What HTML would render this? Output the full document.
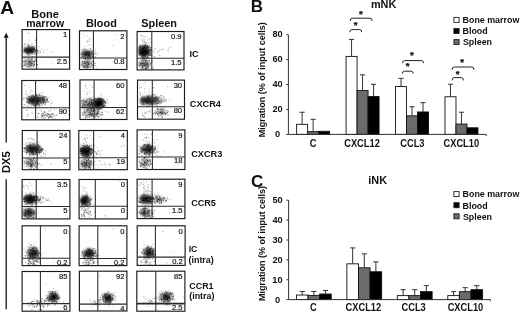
<!DOCTYPE html>
<html><head><meta charset="utf-8"><style>
html,body{margin:0;padding:0;background:#fff;}
svg{display:block;font-family:"Liberation Sans", sans-serif;filter:grayscale(1);}
</style></head><body>
<svg width="520" height="313" viewBox="0 0 520 313">
<defs><filter id="bl" x="-50%" y="-50%" width="200%" height="200%"><feGaussianBlur stdDeviation="1.4"/></filter><filter id="dt" x="0" y="0" width="100%" height="100%"><feGaussianBlur stdDeviation="0.7"/></filter><clipPath id="c00"><rect x="22.1" y="29.6" width="47.5" height="39.6"/></clipPath><clipPath id="c01"><rect x="79.5" y="30.8" width="47.4" height="38.7"/></clipPath><clipPath id="c02"><rect x="137.1" y="31.5" width="46.9" height="38.4"/></clipPath><clipPath id="c10"><rect x="21.8" y="80.5" width="47.7" height="39.3"/></clipPath><clipPath id="c11"><rect x="80" y="79.9" width="46.9" height="39.6"/></clipPath><clipPath id="c12"><rect x="137.5" y="80.1" width="47.0" height="39.1"/></clipPath><clipPath id="c20"><rect x="22.3" y="130.5" width="47.6" height="39.2"/></clipPath><clipPath id="c21"><rect x="78.8" y="130.5" width="48.5" height="39.2"/></clipPath><clipPath id="c22"><rect x="137.1" y="129.9" width="47.8" height="39.6"/></clipPath><clipPath id="c30"><rect x="22.1" y="179.5" width="47.8" height="39.4"/></clipPath><clipPath id="c31"><rect x="79.1" y="179.5" width="48.2" height="39.4"/></clipPath><clipPath id="c32"><rect x="137.1" y="179.2" width="47.8" height="39.4"/></clipPath><clipPath id="c40"><rect x="22.1" y="225.8" width="47.8" height="39.8"/></clipPath><clipPath id="c41"><rect x="79.1" y="225.8" width="47.8" height="39.8"/></clipPath><clipPath id="c42"><rect x="137.2" y="225.8" width="47.9" height="39.6"/></clipPath><clipPath id="c50"><rect x="22.1" y="271.5" width="47.8" height="39.7"/></clipPath><clipPath id="c51"><rect x="79.4" y="271.2" width="47.5" height="39.8"/></clipPath><clipPath id="c52"><rect x="136.8" y="271.2" width="48.1" height="40.0"/></clipPath></defs>
<rect width="520" height="313" fill="#fff"/>
<g id="panelA">
<text x="0.32" y="14.30" font-size="19.2" font-weight="bold" fill="#111">A</text>
<text x="31.33" y="17.60" font-size="11.0" font-weight="bold" fill="#111">Bone</text>
<text x="26.16" y="26.50" font-size="10.5" font-weight="bold" fill="#111">marrow</text>
<text x="85.94" y="26.50" font-size="10.9" font-weight="bold" fill="#111">Blood</text>
<text x="141.27" y="26.50" font-size="10.9" font-weight="bold" fill="#111">Spleen</text>
<text transform="translate(189.56 57.20) scale(1 1.07)" font-size="9.1" font-weight="bold" fill="#111">IC</text>
<text transform="translate(189.83 106.50) scale(1 1.07)" font-size="9.2" font-weight="bold" fill="#111">CXCR4</text>
<text transform="translate(191.13 156.50) scale(1 1.07)" font-size="9.2" font-weight="bold" fill="#111">CXCR3</text>
<text transform="translate(191.14 206.10) scale(1 1.07)" font-size="9.1" font-weight="bold" fill="#111">CCR5</text>
<text transform="translate(188.68 251.80) scale(1 1.07)" font-size="8.8" font-weight="bold" fill="#111">IC</text>
<text x="188.56" y="262.70" font-size="8.9" font-weight="bold" fill="#111">(intra)</text>
<text transform="translate(189.34 288.50) scale(1 1.07)" font-size="8.9" font-weight="bold" fill="#111">CCR1</text>
<text x="189.25" y="298.80" font-size="8.9" font-weight="bold" fill="#111">(intra)</text>
<path d="M6.2 36.5 V142.5 M6.2 179.3 V309.3" stroke="#111" stroke-width="1.3" fill="none"/>
<path d="M6.2 32.8 L3.8 37.8 L8.6 37.8 Z" fill="#111"/>
<text transform="translate(9.60 173.08) rotate(-90)" font-size="11.2" font-weight="bold" fill="#111">DX5</text>
<g clip-path="url(#c00)"><g filter="url(#bl)">
<ellipse cx="29.5" cy="50" rx="6.0" ry="3.1" fill="#000" opacity="0.80"/>
<ellipse cx="29.3" cy="63" rx="5.6" ry="4.8" fill="#000" opacity="0.28"/>
</g></g>
<g clip-path="url(#c01)"><g filter="url(#bl)">
<ellipse cx="87" cy="54" rx="5.6" ry="4.0" fill="#000" opacity="0.60"/>
<ellipse cx="86.5" cy="64" rx="5.6" ry="4.0" fill="#000" opacity="0.30"/>
</g></g>
<g clip-path="url(#c02)"><g filter="url(#bl)">
<ellipse cx="144" cy="51" rx="5.6" ry="5.6" fill="#000" opacity="0.85"/>
<ellipse cx="144.5" cy="64" rx="5.6" ry="4.4" fill="#000" opacity="0.35"/>
</g></g>
<g clip-path="url(#c10)"><g filter="url(#bl)">
<ellipse cx="37" cy="100" rx="8.8" ry="4.4" fill="#000" opacity="0.55"/>
<ellipse cx="32" cy="100" rx="4.8" ry="3.2" fill="#000" opacity="0.45"/>
</g></g>
<g clip-path="url(#c11)"><g filter="url(#bl)">
<ellipse cx="99" cy="103" rx="4.8" ry="4.4" fill="#000" opacity="0.85"/>
<ellipse cx="91" cy="104" rx="9.6" ry="5.6" fill="#000" opacity="0.35"/>
<ellipse cx="92" cy="113.5" rx="8.8" ry="4.0" fill="#000" opacity="0.25"/>
</g></g>
<g clip-path="url(#c12)"><g filter="url(#bl)">
<ellipse cx="150" cy="100" rx="10.0" ry="4.0" fill="#000" opacity="0.50"/>
<ellipse cx="145.5" cy="100" rx="5.2" ry="3.2" fill="#000" opacity="0.35"/>
<ellipse cx="161" cy="112" rx="6.0" ry="3.6" fill="#000" opacity="0.26"/>
</g></g>
<g clip-path="url(#c20)"><g filter="url(#bl)">
<ellipse cx="33" cy="149" rx="7.2" ry="4.4" fill="#000" opacity="0.75"/>
<ellipse cx="30" cy="163" rx="5.6" ry="4.4" fill="#000" opacity="0.30"/>
</g></g>
<g clip-path="url(#c21)"><g filter="url(#bl)">
<ellipse cx="85.5" cy="151" rx="5.6" ry="4.8" fill="#000" opacity="0.90"/>
<ellipse cx="86" cy="163.5" rx="5.6" ry="4.4" fill="#000" opacity="0.40"/>
</g></g>
<g clip-path="url(#c22)"><g filter="url(#bl)">
<ellipse cx="147.5" cy="149" rx="6.4" ry="4.4" fill="#000" opacity="0.65"/>
<ellipse cx="145" cy="162.5" rx="5.6" ry="4.4" fill="#000" opacity="0.28"/>
</g></g>
<g clip-path="url(#c30)"><g filter="url(#bl)">
<ellipse cx="30.5" cy="199" rx="6.8" ry="4.0" fill="#000" opacity="0.85"/>
<ellipse cx="29" cy="212.5" rx="5.6" ry="4.4" fill="#000" opacity="0.60"/>
</g></g>
<g clip-path="url(#c31)"><g filter="url(#bl)">
<ellipse cx="84.5" cy="200.5" rx="4.8" ry="4.4" fill="#000" opacity="0.80"/>
</g></g>
<g clip-path="url(#c32)"><g filter="url(#bl)">
<ellipse cx="146" cy="199" rx="6.4" ry="4.0" fill="#000" opacity="0.75"/>
<ellipse cx="159" cy="199.5" rx="6.4" ry="2.8" fill="#000" opacity="0.30"/>
<ellipse cx="145" cy="212.5" rx="5.6" ry="4.4" fill="#000" opacity="0.40"/>
</g></g>
<g clip-path="url(#c40)"><g filter="url(#bl)">
<ellipse cx="33" cy="253.5" rx="6.0" ry="6.0" fill="#000" opacity="0.50"/>
<ellipse cx="33" cy="252.5" rx="3.2" ry="3.2" fill="#000" opacity="0.40"/>
</g></g>
<g clip-path="url(#c41)"><g filter="url(#bl)">
<ellipse cx="89" cy="253.5" rx="6.4" ry="4.8" fill="#000" opacity="0.50"/>
<ellipse cx="89.5" cy="253" rx="3.6" ry="2.8" fill="#000" opacity="0.40"/>
</g></g>
<g clip-path="url(#c42)"><g filter="url(#bl)">
<ellipse cx="148.5" cy="252.5" rx="5.6" ry="5.2" fill="#000" opacity="0.50"/>
<ellipse cx="149" cy="252" rx="3.2" ry="3.2" fill="#000" opacity="0.40"/>
</g></g>
<g clip-path="url(#c50)"><g filter="url(#bl)">
<ellipse cx="53" cy="297" rx="5.0" ry="4.5" fill="#000" opacity="0.62"/>
<ellipse cx="53.5" cy="296.5" rx="2.8" ry="2.4" fill="#000" opacity="0.50"/>
</g></g>
<g clip-path="url(#c51)"><g filter="url(#bl)">
<ellipse cx="107.5" cy="298" rx="5.2" ry="4.4" fill="#000" opacity="0.58"/>
<ellipse cx="107.5" cy="298" rx="2.8" ry="2.4" fill="#000" opacity="0.45"/>
</g></g>
<g clip-path="url(#c52)"><g filter="url(#bl)">
<ellipse cx="166" cy="297" rx="5.6" ry="5.2" fill="#000" opacity="0.45"/>
<ellipse cx="166.5" cy="297" rx="2.8" ry="2.8" fill="#000" opacity="0.38"/>
</g></g>
<g>
<path d="M32.8 43.7h1.1v1.1h-1.1zM27.9 39.6h1.1v1.1h-1.1zM23.8 45.5h1.1v1.1h-1.1zM26.3 41.7h1.1v1.1h-1.1zM28.5 39.5h1.1v1.1h-1.1zM41.3 48.3h1.1v1.1h-1.1zM46.9 49h1.1v1.1h-1.1zM31.5 48.3h1.1v1.1h-1.1zM28.2 52h1.1v1.1h-1.1zM30.7 49.3h1.1v1.1h-1.1zM38.1 52.4h1.1v1.1h-1.1zM35.5 55.2h1.1v1.1h-1.1zM34.7 48.9h1.1v1.1h-1.1zM31.2 52.4h1.1v1.1h-1.1zM34.1 51.4h1.1v1.1h-1.1zM28.7 53.6h1.1v1.1h-1.1zM34.2 44.9h1.1v1.1h-1.1zM90.1 39.3h1.1v1.1h-1.1zM83.9 36.2h1.1v1.1h-1.1zM94.9 56.3h1.1v1.1h-1.1zM86.9 59.6h1.1v1.1h-1.1zM93.2 56h1.1v1.1h-1.1zM88.7 51.3h1.1v1.1h-1.1zM91.5 59.4h1.1v1.1h-1.1zM88.1 51.9h1.1v1.1h-1.1zM96.1 54.9h1.1v1.1h-1.1zM94.2 58.2h1.1v1.1h-1.1zM89.7 51.7h1.1v1.1h-1.1zM85.2 57.3h1.1v1.1h-1.1zM89.7 58.2h1.1v1.1h-1.1zM93.1 63.8h1.1v1.1h-1.1zM93.2 63.3h1.1v1.1h-1.1zM92.9 62.5h1.1v1.1h-1.1zM88 60.8h1.1v1.1h-1.1zM81.4 60.4h1.1v1.1h-1.1zM86.4 58.3h1.1v1.1h-1.1zM144.3 42.9h1.1v1.1h-1.1zM141.4 35.4h1.1v1.1h-1.1zM165.1 49h1.1v1.1h-1.1zM168.3 51.8h1.1v1.1h-1.1zM145.5 60.5h1.1v1.1h-1.1zM145.2 52.9h1.1v1.1h-1.1zM141.2 55.4h1.1v1.1h-1.1zM144.9 47.2h1.1v1.1h-1.1zM148.4 51.6h1.1v1.1h-1.1zM145.8 55.6h1.1v1.1h-1.1zM142.9 47.1h1.1v1.1h-1.1zM147.5 46.8h1.1v1.1h-1.1zM149.4 48.1h1.1v1.1h-1.1zM141.6 44.7h1.1v1.1h-1.1zM150.6 54.6h1.1v1.1h-1.1zM144.5 49.3h1.1v1.1h-1.1zM149.8 41.2h1.1v1.1h-1.1zM149.3 54.7h1.1v1.1h-1.1zM143.9 54.3h1.1v1.1h-1.1zM148.2 51.5h1.1v1.1h-1.1zM147.1 46h1.1v1.1h-1.1zM153.3 52.2h1.1v1.1h-1.1zM141.8 52h1.1v1.1h-1.1zM146.6 57.7h1.1v1.1h-1.1zM154.3 48.9h1.1v1.1h-1.1zM148.8 51.3h1.1v1.1h-1.1zM149.3 51.1h1.1v1.1h-1.1zM144.7 43.6h1.1v1.1h-1.1zM144.5 64.9h1.1v1.1h-1.1zM147.6 57.4h1.1v1.1h-1.1zM140.9 63h1.1v1.1h-1.1zM29.5 87h1.1v1.1h-1.1zM29.2 87.3h1.1v1.1h-1.1zM30.2 92.9h1.1v1.1h-1.1zM27.1 109.8h1.1v1.1h-1.1zM30.9 112h1.1v1.1h-1.1zM28 114.2h1.1v1.1h-1.1zM37.8 101.4h1.1v1.1h-1.1zM40.1 102.1h1.1v1.1h-1.1zM50.1 105.4h1.1v1.1h-1.1zM28.7 96.3h1.1v1.1h-1.1zM24.2 105.1h1.1v1.1h-1.1zM30.9 94.8h1.1v1.1h-1.1zM44.7 101h1.1v1.1h-1.1zM43.1 98.2h1.1v1.1h-1.1zM41.5 101.1h1.1v1.1h-1.1zM37.9 106.8h1.1v1.1h-1.1zM37.2 101.9h1.1v1.1h-1.1zM36.6 96.5h1.1v1.1h-1.1zM38.9 106.2h1.1v1.1h-1.1zM37.7 98.2h1.1v1.1h-1.1zM52.7 102.2h1.1v1.1h-1.1zM36.1 108.8h1.1v1.1h-1.1zM33 97.8h1.1v1.1h-1.1zM50 104.7h1.1v1.1h-1.1zM46 99.5h1.1v1.1h-1.1zM36.9 101.2h1.1v1.1h-1.1zM50.3 96h1.1v1.1h-1.1zM42.7 92h1.1v1.1h-1.1zM30.4 100.7h1.1v1.1h-1.1zM26.5 102.5h1.1v1.1h-1.1zM38.7 95.8h1.1v1.1h-1.1zM39.5 99.6h1.1v1.1h-1.1zM32.9 95.4h1.1v1.1h-1.1zM27.6 101.1h1.1v1.1h-1.1zM90.1 88.7h1.1v1.1h-1.1zM86 87.8h1.1v1.1h-1.1zM84.3 90.9h1.1v1.1h-1.1zM87 92.3h1.1v1.1h-1.1zM89.3 85h1.1v1.1h-1.1zM107.6 102.9h1.1v1.1h-1.1zM105.4 105.9h1.1v1.1h-1.1zM102 108.6h1.1v1.1h-1.1zM99.6 102.6h1.1v1.1h-1.1zM98.1 106.6h1.1v1.1h-1.1zM105.8 101.6h1.1v1.1h-1.1zM101.8 110.3h1.1v1.1h-1.1zM99.8 101.5h1.1v1.1h-1.1zM100.1 98.7h1.1v1.1h-1.1zM107.3 102.8h1.1v1.1h-1.1zM104.6 104.6h1.1v1.1h-1.1zM101 103.1h1.1v1.1h-1.1zM101.2 107.1h1.1v1.1h-1.1zM91.3 103.5h1.1v1.1h-1.1zM105.4 106.6h1.1v1.1h-1.1zM97 104.3h1.1v1.1h-1.1zM106.9 105.1h1.1v1.1h-1.1zM98.7 98.3h1.1v1.1h-1.1zM94.5 106.9h1.1v1.1h-1.1zM95.9 106.4h1.1v1.1h-1.1zM87.7 112.2h1.1v1.1h-1.1zM91.2 103.1h1.1v1.1h-1.1zM102.3 108.3h1.1v1.1h-1.1zM95.2 113.9h1.1v1.1h-1.1zM83.6 113.1h1.1v1.1h-1.1zM96.2 103.5h1.1v1.1h-1.1zM90 104.5h1.1v1.1h-1.1zM91.1 103.3h1.1v1.1h-1.1zM91.1 106.6h1.1v1.1h-1.1zM81.8 103.9h1.1v1.1h-1.1zM96.2 105.9h1.1v1.1h-1.1zM87.3 93.8h1.1v1.1h-1.1zM97.8 102.4h1.1v1.1h-1.1zM87.8 102.9h1.1v1.1h-1.1zM95.7 102.6h1.1v1.1h-1.1zM103.7 95.6h1.1v1.1h-1.1zM101.2 103.6h1.1v1.1h-1.1zM92.7 107.1h1.1v1.1h-1.1zM84.4 101.7h1.1v1.1h-1.1zM88.6 101.9h1.1v1.1h-1.1zM148.6 110.4h1.1v1.1h-1.1zM146.4 113.3h1.1v1.1h-1.1zM148.3 110.2h1.1v1.1h-1.1zM148 114.8h1.1v1.1h-1.1zM145.3 111.8h1.1v1.1h-1.1zM143.6 109.9h1.1v1.1h-1.1zM146.2 107.5h1.1v1.1h-1.1zM141.2 113h1.1v1.1h-1.1zM144.6 113.1h1.1v1.1h-1.1zM140.9 109h1.1v1.1h-1.1zM139.4 84.6h1.1v1.1h-1.1zM141.7 86.6h1.1v1.1h-1.1zM144.3 89.7h1.1v1.1h-1.1zM143.3 83.8h1.1v1.1h-1.1zM145 99.6h1.1v1.1h-1.1zM145.1 99.2h1.1v1.1h-1.1zM144.9 104.5h1.1v1.1h-1.1zM164 97.9h1.1v1.1h-1.1zM163.7 96.7h1.1v1.1h-1.1zM149.1 102.7h1.1v1.1h-1.1zM138.7 106.1h1.1v1.1h-1.1zM155 94.8h1.1v1.1h-1.1zM155.9 97h1.1v1.1h-1.1zM158 100.4h1.1v1.1h-1.1zM147.4 94.8h1.1v1.1h-1.1zM155 98.6h1.1v1.1h-1.1zM143.1 104.7h1.1v1.1h-1.1zM139.3 102.3h1.1v1.1h-1.1zM152.4 95.9h1.1v1.1h-1.1zM146 99.8h1.1v1.1h-1.1zM148.2 97.4h1.1v1.1h-1.1zM152 100.5h1.1v1.1h-1.1zM153 100h1.1v1.1h-1.1zM28.1 138.4h1.1v1.1h-1.1zM29.9 137.9h1.1v1.1h-1.1zM33.4 138.3h1.1v1.1h-1.1zM23.3 141.7h1.1v1.1h-1.1zM32.9 138.1h1.1v1.1h-1.1zM41.2 150.1h1.1v1.1h-1.1zM40.1 152.2h1.1v1.1h-1.1zM32 148.6h1.1v1.1h-1.1zM30 145.5h1.1v1.1h-1.1zM33.8 148.9h1.1v1.1h-1.1zM33.1 149.8h1.1v1.1h-1.1zM40.6 155.6h1.1v1.1h-1.1zM31 150.3h1.1v1.1h-1.1zM41.2 149.5h1.1v1.1h-1.1zM40.9 147.9h1.1v1.1h-1.1zM45 154.8h1.1v1.1h-1.1zM26.5 141.8h1.1v1.1h-1.1zM31.1 147.7h1.1v1.1h-1.1zM33 153.7h1.1v1.1h-1.1zM35.1 153.3h1.1v1.1h-1.1zM32.2 153.8h1.1v1.1h-1.1zM30.8 152.4h1.1v1.1h-1.1zM30.2 151.7h1.1v1.1h-1.1zM31.5 147.3h1.1v1.1h-1.1zM35 149.2h1.1v1.1h-1.1zM31.4 151.6h1.1v1.1h-1.1zM37.5 155.5h1.1v1.1h-1.1zM32.9 148.6h1.1v1.1h-1.1zM31.9 142.8h1.1v1.1h-1.1zM39.5 149.3h1.1v1.1h-1.1zM38.7 145.2h1.1v1.1h-1.1zM30.7 151.6h1.1v1.1h-1.1zM30.1 146.8h1.1v1.1h-1.1zM28.5 146.7h1.1v1.1h-1.1zM31.2 147.3h1.1v1.1h-1.1zM30.7 145.2h1.1v1.1h-1.1zM31.7 153h1.1v1.1h-1.1zM29.4 164.5h1.1v1.1h-1.1zM31.2 165.7h1.1v1.1h-1.1zM29.4 164.1h1.1v1.1h-1.1zM31.4 158.5h1.1v1.1h-1.1zM23.6 165.2h1.1v1.1h-1.1zM95.9 153h1.1v1.1h-1.1zM96.8 151.6h1.1v1.1h-1.1zM91.9 154.9h1.1v1.1h-1.1zM98.7 152h1.1v1.1h-1.1zM99.4 155.5h1.1v1.1h-1.1zM99.7 153.3h1.1v1.1h-1.1zM96.4 157.6h1.1v1.1h-1.1zM102.8 163.6h1.1v1.1h-1.1zM103.8 161.3h1.1v1.1h-1.1zM103.3 157.2h1.1v1.1h-1.1zM105.1 166.7h1.1v1.1h-1.1zM91.6 139.4h1.1v1.1h-1.1zM90.1 138h1.1v1.1h-1.1zM87 137.9h1.1v1.1h-1.1zM89 149.8h1.1v1.1h-1.1zM82.1 148.8h1.1v1.1h-1.1zM92.9 143.8h1.1v1.1h-1.1zM81.6 151.7h1.1v1.1h-1.1zM87.6 150.8h1.1v1.1h-1.1zM84 151.6h1.1v1.1h-1.1zM89.3 158.2h1.1v1.1h-1.1zM84.2 153.5h1.1v1.1h-1.1zM81.4 146.7h1.1v1.1h-1.1zM96.5 147.5h1.1v1.1h-1.1zM90.9 152.9h1.1v1.1h-1.1zM92 156.8h1.1v1.1h-1.1zM91.7 143.8h1.1v1.1h-1.1zM81.7 146.7h1.1v1.1h-1.1zM81.2 156.4h1.1v1.1h-1.1zM83.3 149.4h1.1v1.1h-1.1zM80 151.2h1.1v1.1h-1.1zM87.4 158.3h1.1v1.1h-1.1zM85.3 151.3h1.1v1.1h-1.1zM88.8 143h1.1v1.1h-1.1zM84.2 146.4h1.1v1.1h-1.1zM88.9 158.1h1.1v1.1h-1.1zM80.3 162.5h1.1v1.1h-1.1zM85.5 162.5h1.1v1.1h-1.1zM82.4 164.2h1.1v1.1h-1.1zM82.9 164.5h1.1v1.1h-1.1zM89.1 162.1h1.1v1.1h-1.1zM82.5 164.6h1.1v1.1h-1.1zM85 165h1.1v1.1h-1.1zM85 165.3h1.1v1.1h-1.1zM145.5 133.6h1.1v1.1h-1.1zM147.2 134.2h1.1v1.1h-1.1zM158.5 151.1h1.1v1.1h-1.1zM151.5 142.7h1.1v1.1h-1.1zM144 156.4h1.1v1.1h-1.1zM144 141h1.1v1.1h-1.1zM157.8 145.6h1.1v1.1h-1.1zM152.4 148.2h1.1v1.1h-1.1zM138.3 154.1h1.1v1.1h-1.1zM157.8 144.5h1.1v1.1h-1.1zM139.4 148.5h1.1v1.1h-1.1zM152.8 142.7h1.1v1.1h-1.1zM145.2 153.5h1.1v1.1h-1.1zM140.9 148.2h1.1v1.1h-1.1zM148.7 139.7h1.1v1.1h-1.1zM31.5 184.6h1.1v1.1h-1.1zM25 192.1h1.1v1.1h-1.1zM31.4 191.4h1.1v1.1h-1.1zM29.2 193.9h1.1v1.1h-1.1zM36 186.6h1.1v1.1h-1.1zM47.1 199.8h1.1v1.1h-1.1zM42.1 197.4h1.1v1.1h-1.1zM46.5 200.2h1.1v1.1h-1.1zM45.6 200h1.1v1.1h-1.1zM43.8 198.4h1.1v1.1h-1.1zM45.2 201h1.1v1.1h-1.1zM40.7 202.3h1.1v1.1h-1.1zM36.7 192.4h1.1v1.1h-1.1zM28.7 202.3h1.1v1.1h-1.1zM26.5 193.5h1.1v1.1h-1.1zM26.8 199.8h1.1v1.1h-1.1zM38.7 199.6h1.1v1.1h-1.1zM34.6 205.9h1.1v1.1h-1.1zM42 199.1h1.1v1.1h-1.1zM39.1 194.7h1.1v1.1h-1.1zM28.1 198.5h1.1v1.1h-1.1zM36.4 199h1.1v1.1h-1.1zM35 205.4h1.1v1.1h-1.1zM38.5 201.1h1.1v1.1h-1.1zM33.8 195.7h1.1v1.1h-1.1zM27.5 199h1.1v1.1h-1.1zM30.2 195.5h1.1v1.1h-1.1zM24 202.1h1.1v1.1h-1.1zM39.7 199.4h1.1v1.1h-1.1zM27.6 197.4h1.1v1.1h-1.1zM34.7 202.3h1.1v1.1h-1.1zM29.9 197h1.1v1.1h-1.1zM33.7 207.2h1.1v1.1h-1.1zM24.6 206.7h1.1v1.1h-1.1zM26.9 200.3h1.1v1.1h-1.1zM33.3 192.3h1.1v1.1h-1.1zM39.8 200h1.1v1.1h-1.1zM26.7 213.6h1.1v1.1h-1.1zM23.8 214.9h1.1v1.1h-1.1zM33 213.5h1.1v1.1h-1.1zM34.6 204.5h1.1v1.1h-1.1zM27.6 216h1.1v1.1h-1.1zM31 205h1.1v1.1h-1.1zM33.4 213.5h1.1v1.1h-1.1zM35.3 216.6h1.1v1.1h-1.1zM26.9 205.1h1.1v1.1h-1.1zM36 214.3h1.1v1.1h-1.1zM35.9 209.2h1.1v1.1h-1.1zM26.8 217h1.1v1.1h-1.1zM29.3 215.9h1.1v1.1h-1.1zM80.8 185.6h1.1v1.1h-1.1zM84.7 188.2h1.1v1.1h-1.1zM87.2 198.8h1.1v1.1h-1.1zM86.6 201.2h1.1v1.1h-1.1zM89.2 195.7h1.1v1.1h-1.1zM85 201.7h1.1v1.1h-1.1zM83.3 203.9h1.1v1.1h-1.1zM82.9 209.3h1.1v1.1h-1.1zM87.9 200.9h1.1v1.1h-1.1zM93.4 203.8h1.1v1.1h-1.1zM83.3 201.1h1.1v1.1h-1.1zM89.6 200.5h1.1v1.1h-1.1zM141 183.5h1.1v1.1h-1.1zM149.4 184.5h1.1v1.1h-1.1zM146.8 189.9h1.1v1.1h-1.1zM142.8 187.5h1.1v1.1h-1.1zM148.9 181.5h1.1v1.1h-1.1zM146.7 189.2h1.1v1.1h-1.1zM142.9 186.1h1.1v1.1h-1.1zM143.2 189.3h1.1v1.1h-1.1zM146.5 188.7h1.1v1.1h-1.1zM146.9 183.7h1.1v1.1h-1.1zM154.2 192.9h1.1v1.1h-1.1zM150.2 192.9h1.1v1.1h-1.1zM149.2 203.9h1.1v1.1h-1.1zM149.1 204h1.1v1.1h-1.1zM145.7 195.8h1.1v1.1h-1.1zM153.7 194.1h1.1v1.1h-1.1zM156.4 197.4h1.1v1.1h-1.1zM147.4 207.3h1.1v1.1h-1.1zM154.8 198.2h1.1v1.1h-1.1zM147.7 199.7h1.1v1.1h-1.1zM145.4 202.2h1.1v1.1h-1.1zM148.4 201.4h1.1v1.1h-1.1zM165.3 200.3h1.1v1.1h-1.1zM163.2 201.3h1.1v1.1h-1.1zM165 199.4h1.1v1.1h-1.1zM159.7 195.6h1.1v1.1h-1.1zM147.9 206.1h1.1v1.1h-1.1zM142.1 208.1h1.1v1.1h-1.1zM146.8 208.2h1.1v1.1h-1.1zM143.5 213.4h1.1v1.1h-1.1zM147.8 209.9h1.1v1.1h-1.1zM148.9 217.5h1.1v1.1h-1.1zM139.6 212.2h1.1v1.1h-1.1zM147.1 216.4h1.1v1.1h-1.1zM143.3 206.7h1.1v1.1h-1.1zM144 207.6h1.1v1.1h-1.1zM35.5 253.4h1.1v1.1h-1.1zM30.7 256.6h1.1v1.1h-1.1zM41.2 248.8h1.1v1.1h-1.1zM38.1 254.5h1.1v1.1h-1.1zM32.6 258h1.1v1.1h-1.1zM30.6 244.5h1.1v1.1h-1.1zM35.2 241.9h1.1v1.1h-1.1zM33.3 243.4h1.1v1.1h-1.1zM43.5 252.3h1.1v1.1h-1.1zM33 261.9h1.1v1.1h-1.1zM31.8 251h1.1v1.1h-1.1zM37.5 253.9h1.1v1.1h-1.1zM29.6 254.6h1.1v1.1h-1.1zM86.7 254.2h1.1v1.1h-1.1zM96.1 252.7h1.1v1.1h-1.1zM87.8 259.2h1.1v1.1h-1.1zM88.8 252.6h1.1v1.1h-1.1zM90.2 253.5h1.1v1.1h-1.1zM90.2 252.9h1.1v1.1h-1.1zM89.5 253.1h1.1v1.1h-1.1zM84.9 254.7h1.1v1.1h-1.1zM143.2 261.4h1.1v1.1h-1.1zM144.9 260.9h1.1v1.1h-1.1zM142.3 258.9h1.1v1.1h-1.1zM143.9 258.6h1.1v1.1h-1.1zM141.7 262.2h1.1v1.1h-1.1zM141.7 261.7h1.1v1.1h-1.1zM146.2 260.5h1.1v1.1h-1.1zM150.6 260.3h1.1v1.1h-1.1zM140.8 260.9h1.1v1.1h-1.1zM148.8 261.7h1.1v1.1h-1.1zM143.4 259.1h1.1v1.1h-1.1zM139.8 255.1h1.1v1.1h-1.1zM138.9 248.5h1.1v1.1h-1.1zM147 246.3h1.1v1.1h-1.1zM44.2 301.9h1.1v1.1h-1.1zM45.9 298.3h1.1v1.1h-1.1zM41.1 300.4h1.1v1.1h-1.1zM44.2 300.1h1.1v1.1h-1.1zM45.4 300.7h1.1v1.1h-1.1zM45.4 298.1h1.1v1.1h-1.1zM39.9 300.1h1.1v1.1h-1.1zM43.9 300.3h1.1v1.1h-1.1zM57.8 289.7h1.1v1.1h-1.1zM48.1 301.3h1.1v1.1h-1.1zM59.5 297.6h1.1v1.1h-1.1zM57 290.7h1.1v1.1h-1.1zM93.2 304.6h1.1v1.1h-1.1zM99.2 299h1.1v1.1h-1.1zM102.7 302.7h1.1v1.1h-1.1zM96.1 303.9h1.1v1.1h-1.1zM94.4 303.8h1.1v1.1h-1.1zM92.8 301.8h1.1v1.1h-1.1zM91.9 303.4h1.1v1.1h-1.1zM98.1 304.8h1.1v1.1h-1.1zM90.2 305.6h1.1v1.1h-1.1zM95.3 303.8h1.1v1.1h-1.1zM96.6 304.2h1.1v1.1h-1.1zM97.4 303.5h1.1v1.1h-1.1zM97.4 301.9h1.1v1.1h-1.1zM92 307.2h1.1v1.1h-1.1zM99.5 299.1h1.1v1.1h-1.1zM103.1 295.6h1.1v1.1h-1.1zM99.8 300.3h1.1v1.1h-1.1zM99.5 298.8h1.1v1.1h-1.1zM100.8 302.9h1.1v1.1h-1.1zM102.2 295.1h1.1v1.1h-1.1zM107.5 305.2h1.1v1.1h-1.1zM107.4 297.3h1.1v1.1h-1.1zM107.9 292.2h1.1v1.1h-1.1zM104.6 292.4h1.1v1.1h-1.1zM109.7 301.3h1.1v1.1h-1.1zM104.6 298.2h1.1v1.1h-1.1zM146.6 300.9h1.1v1.1h-1.1zM158 297.7h1.1v1.1h-1.1zM149.3 301.8h1.1v1.1h-1.1zM155.3 298.4h1.1v1.1h-1.1zM143.8 297.3h1.1v1.1h-1.1zM149.9 300.3h1.1v1.1h-1.1zM152.3 298.7h1.1v1.1h-1.1zM146.5 298.2h1.1v1.1h-1.1zM151.8 298h1.1v1.1h-1.1zM154.8 298.9h1.1v1.1h-1.1zM164.1 301.4h1.1v1.1h-1.1zM164 300.2h1.1v1.1h-1.1zM159.1 299.9h1.1v1.1h-1.1zM160.8 302.8h1.1v1.1h-1.1zM163.5 298.2h1.1v1.1h-1.1zM160.1 298.2h1.1v1.1h-1.1zM166.6 298.9h1.1v1.1h-1.1zM159.1 296.5h1.1v1.1h-1.1zM175.4 301.2h1.1v1.1h-1.1zM170.1 291.5h1.1v1.1h-1.1zM173.7 300.7h1.1v1.1h-1.1zM157.8 302.7h1.1v1.1h-1.1zM159 295.8h1.1v1.1h-1.1zM164.5 297.9h1.1v1.1h-1.1zM169.5 296h1.1v1.1h-1.1zM166.3 301.4h1.1v1.1h-1.1zM163.8 295.2h1.1v1.1h-1.1z" fill="#000" opacity="0.15"/>
<path d="M51.6 62.7h1.1v1.1h-1.1zM43.3 49.8h1.1v1.1h-1.1zM115.2 34.3h1.1v1.1h-1.1zM112 44.8h1.1v1.1h-1.1zM172.5 40.7h1.1v1.1h-1.1zM124.9 82h1.1v1.1h-1.1zM158.8 108.7h1.1v1.1h-1.1zM59.9 132.7h1.1v1.1h-1.1zM178.5 139.4h1.1v1.1h-1.1zM39.8 196.9h1.1v1.1h-1.1zM66.9 216.7h1.1v1.1h-1.1zM174 215.2h1.1v1.1h-1.1zM179 180.3h1.1v1.1h-1.1zM53.1 261.3h1.1v1.1h-1.1zM170.3 251.7h1.1v1.1h-1.1zM45.1 283.8h1.1v1.1h-1.1zM54.9 304.8h1.1v1.1h-1.1zM112 279.5h1.1v1.1h-1.1zM106.5 292.9h1.1v1.1h-1.1zM159.7 291.2h1.1v1.1h-1.1zM183 295.9h1.1v1.1h-1.1z" fill="#000" opacity="0.2"/>
<path d="M35.5 38.4h1.1v1.1h-1.1zM35.2 41.8h1.1v1.1h-1.1zM35.3 38.9h1.1v1.1h-1.1zM27.7 32.7h1.1v1.1h-1.1zM28.4 44.3h1.1v1.1h-1.1zM28.7 33h1.1v1.1h-1.1zM42.9 51.8h1.1v1.1h-1.1zM39.8 51.6h1.1v1.1h-1.1zM24.5 55.3h1.1v1.1h-1.1zM27.9 45.7h1.1v1.1h-1.1zM28.4 49.9h1.1v1.1h-1.1zM38.3 45.9h1.1v1.1h-1.1zM31.9 56h1.1v1.1h-1.1zM24.5 47.4h1.1v1.1h-1.1zM24.7 44h1.1v1.1h-1.1zM28.1 55.2h1.1v1.1h-1.1zM29.9 51.1h1.1v1.1h-1.1zM33.5 48.4h1.1v1.1h-1.1zM35.5 52.2h1.1v1.1h-1.1zM88.4 40.6h1.1v1.1h-1.1zM82.5 33.8h1.1v1.1h-1.1zM86.9 35.5h1.1v1.1h-1.1zM92.4 44.5h1.1v1.1h-1.1zM92.6 36h1.1v1.1h-1.1zM97.2 52.5h1.1v1.1h-1.1zM91.4 56h1.1v1.1h-1.1zM94.8 50h1.1v1.1h-1.1zM95 52.3h1.1v1.1h-1.1zM83.4 48h1.1v1.1h-1.1zM81.7 50.2h1.1v1.1h-1.1zM92.4 55.6h1.1v1.1h-1.1zM87.5 60.2h1.1v1.1h-1.1zM83.2 45.9h1.1v1.1h-1.1zM88.5 53h1.1v1.1h-1.1zM97.3 53.5h1.1v1.1h-1.1zM83.7 61.8h1.1v1.1h-1.1zM93.3 51.5h1.1v1.1h-1.1zM84.6 52.5h1.1v1.1h-1.1zM87.7 56.4h1.1v1.1h-1.1zM85.2 63h1.1v1.1h-1.1zM83.3 57.8h1.1v1.1h-1.1zM83.4 65.1h1.1v1.1h-1.1zM83.8 65.8h1.1v1.1h-1.1zM143.8 38.7h1.1v1.1h-1.1zM141.3 34.8h1.1v1.1h-1.1zM143.2 36.6h1.1v1.1h-1.1zM147.4 38.1h1.1v1.1h-1.1zM167.9 47.8h1.1v1.1h-1.1zM158.9 54.8h1.1v1.1h-1.1zM162.4 48.6h1.1v1.1h-1.1zM153.7 51.3h1.1v1.1h-1.1zM142.2 39.7h1.1v1.1h-1.1zM139.9 48.1h1.1v1.1h-1.1zM141.3 55.2h1.1v1.1h-1.1zM142.4 59h1.1v1.1h-1.1zM148.1 43h1.1v1.1h-1.1zM147.5 53h1.1v1.1h-1.1zM142.5 53.8h1.1v1.1h-1.1zM146.1 51.5h1.1v1.1h-1.1zM145.8 43.6h1.1v1.1h-1.1zM152.4 49.7h1.1v1.1h-1.1zM139.4 52.1h1.1v1.1h-1.1zM141.3 38.8h1.1v1.1h-1.1zM141.5 39.6h1.1v1.1h-1.1zM148.9 45h1.1v1.1h-1.1zM150.2 53.6h1.1v1.1h-1.1zM138.9 50.2h1.1v1.1h-1.1zM152.4 55.5h1.1v1.1h-1.1zM147.6 45.5h1.1v1.1h-1.1zM141.2 49.9h1.1v1.1h-1.1zM140.4 45.4h1.1v1.1h-1.1zM150.2 50h1.1v1.1h-1.1zM146 53.8h1.1v1.1h-1.1zM149.4 51.5h1.1v1.1h-1.1zM140.7 68.1h1.1v1.1h-1.1zM144.2 60h1.1v1.1h-1.1zM151.5 67.2h1.1v1.1h-1.1zM143.1 63.8h1.1v1.1h-1.1zM140 64.3h1.1v1.1h-1.1zM147 63.5h1.1v1.1h-1.1zM147.2 66.7h1.1v1.1h-1.1zM143.4 64.2h1.1v1.1h-1.1zM145.3 58h1.1v1.1h-1.1zM139 64.6h1.1v1.1h-1.1zM142.2 60.4h1.1v1.1h-1.1zM32.3 91h1.1v1.1h-1.1zM29.8 91.3h1.1v1.1h-1.1zM25.7 90.6h1.1v1.1h-1.1zM24.3 84.8h1.1v1.1h-1.1zM27.4 116.2h1.1v1.1h-1.1zM26.9 115.6h1.1v1.1h-1.1zM32.2 112.8h1.1v1.1h-1.1zM37 102.9h1.1v1.1h-1.1zM37.4 107.1h1.1v1.1h-1.1zM38.4 99.2h1.1v1.1h-1.1zM23.2 97.6h1.1v1.1h-1.1zM34.4 99h1.1v1.1h-1.1zM34.5 102.6h1.1v1.1h-1.1zM23.2 105.2h1.1v1.1h-1.1zM48.8 101.2h1.1v1.1h-1.1zM50.5 98.9h1.1v1.1h-1.1zM25.1 93h1.1v1.1h-1.1zM43.1 97.3h1.1v1.1h-1.1zM27.5 97.5h1.1v1.1h-1.1zM43.5 95.9h1.1v1.1h-1.1zM38.4 98.9h1.1v1.1h-1.1zM42.7 101h1.1v1.1h-1.1zM32.1 94.8h1.1v1.1h-1.1zM31 99.3h1.1v1.1h-1.1zM42.2 92h1.1v1.1h-1.1zM35.7 102.3h1.1v1.1h-1.1zM38.1 100.8h1.1v1.1h-1.1zM23.6 97.3h1.1v1.1h-1.1zM46.2 96.4h1.1v1.1h-1.1zM24 97.3h1.1v1.1h-1.1zM37.7 99h1.1v1.1h-1.1zM36.8 97.1h1.1v1.1h-1.1zM26.5 98h1.1v1.1h-1.1zM38.1 101.6h1.1v1.1h-1.1zM30.2 100.3h1.1v1.1h-1.1zM23 98.7h1.1v1.1h-1.1zM35.6 94.9h1.1v1.1h-1.1zM26.4 104.9h1.1v1.1h-1.1zM89.6 92.1h1.1v1.1h-1.1zM87.2 90.2h1.1v1.1h-1.1zM99 101.7h1.1v1.1h-1.1zM100.2 100.4h1.1v1.1h-1.1zM95.3 100.9h1.1v1.1h-1.1zM101.6 99.8h1.1v1.1h-1.1zM95 104.4h1.1v1.1h-1.1zM99.8 103.4h1.1v1.1h-1.1zM100.9 105.7h1.1v1.1h-1.1zM100.9 103.8h1.1v1.1h-1.1zM93.3 103.5h1.1v1.1h-1.1zM102.7 99.1h1.1v1.1h-1.1zM99.7 102.7h1.1v1.1h-1.1zM94.8 97.9h1.1v1.1h-1.1zM92.6 103.6h1.1v1.1h-1.1zM97 104.6h1.1v1.1h-1.1zM99.3 107.5h1.1v1.1h-1.1zM102.5 105.7h1.1v1.1h-1.1zM92.9 105.3h1.1v1.1h-1.1zM101.6 111.9h1.1v1.1h-1.1zM86.3 93.6h1.1v1.1h-1.1zM104.8 110.3h1.1v1.1h-1.1zM97.2 109.5h1.1v1.1h-1.1zM82.6 103.3h1.1v1.1h-1.1zM102.3 106.4h1.1v1.1h-1.1zM86.1 98.4h1.1v1.1h-1.1zM85.7 104.4h1.1v1.1h-1.1zM86.7 104.7h1.1v1.1h-1.1zM94.4 103h1.1v1.1h-1.1zM92.7 106.5h1.1v1.1h-1.1zM91.3 111h1.1v1.1h-1.1zM95.3 102.2h1.1v1.1h-1.1zM100.5 97.9h1.1v1.1h-1.1zM144.8 112.5h1.1v1.1h-1.1zM141.7 115.1h1.1v1.1h-1.1zM142 113.5h1.1v1.1h-1.1zM149.1 111.7h1.1v1.1h-1.1zM144.6 117.6h1.1v1.1h-1.1zM144.7 112.9h1.1v1.1h-1.1zM143.8 112.4h1.1v1.1h-1.1zM148.8 88.3h1.1v1.1h-1.1zM144.6 81.8h1.1v1.1h-1.1zM143.7 88h1.1v1.1h-1.1zM169 99.7h1.1v1.1h-1.1zM150.4 97.4h1.1v1.1h-1.1zM164 101.4h1.1v1.1h-1.1zM146 104h1.1v1.1h-1.1zM154.2 101.1h1.1v1.1h-1.1zM143.7 92h1.1v1.1h-1.1zM144.1 100.1h1.1v1.1h-1.1zM154.7 98h1.1v1.1h-1.1zM153.2 93.9h1.1v1.1h-1.1zM139.8 95h1.1v1.1h-1.1zM164.6 100.3h1.1v1.1h-1.1zM150.4 98.5h1.1v1.1h-1.1zM153.1 97.3h1.1v1.1h-1.1zM148 91.2h1.1v1.1h-1.1zM150.3 92.4h1.1v1.1h-1.1zM151.4 94.9h1.1v1.1h-1.1zM140.8 98.3h1.1v1.1h-1.1zM153.5 94.3h1.1v1.1h-1.1zM151.9 104.5h1.1v1.1h-1.1zM149.4 99.6h1.1v1.1h-1.1zM162.1 98.1h1.1v1.1h-1.1zM148.1 103.7h1.1v1.1h-1.1zM152.7 99.6h1.1v1.1h-1.1zM143.6 105h1.1v1.1h-1.1zM147.7 95.1h1.1v1.1h-1.1zM166 100.4h1.1v1.1h-1.1zM153.3 94.8h1.1v1.1h-1.1zM150.6 95.2h1.1v1.1h-1.1zM143.7 104.3h1.1v1.1h-1.1zM141.7 99.2h1.1v1.1h-1.1zM146.9 102.2h1.1v1.1h-1.1zM147.2 101.5h1.1v1.1h-1.1zM33.8 140.3h1.1v1.1h-1.1zM29.8 137.7h1.1v1.1h-1.1zM30.8 141.7h1.1v1.1h-1.1zM30.7 149.9h1.1v1.1h-1.1zM24.6 147.3h1.1v1.1h-1.1zM33 144.3h1.1v1.1h-1.1zM30.2 147.9h1.1v1.1h-1.1zM37.7 158.2h1.1v1.1h-1.1zM28.9 142h1.1v1.1h-1.1zM33.8 144.1h1.1v1.1h-1.1zM37.4 148.1h1.1v1.1h-1.1zM34.5 148.3h1.1v1.1h-1.1zM31 151.7h1.1v1.1h-1.1zM40.7 155.7h1.1v1.1h-1.1zM32.7 148h1.1v1.1h-1.1zM41.5 149.3h1.1v1.1h-1.1zM30 144.1h1.1v1.1h-1.1zM32.1 151.1h1.1v1.1h-1.1zM39.2 154.2h1.1v1.1h-1.1zM35.5 141.6h1.1v1.1h-1.1zM32.1 163.2h1.1v1.1h-1.1zM33.6 168.3h1.1v1.1h-1.1zM33.8 158h1.1v1.1h-1.1zM31.4 167h1.1v1.1h-1.1zM26.6 160.8h1.1v1.1h-1.1zM92.8 149.4h1.1v1.1h-1.1zM96 152.6h1.1v1.1h-1.1zM100.8 150.1h1.1v1.1h-1.1zM97.1 154.1h1.1v1.1h-1.1zM96.4 154.1h1.1v1.1h-1.1zM98.2 149.9h1.1v1.1h-1.1zM90.8 151h1.1v1.1h-1.1zM92.5 150.4h1.1v1.1h-1.1zM101.1 164.5h1.1v1.1h-1.1zM100.2 163.7h1.1v1.1h-1.1zM97 164.7h1.1v1.1h-1.1zM98.3 160.3h1.1v1.1h-1.1zM94 164.2h1.1v1.1h-1.1zM100.1 160.5h1.1v1.1h-1.1zM86.7 137h1.1v1.1h-1.1zM82.7 138.4h1.1v1.1h-1.1zM85.7 135h1.1v1.1h-1.1zM80 148.9h1.1v1.1h-1.1zM87.7 154.5h1.1v1.1h-1.1zM82.5 151.5h1.1v1.1h-1.1zM88.3 153h1.1v1.1h-1.1zM90.4 148.8h1.1v1.1h-1.1zM93 144.4h1.1v1.1h-1.1zM85.2 150.4h1.1v1.1h-1.1zM89.2 155.2h1.1v1.1h-1.1zM84.8 150.8h1.1v1.1h-1.1zM93.6 156.8h1.1v1.1h-1.1zM90.8 149.2h1.1v1.1h-1.1zM82.9 150.1h1.1v1.1h-1.1zM83 144.9h1.1v1.1h-1.1zM93.8 151.3h1.1v1.1h-1.1zM94.4 155.3h1.1v1.1h-1.1zM82.8 147.8h1.1v1.1h-1.1zM91.5 154.9h1.1v1.1h-1.1zM83.1 149.9h1.1v1.1h-1.1zM80.3 145.5h1.1v1.1h-1.1zM89.5 157.6h1.1v1.1h-1.1zM92 157.1h1.1v1.1h-1.1zM86.4 163.6h1.1v1.1h-1.1zM89.1 162.7h1.1v1.1h-1.1zM82.6 165.8h1.1v1.1h-1.1zM86.4 164.4h1.1v1.1h-1.1zM82 164.6h1.1v1.1h-1.1zM97.8 167.6h1.1v1.1h-1.1zM94.7 168.6h1.1v1.1h-1.1zM81.2 161.1h1.1v1.1h-1.1zM89.5 161.2h1.1v1.1h-1.1zM146 136.5h1.1v1.1h-1.1zM149 142.1h1.1v1.1h-1.1zM148 137.3h1.1v1.1h-1.1zM144.2 133.6h1.1v1.1h-1.1zM145.8 137.4h1.1v1.1h-1.1zM152.8 139.1h1.1v1.1h-1.1zM146.9 141h1.1v1.1h-1.1zM163.4 151.3h1.1v1.1h-1.1zM156.4 151.5h1.1v1.1h-1.1zM147.7 147.9h1.1v1.1h-1.1zM149 148.6h1.1v1.1h-1.1zM142.3 153h1.1v1.1h-1.1zM154.9 145.9h1.1v1.1h-1.1zM141.1 155h1.1v1.1h-1.1zM148.2 156.6h1.1v1.1h-1.1zM147.6 145.3h1.1v1.1h-1.1zM152.5 152.5h1.1v1.1h-1.1zM140.7 151.5h1.1v1.1h-1.1zM157.4 147.9h1.1v1.1h-1.1zM138.6 152.9h1.1v1.1h-1.1zM157.4 151.2h1.1v1.1h-1.1zM148.1 147.1h1.1v1.1h-1.1zM148.3 149.4h1.1v1.1h-1.1zM155.1 152.6h1.1v1.1h-1.1zM146.6 148h1.1v1.1h-1.1zM142.8 149.8h1.1v1.1h-1.1zM144.8 152.4h1.1v1.1h-1.1zM148.6 144.3h1.1v1.1h-1.1zM143.5 151.5h1.1v1.1h-1.1zM153.4 150.5h1.1v1.1h-1.1zM152 145.9h1.1v1.1h-1.1zM23.2 185.3h1.1v1.1h-1.1zM30.4 185.2h1.1v1.1h-1.1zM23.3 186.4h1.1v1.1h-1.1zM29.2 182.6h1.1v1.1h-1.1zM27.7 186.3h1.1v1.1h-1.1zM27.9 188.3h1.1v1.1h-1.1zM39.9 198.5h1.1v1.1h-1.1zM44.9 198.1h1.1v1.1h-1.1zM40.9 195.2h1.1v1.1h-1.1zM48.1 199.9h1.1v1.1h-1.1zM38.9 200.6h1.1v1.1h-1.1zM46.3 198.5h1.1v1.1h-1.1zM28.1 199.2h1.1v1.1h-1.1zM28.9 194.2h1.1v1.1h-1.1zM23.3 196.5h1.1v1.1h-1.1zM24.5 200.6h1.1v1.1h-1.1zM26.8 197.9h1.1v1.1h-1.1zM40.7 202.4h1.1v1.1h-1.1zM30 193.8h1.1v1.1h-1.1zM33.7 196.6h1.1v1.1h-1.1zM31.7 195.9h1.1v1.1h-1.1zM27.6 202.1h1.1v1.1h-1.1zM39.8 199.5h1.1v1.1h-1.1zM41.5 196.8h1.1v1.1h-1.1zM33.8 196.2h1.1v1.1h-1.1zM34.8 203h1.1v1.1h-1.1zM33.2 196.5h1.1v1.1h-1.1zM30.4 215.2h1.1v1.1h-1.1zM26.7 210.3h1.1v1.1h-1.1zM29.5 212.5h1.1v1.1h-1.1zM33.6 212h1.1v1.1h-1.1zM34.7 212.5h1.1v1.1h-1.1zM27.7 213.8h1.1v1.1h-1.1zM23.2 215.3h1.1v1.1h-1.1zM30.4 212.6h1.1v1.1h-1.1zM82.4 187.8h1.1v1.1h-1.1zM85.3 187.4h1.1v1.1h-1.1zM83.4 190.5h1.1v1.1h-1.1zM81.1 200.6h1.1v1.1h-1.1zM90.2 195.6h1.1v1.1h-1.1zM89.2 204.9h1.1v1.1h-1.1zM85.2 202.3h1.1v1.1h-1.1zM91.4 206.1h1.1v1.1h-1.1zM89.9 203.8h1.1v1.1h-1.1zM83.3 198.2h1.1v1.1h-1.1zM90.6 199.3h1.1v1.1h-1.1zM86 202.5h1.1v1.1h-1.1zM90.4 197.7h1.1v1.1h-1.1zM88.1 204.2h1.1v1.1h-1.1zM84.1 197h1.1v1.1h-1.1zM84 199.4h1.1v1.1h-1.1zM144.1 185.3h1.1v1.1h-1.1zM142.6 180.7h1.1v1.1h-1.1zM140.4 182.9h1.1v1.1h-1.1zM145.7 180.7h1.1v1.1h-1.1zM140.5 181.7h1.1v1.1h-1.1zM145.4 190.4h1.1v1.1h-1.1zM145.3 190.9h1.1v1.1h-1.1zM138.9 185h1.1v1.1h-1.1zM143.2 187.3h1.1v1.1h-1.1zM143.5 182.5h1.1v1.1h-1.1zM144.2 187.9h1.1v1.1h-1.1zM147.8 187.5h1.1v1.1h-1.1zM144.6 189.8h1.1v1.1h-1.1zM139.2 184.2h1.1v1.1h-1.1zM147.9 184.5h1.1v1.1h-1.1zM151.8 200.9h1.1v1.1h-1.1zM150.2 191.1h1.1v1.1h-1.1zM144.2 199.7h1.1v1.1h-1.1zM140.7 201h1.1v1.1h-1.1zM156.6 202h1.1v1.1h-1.1zM152.3 196.5h1.1v1.1h-1.1zM148.2 202.5h1.1v1.1h-1.1zM140.7 198.1h1.1v1.1h-1.1zM139 201.1h1.1v1.1h-1.1zM142 194.3h1.1v1.1h-1.1zM144.8 197.8h1.1v1.1h-1.1zM142.8 200h1.1v1.1h-1.1zM140 198.4h1.1v1.1h-1.1zM152.3 193.5h1.1v1.1h-1.1zM150.2 203.7h1.1v1.1h-1.1zM149.3 195.7h1.1v1.1h-1.1zM138.3 201.4h1.1v1.1h-1.1zM144.8 201.1h1.1v1.1h-1.1zM148.7 197.3h1.1v1.1h-1.1zM143.2 192.3h1.1v1.1h-1.1zM148.3 195.7h1.1v1.1h-1.1zM143.7 204.9h1.1v1.1h-1.1zM155 202.3h1.1v1.1h-1.1zM143.5 191.3h1.1v1.1h-1.1zM154.5 203.1h1.1v1.1h-1.1zM161.4 199.6h1.1v1.1h-1.1zM165.8 198.2h1.1v1.1h-1.1zM170.2 198.8h1.1v1.1h-1.1zM157.6 198.7h1.1v1.1h-1.1zM150.4 200.5h1.1v1.1h-1.1zM156.9 196.1h1.1v1.1h-1.1zM157.2 198.8h1.1v1.1h-1.1zM161.5 198.9h1.1v1.1h-1.1zM153.8 210.2h1.1v1.1h-1.1zM152.4 210.4h1.1v1.1h-1.1zM150 206h1.1v1.1h-1.1zM145.5 214.6h1.1v1.1h-1.1zM143.6 211h1.1v1.1h-1.1zM30 244.5h1.1v1.1h-1.1zM27.9 243.1h1.1v1.1h-1.1zM40.7 254.3h1.1v1.1h-1.1zM38.5 252.8h1.1v1.1h-1.1zM32.8 260.7h1.1v1.1h-1.1zM24.5 255.1h1.1v1.1h-1.1zM23.2 247.6h1.1v1.1h-1.1zM27.5 246.6h1.1v1.1h-1.1zM33.5 246.6h1.1v1.1h-1.1zM34.2 256.5h1.1v1.1h-1.1zM92.1 253.1h1.1v1.1h-1.1zM89.9 252.7h1.1v1.1h-1.1zM90.1 255.4h1.1v1.1h-1.1zM85.9 250.7h1.1v1.1h-1.1zM89.2 253.1h1.1v1.1h-1.1zM85.5 252.3h1.1v1.1h-1.1zM88.4 249h1.1v1.1h-1.1zM143.8 264.2h1.1v1.1h-1.1zM146.1 261.6h1.1v1.1h-1.1zM145.2 261.4h1.1v1.1h-1.1zM146.4 261h1.1v1.1h-1.1zM147.3 261.1h1.1v1.1h-1.1zM147.2 261.6h1.1v1.1h-1.1zM146.9 260.7h1.1v1.1h-1.1zM150.4 263.8h1.1v1.1h-1.1zM143.1 258.7h1.1v1.1h-1.1zM148.5 263.7h1.1v1.1h-1.1zM145.3 262.7h1.1v1.1h-1.1zM146.7 251.7h1.1v1.1h-1.1zM152.4 243.6h1.1v1.1h-1.1zM151.5 249.1h1.1v1.1h-1.1zM143.7 244.3h1.1v1.1h-1.1zM152.5 254.6h1.1v1.1h-1.1zM139.8 256.3h1.1v1.1h-1.1zM146.5 247.4h1.1v1.1h-1.1zM144.9 248.2h1.1v1.1h-1.1zM151.9 250.7h1.1v1.1h-1.1zM151.8 255.7h1.1v1.1h-1.1zM148 249.1h1.1v1.1h-1.1zM147.5 256.7h1.1v1.1h-1.1zM148.3 256.5h1.1v1.1h-1.1zM53.1 299.8h1.1v1.1h-1.1zM47 299.2h1.1v1.1h-1.1zM45.8 295.4h1.1v1.1h-1.1zM48.4 299.2h1.1v1.1h-1.1zM43.7 299.5h1.1v1.1h-1.1zM45.3 299.5h1.1v1.1h-1.1zM44.1 299.2h1.1v1.1h-1.1zM48.7 303h1.1v1.1h-1.1zM52.9 298.7h1.1v1.1h-1.1zM47.8 291.1h1.1v1.1h-1.1zM55.3 293.3h1.1v1.1h-1.1zM46.9 299.4h1.1v1.1h-1.1zM46.1 295.1h1.1v1.1h-1.1zM58.3 301h1.1v1.1h-1.1zM95.1 303.4h1.1v1.1h-1.1zM93.7 300.1h1.1v1.1h-1.1zM94.3 300.9h1.1v1.1h-1.1zM94.2 303.6h1.1v1.1h-1.1zM95.8 303.1h1.1v1.1h-1.1zM94.1 302.3h1.1v1.1h-1.1zM91 301.5h1.1v1.1h-1.1zM94.9 302.5h1.1v1.1h-1.1zM93.5 300.5h1.1v1.1h-1.1zM98.9 302h1.1v1.1h-1.1zM98.8 304.3h1.1v1.1h-1.1zM90.5 302.5h1.1v1.1h-1.1zM103.7 304h1.1v1.1h-1.1zM99.5 299.8h1.1v1.1h-1.1zM100.6 302.1h1.1v1.1h-1.1zM97 301.1h1.1v1.1h-1.1zM102.1 297.3h1.1v1.1h-1.1zM108.4 297.7h1.1v1.1h-1.1zM115.3 296.7h1.1v1.1h-1.1zM109.3 299h1.1v1.1h-1.1zM99.3 299.5h1.1v1.1h-1.1zM114.8 296.3h1.1v1.1h-1.1zM110.1 301.6h1.1v1.1h-1.1zM109.8 298.6h1.1v1.1h-1.1zM110.3 296.3h1.1v1.1h-1.1zM110.7 299.1h1.1v1.1h-1.1zM154.8 298.1h1.1v1.1h-1.1zM150 300.1h1.1v1.1h-1.1zM156 302.2h1.1v1.1h-1.1zM145 298.9h1.1v1.1h-1.1zM143.2 296.3h1.1v1.1h-1.1zM152.4 301.2h1.1v1.1h-1.1zM150.4 300.3h1.1v1.1h-1.1zM147.4 300.7h1.1v1.1h-1.1zM147.5 305.6h1.1v1.1h-1.1zM149.1 298.7h1.1v1.1h-1.1zM143.4 301.3h1.1v1.1h-1.1zM157.5 304.3h1.1v1.1h-1.1zM149.8 301.9h1.1v1.1h-1.1zM158.3 295.5h1.1v1.1h-1.1zM159.3 302.4h1.1v1.1h-1.1zM158.6 292.6h1.1v1.1h-1.1zM159.4 298.9h1.1v1.1h-1.1zM161.2 298.4h1.1v1.1h-1.1zM158.4 301h1.1v1.1h-1.1zM171.4 298.7h1.1v1.1h-1.1zM163.7 297.6h1.1v1.1h-1.1zM164.9 294.9h1.1v1.1h-1.1zM161.3 289.9h1.1v1.1h-1.1zM168.6 290h1.1v1.1h-1.1zM163 301h1.1v1.1h-1.1z" fill="#000" opacity="0.25"/>
<path d="M51.6 51.6h1.1v1.1h-1.1zM33.3 52.4h1.1v1.1h-1.1zM33.3 46h1.1v1.1h-1.1zM33.6 50.3h1.1v1.1h-1.1zM26 51.8h1.1v1.1h-1.1zM29.1 51.7h1.1v1.1h-1.1zM23.5 52.1h1.1v1.1h-1.1zM30.6 49.8h1.1v1.1h-1.1zM28.4 49.8h1.1v1.1h-1.1zM34.1 51.1h1.1v1.1h-1.1zM31.9 50.1h1.1v1.1h-1.1zM34.2 47h1.1v1.1h-1.1zM30.2 48.4h1.1v1.1h-1.1zM24.2 49.5h1.1v1.1h-1.1zM34.5 51.6h1.1v1.1h-1.1zM28.2 47.7h1.1v1.1h-1.1zM23.8 52h1.1v1.1h-1.1zM28.7 50.6h1.1v1.1h-1.1zM32 48.5h1.1v1.1h-1.1zM27.8 52.2h1.1v1.1h-1.1zM31 51.2h1.1v1.1h-1.1zM32.6 47h1.1v1.1h-1.1zM26.5 52.2h1.1v1.1h-1.1zM34.6 53.4h1.1v1.1h-1.1zM26.3 52.6h1.1v1.1h-1.1zM30.3 49.2h1.1v1.1h-1.1zM30.1 52h1.1v1.1h-1.1zM28.7 51.2h1.1v1.1h-1.1zM28.1 50.3h1.1v1.1h-1.1zM28.5 47.6h1.1v1.1h-1.1zM25.7 49.4h1.1v1.1h-1.1zM28.1 50.8h1.1v1.1h-1.1zM36.2 47.7h1.1v1.1h-1.1zM34.2 49.2h1.1v1.1h-1.1zM30.6 50.4h1.1v1.1h-1.1zM28.6 49.2h1.1v1.1h-1.1zM28 45.1h1.1v1.1h-1.1zM33.5 48.8h1.1v1.1h-1.1zM27.9 47.6h1.1v1.1h-1.1zM37.2 50.8h1.1v1.1h-1.1zM30.4 52.7h1.1v1.1h-1.1zM30.7 48.6h1.1v1.1h-1.1zM32.9 50.8h1.1v1.1h-1.1zM26.4 48.5h1.1v1.1h-1.1zM27.9 47.7h1.1v1.1h-1.1zM28.2 49.5h1.1v1.1h-1.1zM24.2 49.7h1.1v1.1h-1.1zM29.1 48.2h1.1v1.1h-1.1zM24.1 60.8h1.1v1.1h-1.1zM29.1 62.1h1.1v1.1h-1.1zM30.1 61.8h1.1v1.1h-1.1zM31.7 60.2h1.1v1.1h-1.1zM34 64.3h1.1v1.1h-1.1zM26.9 65.9h1.1v1.1h-1.1zM28.7 60.1h1.1v1.1h-1.1zM30.3 57.5h1.1v1.1h-1.1zM30.3 57.7h1.1v1.1h-1.1zM34.5 58.6h1.1v1.1h-1.1zM35.7 61.6h1.1v1.1h-1.1zM28.5 61.5h1.1v1.1h-1.1zM29.9 62.3h1.1v1.1h-1.1zM33.7 62.7h1.1v1.1h-1.1zM32.8 66.3h1.1v1.1h-1.1zM33.5 64.2h1.1v1.1h-1.1zM34.7 60.6h1.1v1.1h-1.1zM27.8 60.5h1.1v1.1h-1.1zM29.2 63.1h1.1v1.1h-1.1zM28.3 63h1.1v1.1h-1.1zM31.4 63.1h1.1v1.1h-1.1zM31.1 60.4h1.1v1.1h-1.1zM28.1 58.4h1.1v1.1h-1.1zM32.3 64h1.1v1.1h-1.1zM23.6 58.3h1.1v1.1h-1.1zM33.9 60.7h1.1v1.1h-1.1zM112.2 61.5h1.1v1.1h-1.1zM91.7 51.6h1.1v1.1h-1.1zM86.5 53.9h1.1v1.1h-1.1zM88.7 56h1.1v1.1h-1.1zM90.7 52.9h1.1v1.1h-1.1zM87.7 52.9h1.1v1.1h-1.1zM90.5 55.3h1.1v1.1h-1.1zM86.4 50.2h1.1v1.1h-1.1zM86.4 51.9h1.1v1.1h-1.1zM87.2 51.1h1.1v1.1h-1.1zM88.5 53.9h1.1v1.1h-1.1zM90.3 57.8h1.1v1.1h-1.1zM90.8 53.6h1.1v1.1h-1.1zM94.8 54h1.1v1.1h-1.1zM88.6 59h1.1v1.1h-1.1zM90.7 51.2h1.1v1.1h-1.1zM84.4 51.3h1.1v1.1h-1.1zM84.6 53.4h1.1v1.1h-1.1zM88.2 52.8h1.1v1.1h-1.1zM90 47.9h1.1v1.1h-1.1zM87 55.9h1.1v1.1h-1.1zM87.7 56h1.1v1.1h-1.1zM85.3 51.5h1.1v1.1h-1.1zM89.2 56.3h1.1v1.1h-1.1zM83.5 55.8h1.1v1.1h-1.1zM84.4 59h1.1v1.1h-1.1zM85.1 53.9h1.1v1.1h-1.1zM83.8 56h1.1v1.1h-1.1zM82.8 55.2h1.1v1.1h-1.1zM87.9 57.4h1.1v1.1h-1.1zM92.3 57.2h1.1v1.1h-1.1zM88.9 52.9h1.1v1.1h-1.1zM81.4 53.7h1.1v1.1h-1.1zM84.7 54.2h1.1v1.1h-1.1zM86.3 52.9h1.1v1.1h-1.1zM87.5 54.6h1.1v1.1h-1.1zM90.2 57.7h1.1v1.1h-1.1zM91.1 50.4h1.1v1.1h-1.1zM90.8 50.6h1.1v1.1h-1.1zM86.2 51h1.1v1.1h-1.1zM82.5 56.4h1.1v1.1h-1.1zM86.1 51h1.1v1.1h-1.1zM83.9 50.8h1.1v1.1h-1.1zM82.1 54.4h1.1v1.1h-1.1zM92.2 52.8h1.1v1.1h-1.1zM83.9 53.7h1.1v1.1h-1.1zM84.9 54.6h1.1v1.1h-1.1zM81.6 54.5h1.1v1.1h-1.1zM86.5 50.3h1.1v1.1h-1.1zM87.6 51.6h1.1v1.1h-1.1zM90.7 51.3h1.1v1.1h-1.1zM85.4 53.7h1.1v1.1h-1.1zM86.5 50.5h1.1v1.1h-1.1zM83.8 67.1h1.1v1.1h-1.1zM85.4 64.5h1.1v1.1h-1.1zM83.9 62.2h1.1v1.1h-1.1zM89.3 60.8h1.1v1.1h-1.1zM88.6 60.1h1.1v1.1h-1.1zM82.8 65.6h1.1v1.1h-1.1zM91.5 65.9h1.1v1.1h-1.1zM85.7 59.9h1.1v1.1h-1.1zM84.7 67.4h1.1v1.1h-1.1zM86.6 67.8h1.1v1.1h-1.1zM91.7 61h1.1v1.1h-1.1zM89.4 60h1.1v1.1h-1.1zM87.1 61.9h1.1v1.1h-1.1zM84.6 66.3h1.1v1.1h-1.1zM85.4 61.8h1.1v1.1h-1.1zM86.3 61.2h1.1v1.1h-1.1zM90.4 64.9h1.1v1.1h-1.1zM86.6 64.7h1.1v1.1h-1.1zM92.7 63.8h1.1v1.1h-1.1zM88.1 63.9h1.1v1.1h-1.1zM169.1 68.2h1.1v1.1h-1.1zM169.8 46.7h1.1v1.1h-1.1zM142.4 48.2h1.1v1.1h-1.1zM143.7 50.6h1.1v1.1h-1.1zM140.7 49.7h1.1v1.1h-1.1zM138.4 47.8h1.1v1.1h-1.1zM143.2 50.8h1.1v1.1h-1.1zM142.9 55.1h1.1v1.1h-1.1zM149.8 48.9h1.1v1.1h-1.1zM140.3 46.1h1.1v1.1h-1.1zM143.1 48.2h1.1v1.1h-1.1zM147.3 57.7h1.1v1.1h-1.1zM145.7 56.8h1.1v1.1h-1.1zM145.9 54.6h1.1v1.1h-1.1zM142.7 54.6h1.1v1.1h-1.1zM142.3 54.3h1.1v1.1h-1.1zM143.6 54.6h1.1v1.1h-1.1zM148.2 52.8h1.1v1.1h-1.1zM140.7 50.1h1.1v1.1h-1.1zM143.8 50.9h1.1v1.1h-1.1zM141.3 48.3h1.1v1.1h-1.1zM144.1 56.1h1.1v1.1h-1.1zM146.1 51.7h1.1v1.1h-1.1zM144 44.8h1.1v1.1h-1.1zM146.7 53.4h1.1v1.1h-1.1zM143.3 50.1h1.1v1.1h-1.1zM139.2 47.2h1.1v1.1h-1.1zM144.2 53.4h1.1v1.1h-1.1zM141.4 53.1h1.1v1.1h-1.1zM147.4 56.9h1.1v1.1h-1.1zM139.8 46.6h1.1v1.1h-1.1zM142 49.9h1.1v1.1h-1.1zM142 50.3h1.1v1.1h-1.1zM141.8 47.4h1.1v1.1h-1.1zM142.5 49.4h1.1v1.1h-1.1zM139.4 48.8h1.1v1.1h-1.1zM147.1 47h1.1v1.1h-1.1zM138.9 50.7h1.1v1.1h-1.1zM138.6 55h1.1v1.1h-1.1zM144.7 47.2h1.1v1.1h-1.1zM143.4 57.1h1.1v1.1h-1.1zM146 57.9h1.1v1.1h-1.1zM146 53h1.1v1.1h-1.1zM141.9 49h1.1v1.1h-1.1zM143.8 50.8h1.1v1.1h-1.1zM144.4 46.7h1.1v1.1h-1.1zM141.4 56.6h1.1v1.1h-1.1zM139.2 50.7h1.1v1.1h-1.1zM146.2 45.8h1.1v1.1h-1.1zM149 46.4h1.1v1.1h-1.1zM146.1 57.8h1.1v1.1h-1.1zM145 52h1.1v1.1h-1.1zM143.3 52h1.1v1.1h-1.1zM143.1 49.7h1.1v1.1h-1.1zM146.8 51.3h1.1v1.1h-1.1zM140.5 46.6h1.1v1.1h-1.1zM142 51h1.1v1.1h-1.1zM144.5 50.2h1.1v1.1h-1.1zM145.2 51.3h1.1v1.1h-1.1zM140.8 52.1h1.1v1.1h-1.1zM140.7 48.7h1.1v1.1h-1.1zM147.7 50.8h1.1v1.1h-1.1zM143.3 46.9h1.1v1.1h-1.1zM147.9 51.7h1.1v1.1h-1.1zM147.3 54.9h1.1v1.1h-1.1zM140.7 47.6h1.1v1.1h-1.1zM144.1 50.6h1.1v1.1h-1.1zM138.2 45.7h1.1v1.1h-1.1zM145.8 51.3h1.1v1.1h-1.1zM147.9 51.5h1.1v1.1h-1.1zM139.1 46.1h1.1v1.1h-1.1zM149.5 53.1h1.1v1.1h-1.1zM148.1 54.8h1.1v1.1h-1.1zM145.7 57.4h1.1v1.1h-1.1zM146 41.9h1.1v1.1h-1.1zM144.3 55.1h1.1v1.1h-1.1zM141.1 53.9h1.1v1.1h-1.1zM149.6 49.5h1.1v1.1h-1.1zM143.7 49.5h1.1v1.1h-1.1zM139.9 53.5h1.1v1.1h-1.1zM143.6 53.4h1.1v1.1h-1.1zM145.1 44.1h1.1v1.1h-1.1zM142.1 58h1.1v1.1h-1.1zM141.8 56.3h1.1v1.1h-1.1zM140.9 53.4h1.1v1.1h-1.1zM142.5 53h1.1v1.1h-1.1zM138.4 49.6h1.1v1.1h-1.1zM150.1 46.9h1.1v1.1h-1.1zM142.2 47.5h1.1v1.1h-1.1zM145.1 51h1.1v1.1h-1.1zM144 53.2h1.1v1.1h-1.1zM147.6 54.4h1.1v1.1h-1.1zM141.2 51.9h1.1v1.1h-1.1zM143.4 63.3h1.1v1.1h-1.1zM150 62.8h1.1v1.1h-1.1zM141.5 60.9h1.1v1.1h-1.1zM147.1 65h1.1v1.1h-1.1zM142.9 64.4h1.1v1.1h-1.1zM142.8 62.8h1.1v1.1h-1.1zM144.4 63.5h1.1v1.1h-1.1zM148.7 59.7h1.1v1.1h-1.1zM146.8 64.2h1.1v1.1h-1.1zM146.8 62.4h1.1v1.1h-1.1zM141 66.2h1.1v1.1h-1.1zM139.2 60.4h1.1v1.1h-1.1zM142.7 68h1.1v1.1h-1.1zM149.7 63.8h1.1v1.1h-1.1zM143.4 63.6h1.1v1.1h-1.1zM140.7 60.2h1.1v1.1h-1.1zM147.5 65.8h1.1v1.1h-1.1zM146.2 60h1.1v1.1h-1.1zM149.3 60.4h1.1v1.1h-1.1zM142.7 63.2h1.1v1.1h-1.1zM149 59.8h1.1v1.1h-1.1zM144.4 64.7h1.1v1.1h-1.1zM144 59.5h1.1v1.1h-1.1zM144.8 63.5h1.1v1.1h-1.1zM143.5 58.3h1.1v1.1h-1.1zM143.3 64.7h1.1v1.1h-1.1zM148.2 67h1.1v1.1h-1.1zM144.6 64.8h1.1v1.1h-1.1zM41.8 104.9h1.1v1.1h-1.1zM68.2 114h1.1v1.1h-1.1zM44.9 113.2h1.1v1.1h-1.1zM46.8 100.2h1.1v1.1h-1.1zM32.8 97.5h1.1v1.1h-1.1zM31.1 96.6h1.1v1.1h-1.1zM36.9 98.8h1.1v1.1h-1.1zM43.3 99.8h1.1v1.1h-1.1zM35.6 101h1.1v1.1h-1.1zM43.8 98.9h1.1v1.1h-1.1zM38.5 97.4h1.1v1.1h-1.1zM37.6 102h1.1v1.1h-1.1zM35.1 102.4h1.1v1.1h-1.1zM35.1 101h1.1v1.1h-1.1zM38.2 101.2h1.1v1.1h-1.1zM40.9 101.6h1.1v1.1h-1.1zM31.4 104.3h1.1v1.1h-1.1zM33.6 95.7h1.1v1.1h-1.1zM46.5 98h1.1v1.1h-1.1zM45 99.8h1.1v1.1h-1.1zM37 103.1h1.1v1.1h-1.1zM32 98.6h1.1v1.1h-1.1zM31 103.1h1.1v1.1h-1.1zM38.5 93.5h1.1v1.1h-1.1zM46.2 99.7h1.1v1.1h-1.1zM40.4 99.8h1.1v1.1h-1.1zM32.6 95.4h1.1v1.1h-1.1zM46.3 98.1h1.1v1.1h-1.1zM35.8 99.9h1.1v1.1h-1.1zM39.3 98.8h1.1v1.1h-1.1zM41 100.4h1.1v1.1h-1.1zM42.6 99.1h1.1v1.1h-1.1zM37.7 101.8h1.1v1.1h-1.1zM33 101.2h1.1v1.1h-1.1zM32.3 96.5h1.1v1.1h-1.1zM38.6 104.5h1.1v1.1h-1.1zM31.9 100.9h1.1v1.1h-1.1zM32 100.3h1.1v1.1h-1.1zM26.6 99.9h1.1v1.1h-1.1zM35.8 94h1.1v1.1h-1.1zM29.6 100.2h1.1v1.1h-1.1zM37.6 97.8h1.1v1.1h-1.1zM36.7 103.2h1.1v1.1h-1.1zM32.1 100.1h1.1v1.1h-1.1zM35 99h1.1v1.1h-1.1zM31.7 103.5h1.1v1.1h-1.1zM46.2 97.2h1.1v1.1h-1.1zM32.6 96.5h1.1v1.1h-1.1zM31.8 100.5h1.1v1.1h-1.1zM29.9 98.4h1.1v1.1h-1.1zM27.3 101.8h1.1v1.1h-1.1zM32.2 102.8h1.1v1.1h-1.1zM39.7 101.6h1.1v1.1h-1.1zM32.8 104.3h1.1v1.1h-1.1zM43.3 101.3h1.1v1.1h-1.1zM28.9 103.2h1.1v1.1h-1.1zM33.2 105.1h1.1v1.1h-1.1zM36.1 99.2h1.1v1.1h-1.1zM26.5 98.3h1.1v1.1h-1.1zM31 95.5h1.1v1.1h-1.1zM41.2 99h1.1v1.1h-1.1zM34.5 100.3h1.1v1.1h-1.1zM36.4 100.7h1.1v1.1h-1.1zM36.3 94.4h1.1v1.1h-1.1zM37 101.1h1.1v1.1h-1.1zM42.3 103.7h1.1v1.1h-1.1zM33.7 99.7h1.1v1.1h-1.1zM29.1 102.6h1.1v1.1h-1.1zM31 100h1.1v1.1h-1.1zM33 103.1h1.1v1.1h-1.1zM31.5 103.3h1.1v1.1h-1.1zM29.8 95.4h1.1v1.1h-1.1zM29.3 97h1.1v1.1h-1.1zM27.7 99.5h1.1v1.1h-1.1zM32.1 99.4h1.1v1.1h-1.1zM28.9 96.7h1.1v1.1h-1.1zM33.9 102.6h1.1v1.1h-1.1zM28.3 101.3h1.1v1.1h-1.1zM28.5 99.5h1.1v1.1h-1.1zM30.8 101.1h1.1v1.1h-1.1zM30.8 100.9h1.1v1.1h-1.1zM28 98.9h1.1v1.1h-1.1zM36.8 98.3h1.1v1.1h-1.1zM35.7 101h1.1v1.1h-1.1zM30.1 96.4h1.1v1.1h-1.1zM33 102.6h1.1v1.1h-1.1zM34.4 99.8h1.1v1.1h-1.1zM34.2 99h1.1v1.1h-1.1zM32.1 102h1.1v1.1h-1.1zM54.2 117.6h1.1v1.1h-1.1zM50.8 116.5h1.1v1.1h-1.1zM40.6 116.5h1.1v1.1h-1.1zM53.8 109.4h1.1v1.1h-1.1zM38.4 113.1h1.1v1.1h-1.1zM49.5 116.8h1.1v1.1h-1.1zM45.6 113h1.1v1.1h-1.1zM46.6 114.2h1.1v1.1h-1.1zM56.4 114.4h1.1v1.1h-1.1zM51.3 113.3h1.1v1.1h-1.1zM51.3 117.4h1.1v1.1h-1.1zM51.5 113h1.1v1.1h-1.1zM53.1 114.9h1.1v1.1h-1.1zM43.2 116h1.1v1.1h-1.1zM43.5 114.5h1.1v1.1h-1.1zM44.6 111.8h1.1v1.1h-1.1zM46.5 115.2h1.1v1.1h-1.1zM49.2 116.1h1.1v1.1h-1.1zM37.1 115.7h1.1v1.1h-1.1zM49.6 116.5h1.1v1.1h-1.1zM46.4 115.4h1.1v1.1h-1.1zM42.6 114.9h1.1v1.1h-1.1zM107 111.6h1.1v1.1h-1.1zM97.5 102.7h1.1v1.1h-1.1zM94.4 105.4h1.1v1.1h-1.1zM97.4 103.3h1.1v1.1h-1.1zM97.6 108h1.1v1.1h-1.1zM97.6 102.2h1.1v1.1h-1.1zM95.3 104.8h1.1v1.1h-1.1zM100.7 105.9h1.1v1.1h-1.1zM100.4 106.5h1.1v1.1h-1.1zM96.1 102.1h1.1v1.1h-1.1zM99.4 99.4h1.1v1.1h-1.1zM102.6 100.1h1.1v1.1h-1.1zM102.1 103.8h1.1v1.1h-1.1zM103.8 105h1.1v1.1h-1.1zM100.2 107.9h1.1v1.1h-1.1zM101.5 99.7h1.1v1.1h-1.1zM100.2 99.6h1.1v1.1h-1.1zM98.5 103.7h1.1v1.1h-1.1zM99.2 102.6h1.1v1.1h-1.1zM97.7 105.9h1.1v1.1h-1.1zM99.2 102.5h1.1v1.1h-1.1zM102.9 105.8h1.1v1.1h-1.1zM99.1 103.1h1.1v1.1h-1.1zM101.3 101.9h1.1v1.1h-1.1zM102.5 101.9h1.1v1.1h-1.1zM98.6 105.4h1.1v1.1h-1.1zM100.1 99.1h1.1v1.1h-1.1zM98.9 98.1h1.1v1.1h-1.1zM102.6 105.3h1.1v1.1h-1.1zM96.6 107.1h1.1v1.1h-1.1zM101.2 106.5h1.1v1.1h-1.1zM100.4 103.2h1.1v1.1h-1.1zM101.4 103.3h1.1v1.1h-1.1zM100.9 102h1.1v1.1h-1.1zM97.8 101.3h1.1v1.1h-1.1zM100 103.3h1.1v1.1h-1.1zM99.6 99.8h1.1v1.1h-1.1zM98.9 102.8h1.1v1.1h-1.1zM100.6 105.1h1.1v1.1h-1.1zM106.8 101.4h1.1v1.1h-1.1zM94 101.2h1.1v1.1h-1.1zM102 102.5h1.1v1.1h-1.1zM98.3 100.3h1.1v1.1h-1.1zM97.7 103.7h1.1v1.1h-1.1zM95.2 103.9h1.1v1.1h-1.1zM99.7 101.7h1.1v1.1h-1.1zM98 97.8h1.1v1.1h-1.1zM99.3 106.7h1.1v1.1h-1.1zM104.9 101.7h1.1v1.1h-1.1zM98.4 104.8h1.1v1.1h-1.1zM98.8 107.5h1.1v1.1h-1.1zM98.4 102.4h1.1v1.1h-1.1zM99 103.5h1.1v1.1h-1.1zM99.1 100.8h1.1v1.1h-1.1zM101.9 101.2h1.1v1.1h-1.1zM101.8 103.4h1.1v1.1h-1.1zM100.9 102.2h1.1v1.1h-1.1zM95.3 102.8h1.1v1.1h-1.1zM86.1 100.7h1.1v1.1h-1.1zM89.6 108.6h1.1v1.1h-1.1zM91.6 108.6h1.1v1.1h-1.1zM88.8 98.2h1.1v1.1h-1.1zM86.2 108.4h1.1v1.1h-1.1zM91.7 105.8h1.1v1.1h-1.1zM99.4 105.2h1.1v1.1h-1.1zM90.4 99.8h1.1v1.1h-1.1zM91.3 99.8h1.1v1.1h-1.1zM94.4 109.4h1.1v1.1h-1.1zM94.7 107h1.1v1.1h-1.1zM86.5 111.3h1.1v1.1h-1.1zM82.8 99.2h1.1v1.1h-1.1zM85 105.3h1.1v1.1h-1.1zM90.7 103.8h1.1v1.1h-1.1zM97.1 98.4h1.1v1.1h-1.1zM81.6 105.8h1.1v1.1h-1.1zM81.3 101.2h1.1v1.1h-1.1zM91.9 102.8h1.1v1.1h-1.1zM93.9 109.1h1.1v1.1h-1.1zM99.3 101.5h1.1v1.1h-1.1zM93.3 108.5h1.1v1.1h-1.1zM91.4 107.8h1.1v1.1h-1.1zM85.1 105.4h1.1v1.1h-1.1zM95.5 99.5h1.1v1.1h-1.1zM84.7 101.2h1.1v1.1h-1.1zM91.8 107.8h1.1v1.1h-1.1zM93.2 100.1h1.1v1.1h-1.1zM94.1 102.2h1.1v1.1h-1.1zM92.3 102.1h1.1v1.1h-1.1zM88.4 105.1h1.1v1.1h-1.1zM103.2 105.9h1.1v1.1h-1.1zM91.8 102.7h1.1v1.1h-1.1zM89.5 99.4h1.1v1.1h-1.1zM87.9 107.1h1.1v1.1h-1.1zM93 104.4h1.1v1.1h-1.1zM97.3 100.6h1.1v1.1h-1.1zM90.4 104.2h1.1v1.1h-1.1zM95.3 100h1.1v1.1h-1.1zM93.1 109.2h1.1v1.1h-1.1zM83.7 100.8h1.1v1.1h-1.1zM89.2 110.9h1.1v1.1h-1.1zM101.5 103h1.1v1.1h-1.1zM85.6 102.8h1.1v1.1h-1.1zM93 103.6h1.1v1.1h-1.1zM100 108.4h1.1v1.1h-1.1zM95 104h1.1v1.1h-1.1zM96.8 104h1.1v1.1h-1.1zM83.2 99.4h1.1v1.1h-1.1zM89.6 105.8h1.1v1.1h-1.1zM90.2 102.2h1.1v1.1h-1.1zM97.3 110.6h1.1v1.1h-1.1zM88.1 104.6h1.1v1.1h-1.1zM89.8 106.5h1.1v1.1h-1.1zM93.9 104.5h1.1v1.1h-1.1zM96.7 114.1h1.1v1.1h-1.1zM87.9 108.6h1.1v1.1h-1.1zM93.5 110h1.1v1.1h-1.1zM94.6 110.5h1.1v1.1h-1.1zM84.8 110.3h1.1v1.1h-1.1zM95.3 116.4h1.1v1.1h-1.1zM97.8 116.8h1.1v1.1h-1.1zM97 112.4h1.1v1.1h-1.1zM90.5 114.2h1.1v1.1h-1.1zM92 111.2h1.1v1.1h-1.1zM90.8 115.6h1.1v1.1h-1.1zM91.3 113.2h1.1v1.1h-1.1zM95.4 112h1.1v1.1h-1.1zM91 115.8h1.1v1.1h-1.1zM91.5 114h1.1v1.1h-1.1zM84 110.2h1.1v1.1h-1.1zM88.5 109.8h1.1v1.1h-1.1zM95.6 110.6h1.1v1.1h-1.1zM88.8 114.4h1.1v1.1h-1.1zM87.1 116.8h1.1v1.1h-1.1zM88 110.4h1.1v1.1h-1.1zM96.9 113.3h1.1v1.1h-1.1zM96.7 115h1.1v1.1h-1.1zM90 114.4h1.1v1.1h-1.1zM167.1 86h1.1v1.1h-1.1zM161.2 94.9h1.1v1.1h-1.1zM155.1 96.6h1.1v1.1h-1.1zM155.6 103h1.1v1.1h-1.1zM145.8 97.7h1.1v1.1h-1.1zM146.7 102.1h1.1v1.1h-1.1zM158.4 100.4h1.1v1.1h-1.1zM139.6 103.2h1.1v1.1h-1.1zM142.9 97.4h1.1v1.1h-1.1zM156.6 105h1.1v1.1h-1.1zM143.4 98.8h1.1v1.1h-1.1zM147.7 96.4h1.1v1.1h-1.1zM154.9 104.1h1.1v1.1h-1.1zM151.6 100.6h1.1v1.1h-1.1zM143.6 97.8h1.1v1.1h-1.1zM148.8 98.5h1.1v1.1h-1.1zM158.8 100.9h1.1v1.1h-1.1zM151.5 104.1h1.1v1.1h-1.1zM153 99.5h1.1v1.1h-1.1zM144.7 98.2h1.1v1.1h-1.1zM149.7 103.4h1.1v1.1h-1.1zM147.6 99.6h1.1v1.1h-1.1zM159.5 101.4h1.1v1.1h-1.1zM162.1 99.3h1.1v1.1h-1.1zM147.4 100.7h1.1v1.1h-1.1zM140.9 97.2h1.1v1.1h-1.1zM145.6 99.7h1.1v1.1h-1.1zM160.5 99.8h1.1v1.1h-1.1zM150.1 101h1.1v1.1h-1.1zM162.2 101.2h1.1v1.1h-1.1zM141.7 101.1h1.1v1.1h-1.1zM151.5 100.3h1.1v1.1h-1.1zM160.9 98h1.1v1.1h-1.1zM155.2 96.3h1.1v1.1h-1.1zM155.1 99h1.1v1.1h-1.1zM148.9 98.2h1.1v1.1h-1.1zM142.2 101.7h1.1v1.1h-1.1zM147 105.6h1.1v1.1h-1.1zM147.3 98h1.1v1.1h-1.1zM148.1 96.3h1.1v1.1h-1.1zM139.9 101.9h1.1v1.1h-1.1zM146.2 99h1.1v1.1h-1.1zM151.7 100.9h1.1v1.1h-1.1zM152.2 98.5h1.1v1.1h-1.1zM146.9 102.5h1.1v1.1h-1.1zM141.9 102.2h1.1v1.1h-1.1zM146.4 95.9h1.1v1.1h-1.1zM162.9 99.6h1.1v1.1h-1.1zM146.3 98h1.1v1.1h-1.1zM153.7 97h1.1v1.1h-1.1zM142.4 103.3h1.1v1.1h-1.1zM156.1 97.9h1.1v1.1h-1.1zM149.7 102.8h1.1v1.1h-1.1zM152.3 102.9h1.1v1.1h-1.1zM144.1 102.7h1.1v1.1h-1.1zM154 103.2h1.1v1.1h-1.1zM149.6 104.4h1.1v1.1h-1.1zM147.9 99.2h1.1v1.1h-1.1zM151.4 100.4h1.1v1.1h-1.1zM147.9 98.2h1.1v1.1h-1.1zM150.2 96.7h1.1v1.1h-1.1zM160.2 100.7h1.1v1.1h-1.1zM142.1 95.9h1.1v1.1h-1.1zM159.4 103.6h1.1v1.1h-1.1zM151 96.8h1.1v1.1h-1.1zM153.7 102.7h1.1v1.1h-1.1zM160.5 97.1h1.1v1.1h-1.1zM160.2 98.8h1.1v1.1h-1.1zM154.4 97.4h1.1v1.1h-1.1zM149.6 100.2h1.1v1.1h-1.1zM145.2 100.1h1.1v1.1h-1.1zM142.2 98.7h1.1v1.1h-1.1zM141.3 103.8h1.1v1.1h-1.1zM147.5 101.2h1.1v1.1h-1.1zM140.6 97.8h1.1v1.1h-1.1zM146 99h1.1v1.1h-1.1zM146.7 98.4h1.1v1.1h-1.1zM149.6 101.7h1.1v1.1h-1.1zM143.3 98.1h1.1v1.1h-1.1zM142.8 104.5h1.1v1.1h-1.1zM141.5 101.1h1.1v1.1h-1.1zM142 102.1h1.1v1.1h-1.1zM149.1 98h1.1v1.1h-1.1zM145 99.8h1.1v1.1h-1.1zM146.4 101.3h1.1v1.1h-1.1zM145.4 101.4h1.1v1.1h-1.1zM145.1 99.8h1.1v1.1h-1.1zM147.8 102.1h1.1v1.1h-1.1zM161.3 114.2h1.1v1.1h-1.1zM162.2 112.9h1.1v1.1h-1.1zM162.8 111.3h1.1v1.1h-1.1zM162.3 109.1h1.1v1.1h-1.1zM160.3 111.8h1.1v1.1h-1.1zM160.3 112.8h1.1v1.1h-1.1zM158.8 112h1.1v1.1h-1.1zM162.3 112h1.1v1.1h-1.1zM156.8 111.2h1.1v1.1h-1.1zM158.2 111.1h1.1v1.1h-1.1zM163.2 112.7h1.1v1.1h-1.1zM154.8 110.4h1.1v1.1h-1.1zM156.7 110.8h1.1v1.1h-1.1zM168.3 111.1h1.1v1.1h-1.1zM161.3 116.7h1.1v1.1h-1.1zM43.5 156.5h1.1v1.1h-1.1zM50.6 163.8h1.1v1.1h-1.1zM36.7 146.7h1.1v1.1h-1.1zM29.3 147.1h1.1v1.1h-1.1zM32.7 149.2h1.1v1.1h-1.1zM39 150.3h1.1v1.1h-1.1zM26.6 146.4h1.1v1.1h-1.1zM42.3 148.3h1.1v1.1h-1.1zM34.9 152.2h1.1v1.1h-1.1zM31.6 154h1.1v1.1h-1.1zM30.8 146.3h1.1v1.1h-1.1zM28.4 143.7h1.1v1.1h-1.1zM37.3 149.8h1.1v1.1h-1.1zM30 148.3h1.1v1.1h-1.1zM32.2 153h1.1v1.1h-1.1zM31.8 153.1h1.1v1.1h-1.1zM32.7 148.7h1.1v1.1h-1.1zM29.1 147.8h1.1v1.1h-1.1zM31.9 150h1.1v1.1h-1.1zM30.1 150.5h1.1v1.1h-1.1zM34.8 150.1h1.1v1.1h-1.1zM31.6 149.4h1.1v1.1h-1.1zM38.5 147.1h1.1v1.1h-1.1zM33.6 145.6h1.1v1.1h-1.1zM29.2 151h1.1v1.1h-1.1zM38.5 150.8h1.1v1.1h-1.1zM33.6 145.7h1.1v1.1h-1.1zM39.2 145.5h1.1v1.1h-1.1zM40.5 146.2h1.1v1.1h-1.1zM35 151.4h1.1v1.1h-1.1zM30.9 150.9h1.1v1.1h-1.1zM37.6 145.6h1.1v1.1h-1.1zM31.4 152h1.1v1.1h-1.1zM41.3 150.3h1.1v1.1h-1.1zM39.2 149.9h1.1v1.1h-1.1zM39.3 151.3h1.1v1.1h-1.1zM34.3 151.4h1.1v1.1h-1.1zM25.9 148.4h1.1v1.1h-1.1zM33.4 148.5h1.1v1.1h-1.1zM24.5 147.3h1.1v1.1h-1.1zM35.3 143.1h1.1v1.1h-1.1zM28.3 146.1h1.1v1.1h-1.1zM40.5 149.2h1.1v1.1h-1.1zM37.8 149.3h1.1v1.1h-1.1zM39.4 145.7h1.1v1.1h-1.1zM31.6 154.1h1.1v1.1h-1.1zM40.1 149.2h1.1v1.1h-1.1zM32.6 147.2h1.1v1.1h-1.1zM35.5 145h1.1v1.1h-1.1zM35.7 152.5h1.1v1.1h-1.1zM36.3 146.6h1.1v1.1h-1.1zM37 148.6h1.1v1.1h-1.1zM35 153.2h1.1v1.1h-1.1zM27.6 150.7h1.1v1.1h-1.1zM26.2 149.1h1.1v1.1h-1.1zM31.2 147.4h1.1v1.1h-1.1zM37.8 145.4h1.1v1.1h-1.1zM37 152.1h1.1v1.1h-1.1zM34.5 151.2h1.1v1.1h-1.1zM29.1 148.1h1.1v1.1h-1.1zM33.6 144.5h1.1v1.1h-1.1zM36.3 147.3h1.1v1.1h-1.1zM25.5 146.9h1.1v1.1h-1.1zM36.2 152h1.1v1.1h-1.1zM33.6 146h1.1v1.1h-1.1zM39.5 149.5h1.1v1.1h-1.1zM31.7 149.2h1.1v1.1h-1.1zM30.7 149.1h1.1v1.1h-1.1zM31.1 150.3h1.1v1.1h-1.1zM24.5 147.8h1.1v1.1h-1.1zM38.8 147.1h1.1v1.1h-1.1zM36.5 150.5h1.1v1.1h-1.1zM36.6 146.6h1.1v1.1h-1.1zM33.3 154.3h1.1v1.1h-1.1zM29.5 154.5h1.1v1.1h-1.1zM35.6 153.8h1.1v1.1h-1.1zM41.1 147.3h1.1v1.1h-1.1zM31.1 150.5h1.1v1.1h-1.1zM38.7 151.9h1.1v1.1h-1.1zM26 149.5h1.1v1.1h-1.1zM30.9 150.6h1.1v1.1h-1.1zM32.8 153.4h1.1v1.1h-1.1zM40 147.2h1.1v1.1h-1.1zM31.5 145.4h1.1v1.1h-1.1zM34.2 145.7h1.1v1.1h-1.1zM36.4 147.4h1.1v1.1h-1.1zM39.3 148.9h1.1v1.1h-1.1zM31.1 151.8h1.1v1.1h-1.1zM29.9 149.9h1.1v1.1h-1.1zM37.3 148.4h1.1v1.1h-1.1zM27.8 144.4h1.1v1.1h-1.1zM29.6 148.4h1.1v1.1h-1.1zM30.9 163.6h1.1v1.1h-1.1zM34.4 164.9h1.1v1.1h-1.1zM32.1 161.3h1.1v1.1h-1.1zM31.5 164.3h1.1v1.1h-1.1zM33.7 158.3h1.1v1.1h-1.1zM30.8 161.6h1.1v1.1h-1.1zM29.3 163.1h1.1v1.1h-1.1zM27.6 157.5h1.1v1.1h-1.1zM32.1 160.1h1.1v1.1h-1.1zM29.8 162.7h1.1v1.1h-1.1zM29.5 165.8h1.1v1.1h-1.1zM29.3 161.5h1.1v1.1h-1.1zM26 162.8h1.1v1.1h-1.1zM33.5 164.7h1.1v1.1h-1.1zM25.9 162.6h1.1v1.1h-1.1zM37 162.1h1.1v1.1h-1.1zM29.4 161.3h1.1v1.1h-1.1zM25.7 159.5h1.1v1.1h-1.1zM37 163.8h1.1v1.1h-1.1zM27 163.1h1.1v1.1h-1.1zM30.3 163h1.1v1.1h-1.1zM26.9 158.1h1.1v1.1h-1.1zM29.9 166.2h1.1v1.1h-1.1zM29.4 167.9h1.1v1.1h-1.1zM30.5 164.6h1.1v1.1h-1.1zM31.7 164.7h1.1v1.1h-1.1zM30.6 161.2h1.1v1.1h-1.1zM35 162.4h1.1v1.1h-1.1zM121.3 145.8h1.1v1.1h-1.1zM123.6 144.8h1.1v1.1h-1.1zM99.8 135.7h1.1v1.1h-1.1zM84.9 150.5h1.1v1.1h-1.1zM81.4 150.3h1.1v1.1h-1.1zM85.3 151.2h1.1v1.1h-1.1zM83.6 145h1.1v1.1h-1.1zM88.8 156.8h1.1v1.1h-1.1zM89.8 149.3h1.1v1.1h-1.1zM86.4 149.3h1.1v1.1h-1.1zM82.2 151.3h1.1v1.1h-1.1zM83 147.4h1.1v1.1h-1.1zM87.1 146.9h1.1v1.1h-1.1zM86.8 146.7h1.1v1.1h-1.1zM90.9 145.7h1.1v1.1h-1.1zM91.3 149.6h1.1v1.1h-1.1zM86.7 153.3h1.1v1.1h-1.1zM87 153.5h1.1v1.1h-1.1zM85.3 152.3h1.1v1.1h-1.1zM83.9 150h1.1v1.1h-1.1zM88.5 147.8h1.1v1.1h-1.1zM80.3 149.9h1.1v1.1h-1.1zM79.8 149.2h1.1v1.1h-1.1zM85.3 155.9h1.1v1.1h-1.1zM82 145h1.1v1.1h-1.1zM86.7 144.6h1.1v1.1h-1.1zM87.3 147h1.1v1.1h-1.1zM81.3 149.4h1.1v1.1h-1.1zM82.8 153.3h1.1v1.1h-1.1zM90.1 149.6h1.1v1.1h-1.1zM85.5 150.6h1.1v1.1h-1.1zM89.6 152.6h1.1v1.1h-1.1zM82.5 150.6h1.1v1.1h-1.1zM81.6 153.3h1.1v1.1h-1.1zM86.1 151.8h1.1v1.1h-1.1zM80.1 150.9h1.1v1.1h-1.1zM80.4 153.2h1.1v1.1h-1.1zM84.9 150.7h1.1v1.1h-1.1zM80.2 148.1h1.1v1.1h-1.1zM84.8 148.2h1.1v1.1h-1.1zM86.9 152h1.1v1.1h-1.1zM86.2 152.9h1.1v1.1h-1.1zM86.7 154.4h1.1v1.1h-1.1zM83.7 151.2h1.1v1.1h-1.1zM84 151h1.1v1.1h-1.1zM87 148.5h1.1v1.1h-1.1zM80.5 151h1.1v1.1h-1.1zM86 150h1.1v1.1h-1.1zM89 147.8h1.1v1.1h-1.1zM88 154.3h1.1v1.1h-1.1zM85.7 145.5h1.1v1.1h-1.1zM86.9 156.4h1.1v1.1h-1.1zM90.5 152.7h1.1v1.1h-1.1zM88.4 151.1h1.1v1.1h-1.1zM85.7 152.5h1.1v1.1h-1.1zM91.3 152.5h1.1v1.1h-1.1zM88.2 150.3h1.1v1.1h-1.1zM82.3 150.9h1.1v1.1h-1.1zM86.1 150.5h1.1v1.1h-1.1zM88.7 155.9h1.1v1.1h-1.1zM89.3 145.2h1.1v1.1h-1.1zM90.1 155.3h1.1v1.1h-1.1zM83.2 148.7h1.1v1.1h-1.1zM87.1 147h1.1v1.1h-1.1zM88.4 151.4h1.1v1.1h-1.1zM82.8 147.7h1.1v1.1h-1.1zM80.4 148.4h1.1v1.1h-1.1zM87.5 153.6h1.1v1.1h-1.1zM82.6 147.8h1.1v1.1h-1.1zM85.4 151.1h1.1v1.1h-1.1zM86.4 146.6h1.1v1.1h-1.1zM88.2 150.5h1.1v1.1h-1.1zM92 152.2h1.1v1.1h-1.1zM86.7 150.6h1.1v1.1h-1.1zM86.1 151.9h1.1v1.1h-1.1zM86 154h1.1v1.1h-1.1zM84.5 149.4h1.1v1.1h-1.1zM85.9 152.2h1.1v1.1h-1.1zM88.9 149.3h1.1v1.1h-1.1zM88.8 153.8h1.1v1.1h-1.1zM81.7 154.1h1.1v1.1h-1.1zM83.2 156.2h1.1v1.1h-1.1zM82.5 148.6h1.1v1.1h-1.1zM85.2 153.8h1.1v1.1h-1.1zM85.6 144.5h1.1v1.1h-1.1zM83.7 147.7h1.1v1.1h-1.1zM87.9 147.1h1.1v1.1h-1.1zM84.3 148.9h1.1v1.1h-1.1zM91.9 151.8h1.1v1.1h-1.1zM82.6 153.9h1.1v1.1h-1.1zM86.2 162.4h1.1v1.1h-1.1zM88.5 167.3h1.1v1.1h-1.1zM91.5 163.2h1.1v1.1h-1.1zM90.7 161h1.1v1.1h-1.1zM86 160.1h1.1v1.1h-1.1zM82.6 164.7h1.1v1.1h-1.1zM85.7 163.6h1.1v1.1h-1.1zM86.3 167.4h1.1v1.1h-1.1zM81.6 161.6h1.1v1.1h-1.1zM80.6 166.2h1.1v1.1h-1.1zM87.9 166.1h1.1v1.1h-1.1zM83.8 161.9h1.1v1.1h-1.1zM84.7 164.5h1.1v1.1h-1.1zM86.1 167h1.1v1.1h-1.1zM90.3 167h1.1v1.1h-1.1zM82.3 162.3h1.1v1.1h-1.1zM84.7 168.3h1.1v1.1h-1.1zM81.1 159.8h1.1v1.1h-1.1zM92.2 162.3h1.1v1.1h-1.1zM88.9 167.3h1.1v1.1h-1.1zM82.7 164.3h1.1v1.1h-1.1zM90.4 168.6h1.1v1.1h-1.1zM85.1 167.4h1.1v1.1h-1.1zM85.5 163.8h1.1v1.1h-1.1zM90 160.5h1.1v1.1h-1.1zM90.2 168.1h1.1v1.1h-1.1zM80.2 168h1.1v1.1h-1.1zM87.7 161.9h1.1v1.1h-1.1zM84 161.2h1.1v1.1h-1.1zM86 162.9h1.1v1.1h-1.1zM83.4 164.9h1.1v1.1h-1.1zM81.4 163.9h1.1v1.1h-1.1zM86.6 165.4h1.1v1.1h-1.1zM80.2 163.2h1.1v1.1h-1.1zM83.8 165.3h1.1v1.1h-1.1zM156.7 139.3h1.1v1.1h-1.1zM178.2 163.7h1.1v1.1h-1.1zM146.4 146.7h1.1v1.1h-1.1zM154.1 149.3h1.1v1.1h-1.1zM149.4 148.2h1.1v1.1h-1.1zM148.4 148.2h1.1v1.1h-1.1zM146.4 150.1h1.1v1.1h-1.1zM155.9 149.8h1.1v1.1h-1.1zM145.8 145.9h1.1v1.1h-1.1zM148.2 148.2h1.1v1.1h-1.1zM141.1 147.5h1.1v1.1h-1.1zM148.8 148.4h1.1v1.1h-1.1zM140.9 147.6h1.1v1.1h-1.1zM153.2 145.7h1.1v1.1h-1.1zM147.2 149.4h1.1v1.1h-1.1zM150.6 149.6h1.1v1.1h-1.1zM154.8 148.2h1.1v1.1h-1.1zM154.5 148.6h1.1v1.1h-1.1zM150.8 148h1.1v1.1h-1.1zM148.3 151.1h1.1v1.1h-1.1zM152.2 151.7h1.1v1.1h-1.1zM148 151.2h1.1v1.1h-1.1zM149.5 149.5h1.1v1.1h-1.1zM147.9 143.9h1.1v1.1h-1.1zM151.6 147h1.1v1.1h-1.1zM151.2 146.6h1.1v1.1h-1.1zM148.8 144.6h1.1v1.1h-1.1zM153.7 147.1h1.1v1.1h-1.1zM147.8 146.1h1.1v1.1h-1.1zM154.3 152.1h1.1v1.1h-1.1zM141.3 148.1h1.1v1.1h-1.1zM143.1 145.8h1.1v1.1h-1.1zM152.2 149.5h1.1v1.1h-1.1zM145.3 153.6h1.1v1.1h-1.1zM147.4 142.7h1.1v1.1h-1.1zM143 148.5h1.1v1.1h-1.1zM146.9 152.2h1.1v1.1h-1.1zM144.2 149.3h1.1v1.1h-1.1zM151.8 143.9h1.1v1.1h-1.1zM146.2 152h1.1v1.1h-1.1zM141.4 148.2h1.1v1.1h-1.1zM149.7 148.2h1.1v1.1h-1.1zM142.6 146.7h1.1v1.1h-1.1zM152.1 152.6h1.1v1.1h-1.1zM152.1 146.4h1.1v1.1h-1.1zM149.1 152.3h1.1v1.1h-1.1zM142.5 147.6h1.1v1.1h-1.1zM148.1 152.7h1.1v1.1h-1.1zM149 151.4h1.1v1.1h-1.1zM151.1 145.5h1.1v1.1h-1.1zM146.7 144.1h1.1v1.1h-1.1zM142.6 147h1.1v1.1h-1.1zM148.5 145.9h1.1v1.1h-1.1zM140.4 151.8h1.1v1.1h-1.1zM144.3 164.8h1.1v1.1h-1.1zM143.6 164.2h1.1v1.1h-1.1zM142.8 163.8h1.1v1.1h-1.1zM150.2 163.8h1.1v1.1h-1.1zM144.1 162.6h1.1v1.1h-1.1zM140.5 166.1h1.1v1.1h-1.1zM146 166.9h1.1v1.1h-1.1zM150.8 162.8h1.1v1.1h-1.1zM141 162.6h1.1v1.1h-1.1zM143.1 164.2h1.1v1.1h-1.1zM146.1 158.6h1.1v1.1h-1.1zM146.1 161.1h1.1v1.1h-1.1zM146 162.7h1.1v1.1h-1.1zM144.1 158h1.1v1.1h-1.1zM146.6 159.9h1.1v1.1h-1.1zM146.6 163.5h1.1v1.1h-1.1zM149.3 161.6h1.1v1.1h-1.1zM149.5 160.3h1.1v1.1h-1.1zM140.7 162.4h1.1v1.1h-1.1zM141.7 163.4h1.1v1.1h-1.1zM144.4 162.1h1.1v1.1h-1.1zM144.4 159.8h1.1v1.1h-1.1zM42.7 197.7h1.1v1.1h-1.1zM23.4 200.9h1.1v1.1h-1.1zM28.9 197.3h1.1v1.1h-1.1zM35.2 198.4h1.1v1.1h-1.1zM24.8 198h1.1v1.1h-1.1zM32 201h1.1v1.1h-1.1zM24.9 196.1h1.1v1.1h-1.1zM30.4 198.1h1.1v1.1h-1.1zM30 200.6h1.1v1.1h-1.1zM32.8 199.6h1.1v1.1h-1.1zM29.5 201h1.1v1.1h-1.1zM37.8 200.5h1.1v1.1h-1.1zM36.7 197.3h1.1v1.1h-1.1zM30 197.2h1.1v1.1h-1.1zM26.1 200.2h1.1v1.1h-1.1zM26.1 197h1.1v1.1h-1.1zM26.5 200.9h1.1v1.1h-1.1zM29.2 199.6h1.1v1.1h-1.1zM36.1 197.4h1.1v1.1h-1.1zM37.2 200h1.1v1.1h-1.1zM38.5 197.5h1.1v1.1h-1.1zM25.1 196.6h1.1v1.1h-1.1zM31.5 200h1.1v1.1h-1.1zM35.8 195.1h1.1v1.1h-1.1zM33.7 199.3h1.1v1.1h-1.1zM32.1 199.6h1.1v1.1h-1.1zM27.1 200.8h1.1v1.1h-1.1zM31.9 199.8h1.1v1.1h-1.1zM30.5 197.3h1.1v1.1h-1.1zM30.7 195.7h1.1v1.1h-1.1zM30.4 197.5h1.1v1.1h-1.1zM29.8 196h1.1v1.1h-1.1zM26.8 201.2h1.1v1.1h-1.1zM26.3 199.2h1.1v1.1h-1.1zM29.5 201.9h1.1v1.1h-1.1zM33 203.6h1.1v1.1h-1.1zM27.4 201.1h1.1v1.1h-1.1zM31.2 200.7h1.1v1.1h-1.1zM26.9 197.3h1.1v1.1h-1.1zM32 199.6h1.1v1.1h-1.1zM34.9 196.5h1.1v1.1h-1.1zM36.6 197.6h1.1v1.1h-1.1zM29.2 200.6h1.1v1.1h-1.1zM33.6 195.5h1.1v1.1h-1.1zM30.6 201.7h1.1v1.1h-1.1zM34.7 196.8h1.1v1.1h-1.1zM29.3 195.2h1.1v1.1h-1.1zM30.5 196.1h1.1v1.1h-1.1zM31.4 201.3h1.1v1.1h-1.1zM32.2 201.5h1.1v1.1h-1.1zM30.6 201.2h1.1v1.1h-1.1zM30.8 198.1h1.1v1.1h-1.1zM30 198.2h1.1v1.1h-1.1zM36 198.2h1.1v1.1h-1.1zM31.7 200.4h1.1v1.1h-1.1zM31.3 196.7h1.1v1.1h-1.1zM29.9 197.7h1.1v1.1h-1.1zM28.9 201.7h1.1v1.1h-1.1zM36.7 197.6h1.1v1.1h-1.1zM29 203.3h1.1v1.1h-1.1zM30.7 198.9h1.1v1.1h-1.1zM26.4 202.4h1.1v1.1h-1.1zM32 198.6h1.1v1.1h-1.1zM36.3 195.7h1.1v1.1h-1.1zM39.2 199.8h1.1v1.1h-1.1zM27.8 199.4h1.1v1.1h-1.1zM36.9 195.9h1.1v1.1h-1.1zM31.8 203.4h1.1v1.1h-1.1zM27.8 196h1.1v1.1h-1.1zM30.5 196.9h1.1v1.1h-1.1zM37.2 198.1h1.1v1.1h-1.1zM25.9 213.7h1.1v1.1h-1.1zM29.4 209.5h1.1v1.1h-1.1zM27.9 213.2h1.1v1.1h-1.1zM28.6 212.3h1.1v1.1h-1.1zM29.8 212.8h1.1v1.1h-1.1zM26.8 217.8h1.1v1.1h-1.1zM35.6 213.3h1.1v1.1h-1.1zM28.2 211.1h1.1v1.1h-1.1zM33.8 209.7h1.1v1.1h-1.1zM27.3 209.3h1.1v1.1h-1.1zM24.7 212.8h1.1v1.1h-1.1zM24.7 215.5h1.1v1.1h-1.1zM27.2 211.8h1.1v1.1h-1.1zM23.6 214.9h1.1v1.1h-1.1zM28.8 212.5h1.1v1.1h-1.1zM30.9 210.8h1.1v1.1h-1.1zM27.8 211.9h1.1v1.1h-1.1zM33.4 215.1h1.1v1.1h-1.1zM23.3 208.9h1.1v1.1h-1.1zM26 213.9h1.1v1.1h-1.1zM29.5 210.2h1.1v1.1h-1.1zM25.4 212.4h1.1v1.1h-1.1zM29.4 215h1.1v1.1h-1.1zM29.9 211.2h1.1v1.1h-1.1zM24.2 213.3h1.1v1.1h-1.1zM30.8 213h1.1v1.1h-1.1zM24.3 215.9h1.1v1.1h-1.1zM30.7 212.6h1.1v1.1h-1.1zM29.6 217.7h1.1v1.1h-1.1zM30.4 210.1h1.1v1.1h-1.1zM29.8 215.4h1.1v1.1h-1.1zM28.1 211.3h1.1v1.1h-1.1zM28.7 208.5h1.1v1.1h-1.1zM30.3 211.8h1.1v1.1h-1.1zM23.5 212.8h1.1v1.1h-1.1zM32.4 212.6h1.1v1.1h-1.1zM32 210.7h1.1v1.1h-1.1zM29.1 212.4h1.1v1.1h-1.1zM28.9 211.5h1.1v1.1h-1.1zM34.9 212h1.1v1.1h-1.1zM30.7 215.7h1.1v1.1h-1.1zM25.4 210.5h1.1v1.1h-1.1zM29.3 213.3h1.1v1.1h-1.1zM104.4 215.3h1.1v1.1h-1.1zM119.2 180.7h1.1v1.1h-1.1zM123.6 208.1h1.1v1.1h-1.1zM83.2 198.4h1.1v1.1h-1.1zM84.7 198.2h1.1v1.1h-1.1zM87.8 202.3h1.1v1.1h-1.1zM85.9 203.3h1.1v1.1h-1.1zM85.7 198.9h1.1v1.1h-1.1zM89.8 199.3h1.1v1.1h-1.1zM88.5 202.1h1.1v1.1h-1.1zM86.6 204h1.1v1.1h-1.1zM88.3 203.1h1.1v1.1h-1.1zM82.4 199.5h1.1v1.1h-1.1zM83.7 202.6h1.1v1.1h-1.1zM84.1 204.5h1.1v1.1h-1.1zM83 196.7h1.1v1.1h-1.1zM83.5 200.3h1.1v1.1h-1.1zM83.5 198.6h1.1v1.1h-1.1zM85.6 204.9h1.1v1.1h-1.1zM85.4 200.4h1.1v1.1h-1.1zM84.9 195.2h1.1v1.1h-1.1zM84.6 198.6h1.1v1.1h-1.1zM85 204.8h1.1v1.1h-1.1zM84.6 200.4h1.1v1.1h-1.1zM84.9 202.6h1.1v1.1h-1.1zM85 197.6h1.1v1.1h-1.1zM85.6 203.7h1.1v1.1h-1.1zM87.7 197.8h1.1v1.1h-1.1zM83.5 203.5h1.1v1.1h-1.1zM82.7 199.4h1.1v1.1h-1.1zM87.2 195h1.1v1.1h-1.1zM83.7 201.9h1.1v1.1h-1.1zM84 203h1.1v1.1h-1.1zM90.3 203.7h1.1v1.1h-1.1zM84.9 205.8h1.1v1.1h-1.1zM88.4 200.9h1.1v1.1h-1.1zM87.6 202.3h1.1v1.1h-1.1zM84 197.6h1.1v1.1h-1.1zM89 201.7h1.1v1.1h-1.1zM82.8 198h1.1v1.1h-1.1zM89 200.9h1.1v1.1h-1.1zM81.2 205.1h1.1v1.1h-1.1zM90.4 202.9h1.1v1.1h-1.1zM83.8 198.5h1.1v1.1h-1.1zM87.7 197.5h1.1v1.1h-1.1zM82.7 198.5h1.1v1.1h-1.1zM84.2 200h1.1v1.1h-1.1zM89.2 203.7h1.1v1.1h-1.1zM82.7 204.3h1.1v1.1h-1.1zM80.6 200h1.1v1.1h-1.1zM80.3 202.6h1.1v1.1h-1.1zM84.1 200.6h1.1v1.1h-1.1zM82.9 199.8h1.1v1.1h-1.1zM85.6 196.2h1.1v1.1h-1.1zM81.4 199.6h1.1v1.1h-1.1zM82.3 207.1h1.1v1.1h-1.1zM86.8 212.7h1.1v1.1h-1.1zM86.5 211.6h1.1v1.1h-1.1zM86.4 211.9h1.1v1.1h-1.1zM88.6 216.4h1.1v1.1h-1.1zM84.5 208.6h1.1v1.1h-1.1zM83.2 212h1.1v1.1h-1.1zM83.5 209.9h1.1v1.1h-1.1zM88.1 210.3h1.1v1.1h-1.1zM82 215.4h1.1v1.1h-1.1zM169.1 212h1.1v1.1h-1.1zM143.6 196.5h1.1v1.1h-1.1zM149.7 198.8h1.1v1.1h-1.1zM149.2 201.5h1.1v1.1h-1.1zM142.7 199.3h1.1v1.1h-1.1zM145.1 197.3h1.1v1.1h-1.1zM140.3 201.7h1.1v1.1h-1.1zM143.1 196.5h1.1v1.1h-1.1zM142.1 200.4h1.1v1.1h-1.1zM147.2 199.8h1.1v1.1h-1.1zM149 202.3h1.1v1.1h-1.1zM143.8 201.4h1.1v1.1h-1.1zM148.1 195.3h1.1v1.1h-1.1zM146.6 196.9h1.1v1.1h-1.1zM148.4 195.5h1.1v1.1h-1.1zM150.1 203.3h1.1v1.1h-1.1zM145.6 196.4h1.1v1.1h-1.1zM144.7 203.2h1.1v1.1h-1.1zM143.2 196.9h1.1v1.1h-1.1zM150.3 194.3h1.1v1.1h-1.1zM148.2 199.8h1.1v1.1h-1.1zM142.3 199.3h1.1v1.1h-1.1zM147.6 195.9h1.1v1.1h-1.1zM152.6 198.9h1.1v1.1h-1.1zM153.2 196.4h1.1v1.1h-1.1zM150.6 203.3h1.1v1.1h-1.1zM146.8 199.5h1.1v1.1h-1.1zM145.9 200h1.1v1.1h-1.1zM149.6 197.7h1.1v1.1h-1.1zM149.9 202.3h1.1v1.1h-1.1zM144.9 195.5h1.1v1.1h-1.1zM146.3 200h1.1v1.1h-1.1zM146.5 196.1h1.1v1.1h-1.1zM146.9 198h1.1v1.1h-1.1zM147.9 200.4h1.1v1.1h-1.1zM144.1 202.1h1.1v1.1h-1.1zM145.3 198h1.1v1.1h-1.1zM147.6 197.7h1.1v1.1h-1.1zM145.6 198.6h1.1v1.1h-1.1zM149.7 202.3h1.1v1.1h-1.1zM144.6 204.7h1.1v1.1h-1.1zM147.4 203.1h1.1v1.1h-1.1zM144.1 200.2h1.1v1.1h-1.1zM141.5 198.2h1.1v1.1h-1.1zM148.5 196.8h1.1v1.1h-1.1zM140 198.4h1.1v1.1h-1.1zM145.1 197.6h1.1v1.1h-1.1zM146.8 199.8h1.1v1.1h-1.1zM147.2 200h1.1v1.1h-1.1zM151.5 200.8h1.1v1.1h-1.1zM141.2 196.9h1.1v1.1h-1.1zM142 200.1h1.1v1.1h-1.1zM143.3 197.5h1.1v1.1h-1.1zM148.8 199.6h1.1v1.1h-1.1zM143.3 198.5h1.1v1.1h-1.1zM143.4 197.7h1.1v1.1h-1.1zM149.5 196.8h1.1v1.1h-1.1zM152.5 198.4h1.1v1.1h-1.1zM145.5 198.9h1.1v1.1h-1.1zM160.7 200.1h1.1v1.1h-1.1zM160.7 201.5h1.1v1.1h-1.1zM163.5 198.6h1.1v1.1h-1.1zM157.8 199.6h1.1v1.1h-1.1zM155 202h1.1v1.1h-1.1zM158.9 201.1h1.1v1.1h-1.1zM166.9 196.7h1.1v1.1h-1.1zM156.5 200.2h1.1v1.1h-1.1zM157.8 201.1h1.1v1.1h-1.1zM162.1 198.1h1.1v1.1h-1.1zM161.3 198.2h1.1v1.1h-1.1zM156.6 201.5h1.1v1.1h-1.1zM146.8 211.8h1.1v1.1h-1.1zM146 211.4h1.1v1.1h-1.1zM144.9 213.4h1.1v1.1h-1.1zM146.3 213.9h1.1v1.1h-1.1zM148.4 213.6h1.1v1.1h-1.1zM142.7 213h1.1v1.1h-1.1zM144.4 209.8h1.1v1.1h-1.1zM142.2 214h1.1v1.1h-1.1zM141.1 208.4h1.1v1.1h-1.1zM147.6 213.4h1.1v1.1h-1.1zM145 213.7h1.1v1.1h-1.1zM141.1 212.5h1.1v1.1h-1.1zM142.7 211.1h1.1v1.1h-1.1zM144.3 209.9h1.1v1.1h-1.1zM144.4 211.9h1.1v1.1h-1.1zM148.7 210.2h1.1v1.1h-1.1zM143 208.6h1.1v1.1h-1.1zM142 213.4h1.1v1.1h-1.1zM143.2 211.2h1.1v1.1h-1.1zM149 209.7h1.1v1.1h-1.1zM143.9 211.2h1.1v1.1h-1.1zM145.6 212.6h1.1v1.1h-1.1zM148.4 216.6h1.1v1.1h-1.1zM145.2 208.2h1.1v1.1h-1.1zM139.7 209.6h1.1v1.1h-1.1zM143.1 211.7h1.1v1.1h-1.1zM142.6 210.5h1.1v1.1h-1.1zM44.8 227.8h1.1v1.1h-1.1zM68.3 233h1.1v1.1h-1.1zM29.2 251.2h1.1v1.1h-1.1zM35.2 257.6h1.1v1.1h-1.1zM32.1 250.6h1.1v1.1h-1.1zM31.4 253.4h1.1v1.1h-1.1zM27.5 254.3h1.1v1.1h-1.1zM32.5 253.8h1.1v1.1h-1.1zM37.2 247.4h1.1v1.1h-1.1zM35.4 255.2h1.1v1.1h-1.1zM25 250.9h1.1v1.1h-1.1zM30.8 247.4h1.1v1.1h-1.1zM30.1 254h1.1v1.1h-1.1zM32.2 251.1h1.1v1.1h-1.1zM30.6 255.9h1.1v1.1h-1.1zM31.1 254h1.1v1.1h-1.1zM29.1 258.3h1.1v1.1h-1.1zM29.3 256.1h1.1v1.1h-1.1zM30.6 250.3h1.1v1.1h-1.1zM38 253.7h1.1v1.1h-1.1zM34.1 251.8h1.1v1.1h-1.1zM37.5 258.6h1.1v1.1h-1.1zM35.9 246.7h1.1v1.1h-1.1zM35.4 256.1h1.1v1.1h-1.1zM34.7 255.6h1.1v1.1h-1.1zM36.7 247.6h1.1v1.1h-1.1zM32.3 255.5h1.1v1.1h-1.1zM32 255.5h1.1v1.1h-1.1zM29.1 252.9h1.1v1.1h-1.1zM31.9 257.4h1.1v1.1h-1.1zM37.2 258.5h1.1v1.1h-1.1zM35.9 258.9h1.1v1.1h-1.1zM32.8 249.9h1.1v1.1h-1.1zM28.8 254.6h1.1v1.1h-1.1zM36.9 256.6h1.1v1.1h-1.1zM36.5 248.3h1.1v1.1h-1.1zM25 255.3h1.1v1.1h-1.1zM27.2 255.6h1.1v1.1h-1.1zM34.2 251.7h1.1v1.1h-1.1zM33 253.5h1.1v1.1h-1.1zM32.6 251h1.1v1.1h-1.1zM32.5 254h1.1v1.1h-1.1zM36.3 259.5h1.1v1.1h-1.1zM33 246.7h1.1v1.1h-1.1zM36.5 249.4h1.1v1.1h-1.1zM34.7 255.9h1.1v1.1h-1.1zM32.6 250.4h1.1v1.1h-1.1zM40.2 252.7h1.1v1.1h-1.1zM32 254.2h1.1v1.1h-1.1zM30.4 253.4h1.1v1.1h-1.1zM29.5 246.9h1.1v1.1h-1.1zM31.7 255.5h1.1v1.1h-1.1zM31.7 249.2h1.1v1.1h-1.1zM35.8 252.5h1.1v1.1h-1.1zM37.7 252.3h1.1v1.1h-1.1zM33.1 252.7h1.1v1.1h-1.1zM33.3 249.3h1.1v1.1h-1.1zM33.9 260.2h1.1v1.1h-1.1zM32.8 255.8h1.1v1.1h-1.1zM34.9 257.3h1.1v1.1h-1.1zM36.6 253.6h1.1v1.1h-1.1zM32.3 254.2h1.1v1.1h-1.1zM29.6 263.7h1.1v1.1h-1.1zM27.1 264h1.1v1.1h-1.1zM33.8 260.1h1.1v1.1h-1.1zM38.9 261.4h1.1v1.1h-1.1zM36.2 261.2h1.1v1.1h-1.1zM31.8 259.7h1.1v1.1h-1.1zM34.2 253.4h1.1v1.1h-1.1zM33.6 252.7h1.1v1.1h-1.1zM31.5 252.2h1.1v1.1h-1.1zM35.9 249.8h1.1v1.1h-1.1zM31.6 253.7h1.1v1.1h-1.1zM34.9 255.2h1.1v1.1h-1.1zM35.8 250.7h1.1v1.1h-1.1zM31.2 253.2h1.1v1.1h-1.1zM32.2 254.9h1.1v1.1h-1.1zM30 253.8h1.1v1.1h-1.1zM31.4 253.9h1.1v1.1h-1.1zM31.9 252.8h1.1v1.1h-1.1zM36 249.7h1.1v1.1h-1.1zM34 254.6h1.1v1.1h-1.1zM34.4 250.3h1.1v1.1h-1.1zM117.5 262h1.1v1.1h-1.1zM124.5 232.8h1.1v1.1h-1.1zM112.9 228.3h1.1v1.1h-1.1zM89.5 251.7h1.1v1.1h-1.1zM85.7 253h1.1v1.1h-1.1zM91.9 253.9h1.1v1.1h-1.1zM86.3 252.6h1.1v1.1h-1.1zM88.8 252.8h1.1v1.1h-1.1zM88.1 253h1.1v1.1h-1.1zM84.1 256h1.1v1.1h-1.1zM85.8 251.6h1.1v1.1h-1.1zM86.7 250.3h1.1v1.1h-1.1zM88.3 253.3h1.1v1.1h-1.1zM90.5 256.6h1.1v1.1h-1.1zM84.5 252.1h1.1v1.1h-1.1zM89.6 254.8h1.1v1.1h-1.1zM84.6 256.6h1.1v1.1h-1.1zM83.1 253.3h1.1v1.1h-1.1zM87.2 249.8h1.1v1.1h-1.1zM86.4 251.6h1.1v1.1h-1.1zM90.2 253.3h1.1v1.1h-1.1zM93.5 253.2h1.1v1.1h-1.1zM86.3 255.5h1.1v1.1h-1.1zM93.4 252.6h1.1v1.1h-1.1zM88.3 249.3h1.1v1.1h-1.1zM91 252.4h1.1v1.1h-1.1zM82.8 250h1.1v1.1h-1.1zM89.1 259.2h1.1v1.1h-1.1zM89.8 258.9h1.1v1.1h-1.1zM84.6 257.4h1.1v1.1h-1.1zM85.3 253.6h1.1v1.1h-1.1zM89.8 249h1.1v1.1h-1.1zM95 252.6h1.1v1.1h-1.1zM86.6 254.8h1.1v1.1h-1.1zM88.6 253.9h1.1v1.1h-1.1zM89.4 252.3h1.1v1.1h-1.1zM91 255.5h1.1v1.1h-1.1zM88.8 253.2h1.1v1.1h-1.1zM89.9 249.5h1.1v1.1h-1.1zM91.7 253.9h1.1v1.1h-1.1zM90.4 255.3h1.1v1.1h-1.1zM86.4 252.1h1.1v1.1h-1.1zM92.7 257.4h1.1v1.1h-1.1zM92.2 254.4h1.1v1.1h-1.1zM91.4 252.1h1.1v1.1h-1.1zM90 252.2h1.1v1.1h-1.1zM81.2 255h1.1v1.1h-1.1zM88.4 248h1.1v1.1h-1.1zM85.2 257.4h1.1v1.1h-1.1zM81.7 255.7h1.1v1.1h-1.1zM83.4 257.5h1.1v1.1h-1.1zM83.8 252.6h1.1v1.1h-1.1zM96.3 256.4h1.1v1.1h-1.1zM89 246.7h1.1v1.1h-1.1zM89.9 256.4h1.1v1.1h-1.1zM86 261.9h1.1v1.1h-1.1zM83.9 261.4h1.1v1.1h-1.1zM87.9 260.9h1.1v1.1h-1.1zM88 264h1.1v1.1h-1.1zM93.2 259.5h1.1v1.1h-1.1zM88.7 262.5h1.1v1.1h-1.1zM84 263.5h1.1v1.1h-1.1zM83.7 261.8h1.1v1.1h-1.1zM85.6 259.2h1.1v1.1h-1.1zM91.1 259.8h1.1v1.1h-1.1zM90.2 260h1.1v1.1h-1.1zM86.8 261.5h1.1v1.1h-1.1zM93 262.9h1.1v1.1h-1.1zM85.3 261.9h1.1v1.1h-1.1zM85.9 251.4h1.1v1.1h-1.1zM91 249.4h1.1v1.1h-1.1zM92 248.8h1.1v1.1h-1.1zM86.9 252.4h1.1v1.1h-1.1zM86.6 252.8h1.1v1.1h-1.1zM84.4 252.1h1.1v1.1h-1.1zM89.2 252.3h1.1v1.1h-1.1zM162.3 230.9h1.1v1.1h-1.1zM166.2 262.3h1.1v1.1h-1.1zM146.1 250.4h1.1v1.1h-1.1zM150.5 255.7h1.1v1.1h-1.1zM152.6 250h1.1v1.1h-1.1zM151.6 249.9h1.1v1.1h-1.1zM149.2 254h1.1v1.1h-1.1zM141.3 251.2h1.1v1.1h-1.1zM146 248.2h1.1v1.1h-1.1zM150.3 256.4h1.1v1.1h-1.1zM149.7 254.5h1.1v1.1h-1.1zM147.3 252h1.1v1.1h-1.1zM145.2 249.8h1.1v1.1h-1.1zM152.6 251.3h1.1v1.1h-1.1zM144 251.8h1.1v1.1h-1.1zM153.8 257.4h1.1v1.1h-1.1zM147.6 254.4h1.1v1.1h-1.1zM152.1 253.8h1.1v1.1h-1.1zM149.4 258h1.1v1.1h-1.1zM151.4 252.1h1.1v1.1h-1.1zM147.3 251.2h1.1v1.1h-1.1zM144.1 249.6h1.1v1.1h-1.1zM143.4 249.6h1.1v1.1h-1.1zM150.4 255.6h1.1v1.1h-1.1zM149.3 251.5h1.1v1.1h-1.1zM146.8 251.3h1.1v1.1h-1.1zM147.2 253.1h1.1v1.1h-1.1zM144.2 257h1.1v1.1h-1.1zM152.6 253.2h1.1v1.1h-1.1zM149.1 250.4h1.1v1.1h-1.1zM150 256.6h1.1v1.1h-1.1zM147.4 251.5h1.1v1.1h-1.1zM149.8 257.2h1.1v1.1h-1.1zM148.7 251.5h1.1v1.1h-1.1zM149.6 251.7h1.1v1.1h-1.1zM147.8 251.1h1.1v1.1h-1.1zM152.7 252.5h1.1v1.1h-1.1zM150.7 256h1.1v1.1h-1.1zM150.2 251.3h1.1v1.1h-1.1zM147 252.9h1.1v1.1h-1.1zM148 253.2h1.1v1.1h-1.1zM148.8 247.5h1.1v1.1h-1.1zM146.9 253.6h1.1v1.1h-1.1zM152.6 255.8h1.1v1.1h-1.1zM148.3 252.4h1.1v1.1h-1.1zM152.5 250.3h1.1v1.1h-1.1zM150.1 253.2h1.1v1.1h-1.1zM147.2 250.7h1.1v1.1h-1.1zM148.8 252.7h1.1v1.1h-1.1zM147.6 250.1h1.1v1.1h-1.1zM146.2 253.9h1.1v1.1h-1.1zM149.3 249.5h1.1v1.1h-1.1zM149.8 249.4h1.1v1.1h-1.1zM148.2 251.5h1.1v1.1h-1.1zM148.5 250.5h1.1v1.1h-1.1zM149.5 248.2h1.1v1.1h-1.1zM151.7 251h1.1v1.1h-1.1zM63 301.1h1.1v1.1h-1.1zM51.9 291.5h1.1v1.1h-1.1zM54.4 302.2h1.1v1.1h-1.1zM47.2 297.5h1.1v1.1h-1.1zM55.4 301h1.1v1.1h-1.1zM57.4 299h1.1v1.1h-1.1zM53.4 293.8h1.1v1.1h-1.1zM55.2 293.5h1.1v1.1h-1.1zM54.6 293.7h1.1v1.1h-1.1zM51.2 297.4h1.1v1.1h-1.1zM47.2 300.2h1.1v1.1h-1.1zM54 295.4h1.1v1.1h-1.1zM58.2 298.1h1.1v1.1h-1.1zM50.1 298.3h1.1v1.1h-1.1zM53.9 292.5h1.1v1.1h-1.1zM52.8 297.1h1.1v1.1h-1.1zM49.3 296.1h1.1v1.1h-1.1zM53.8 300.8h1.1v1.1h-1.1zM53.1 294.5h1.1v1.1h-1.1zM51.8 296.7h1.1v1.1h-1.1zM53.4 293.5h1.1v1.1h-1.1zM49.7 295.6h1.1v1.1h-1.1zM54.3 301.3h1.1v1.1h-1.1zM51.1 291.1h1.1v1.1h-1.1zM52.9 296.5h1.1v1.1h-1.1zM48.5 301.3h1.1v1.1h-1.1zM53.7 295.9h1.1v1.1h-1.1zM54.9 296h1.1v1.1h-1.1zM50.2 293.1h1.1v1.1h-1.1zM50.9 293.4h1.1v1.1h-1.1zM59.1 297.1h1.1v1.1h-1.1zM55.4 296.7h1.1v1.1h-1.1zM54.3 295.9h1.1v1.1h-1.1zM52.7 296.2h1.1v1.1h-1.1zM54.7 299.2h1.1v1.1h-1.1zM55.3 297.5h1.1v1.1h-1.1zM52.5 296.1h1.1v1.1h-1.1zM53.2 298.5h1.1v1.1h-1.1zM52.7 295.3h1.1v1.1h-1.1zM55.8 294.9h1.1v1.1h-1.1zM52.5 290.7h1.1v1.1h-1.1zM38.1 299.9h1.1v1.1h-1.1zM43.6 306.6h1.1v1.1h-1.1zM33.9 304.7h1.1v1.1h-1.1zM33.8 307h1.1v1.1h-1.1zM36.3 300.4h1.1v1.1h-1.1zM31.6 300.9h1.1v1.1h-1.1zM38.1 299.5h1.1v1.1h-1.1zM37.8 302.9h1.1v1.1h-1.1zM31 301.7h1.1v1.1h-1.1zM41.1 304.2h1.1v1.1h-1.1zM31.8 306.5h1.1v1.1h-1.1zM34.1 299.4h1.1v1.1h-1.1zM36.7 303.6h1.1v1.1h-1.1zM40.6 303h1.1v1.1h-1.1zM46.2 301.7h1.1v1.1h-1.1zM45.7 303.2h1.1v1.1h-1.1zM39 304.4h1.1v1.1h-1.1zM53.8 296.6h1.1v1.1h-1.1zM50.2 296h1.1v1.1h-1.1zM55.8 294h1.1v1.1h-1.1zM55.6 294.2h1.1v1.1h-1.1zM53.5 297.9h1.1v1.1h-1.1zM52.1 296.8h1.1v1.1h-1.1zM54.7 298.4h1.1v1.1h-1.1zM50.5 299.3h1.1v1.1h-1.1zM53.8 297.4h1.1v1.1h-1.1zM55.8 296.1h1.1v1.1h-1.1zM99.1 275.5h1.1v1.1h-1.1zM106.2 298.9h1.1v1.1h-1.1zM108.4 297.6h1.1v1.1h-1.1zM105.1 302.4h1.1v1.1h-1.1zM111.9 297.1h1.1v1.1h-1.1zM111.6 296.7h1.1v1.1h-1.1zM107.8 295.4h1.1v1.1h-1.1zM107.6 298.1h1.1v1.1h-1.1zM112.3 299.1h1.1v1.1h-1.1zM112.3 299.6h1.1v1.1h-1.1zM112.7 297.8h1.1v1.1h-1.1zM108.4 299.7h1.1v1.1h-1.1zM106.7 301.3h1.1v1.1h-1.1zM114.4 295.5h1.1v1.1h-1.1zM103.5 296.9h1.1v1.1h-1.1zM112.3 298.7h1.1v1.1h-1.1zM106 297.9h1.1v1.1h-1.1zM107.4 301.2h1.1v1.1h-1.1zM110.1 294.1h1.1v1.1h-1.1zM108.8 296.2h1.1v1.1h-1.1zM109.6 298.8h1.1v1.1h-1.1zM107.7 301.4h1.1v1.1h-1.1zM110.3 294.1h1.1v1.1h-1.1zM110.7 301.6h1.1v1.1h-1.1zM110.4 298.5h1.1v1.1h-1.1zM108.2 297.5h1.1v1.1h-1.1zM106.2 293.4h1.1v1.1h-1.1zM107.7 299.1h1.1v1.1h-1.1zM110 300.9h1.1v1.1h-1.1zM107.6 299.3h1.1v1.1h-1.1zM103.1 301.1h1.1v1.1h-1.1zM109.2 296.6h1.1v1.1h-1.1zM104.6 301.8h1.1v1.1h-1.1zM108.4 294.1h1.1v1.1h-1.1zM104.2 294.4h1.1v1.1h-1.1zM105.8 298.6h1.1v1.1h-1.1zM106.8 297.8h1.1v1.1h-1.1zM109 300h1.1v1.1h-1.1zM109.9 295.8h1.1v1.1h-1.1zM103.7 295.3h1.1v1.1h-1.1zM103 300.9h1.1v1.1h-1.1zM107.5 293.4h1.1v1.1h-1.1zM105.1 297.3h1.1v1.1h-1.1zM104.6 292.9h1.1v1.1h-1.1zM107.1 298.1h1.1v1.1h-1.1zM107.1 297.5h1.1v1.1h-1.1zM110.1 298.6h1.1v1.1h-1.1zM106.7 298.8h1.1v1.1h-1.1zM105.5 296h1.1v1.1h-1.1zM108.6 298.2h1.1v1.1h-1.1zM107.9 297.3h1.1v1.1h-1.1zM109.3 297.1h1.1v1.1h-1.1zM109 295.2h1.1v1.1h-1.1zM108 297.3h1.1v1.1h-1.1zM107.1 298.6h1.1v1.1h-1.1zM106.4 296.8h1.1v1.1h-1.1zM108.2 300.5h1.1v1.1h-1.1zM108.2 297.5h1.1v1.1h-1.1zM109.1 298.7h1.1v1.1h-1.1zM174.8 306.7h1.1v1.1h-1.1zM166.6 299.5h1.1v1.1h-1.1zM169.8 292.2h1.1v1.1h-1.1zM164.2 293.3h1.1v1.1h-1.1zM165.8 295.8h1.1v1.1h-1.1zM167.6 296.5h1.1v1.1h-1.1zM171.6 296.3h1.1v1.1h-1.1zM166.9 305h1.1v1.1h-1.1zM168.5 297.9h1.1v1.1h-1.1zM163.6 299.7h1.1v1.1h-1.1zM168.1 298.1h1.1v1.1h-1.1zM161.5 299.2h1.1v1.1h-1.1zM167.6 301.4h1.1v1.1h-1.1zM160.7 293.5h1.1v1.1h-1.1zM165.9 298.9h1.1v1.1h-1.1zM162.5 301.8h1.1v1.1h-1.1zM161.2 296.9h1.1v1.1h-1.1zM164.6 294.8h1.1v1.1h-1.1zM167 302.3h1.1v1.1h-1.1zM159.5 296.7h1.1v1.1h-1.1zM166.3 295.1h1.1v1.1h-1.1zM160.6 298.1h1.1v1.1h-1.1zM163.6 295h1.1v1.1h-1.1zM169.8 294.4h1.1v1.1h-1.1zM160.7 297.4h1.1v1.1h-1.1zM163.6 299h1.1v1.1h-1.1zM173.2 295.2h1.1v1.1h-1.1zM161 299.7h1.1v1.1h-1.1zM159.9 297.3h1.1v1.1h-1.1zM168 296.8h1.1v1.1h-1.1zM166.6 295.6h1.1v1.1h-1.1zM164.3 299.5h1.1v1.1h-1.1zM164.1 294.6h1.1v1.1h-1.1zM164.2 293h1.1v1.1h-1.1zM167.4 300.3h1.1v1.1h-1.1zM166.2 292h1.1v1.1h-1.1zM170.4 298.5h1.1v1.1h-1.1zM163.4 300.6h1.1v1.1h-1.1zM163.9 292.5h1.1v1.1h-1.1zM160.3 293.1h1.1v1.1h-1.1zM170.8 293.3h1.1v1.1h-1.1zM165 291.2h1.1v1.1h-1.1zM168.9 292.7h1.1v1.1h-1.1zM158.7 298.8h1.1v1.1h-1.1zM166.5 302.4h1.1v1.1h-1.1zM169.4 297.7h1.1v1.1h-1.1zM164.9 298h1.1v1.1h-1.1zM166.7 298.6h1.1v1.1h-1.1zM165.6 300.7h1.1v1.1h-1.1zM163.5 297.2h1.1v1.1h-1.1zM167.5 297.6h1.1v1.1h-1.1z" fill="#000" opacity="0.3"/>
<path d="M27.1 43.6h1.1v1.1h-1.1zM24 43.3h1.1v1.1h-1.1zM34.9 39.9h1.1v1.1h-1.1zM31.3 43.8h1.1v1.1h-1.1zM37.6 52.3h1.1v1.1h-1.1zM32 49.6h1.1v1.1h-1.1zM29.9 50.1h1.1v1.1h-1.1zM33.2 46h1.1v1.1h-1.1zM27.4 54.4h1.1v1.1h-1.1zM35.4 50.1h1.1v1.1h-1.1zM33.8 48.6h1.1v1.1h-1.1zM39.5 51.7h1.1v1.1h-1.1zM28.4 53h1.1v1.1h-1.1zM39.3 49.7h1.1v1.1h-1.1zM29 50h1.1v1.1h-1.1zM25.4 51.2h1.1v1.1h-1.1zM28.6 45.5h1.1v1.1h-1.1zM26.6 47.7h1.1v1.1h-1.1zM35.2 52.9h1.1v1.1h-1.1zM29.7 51.1h1.1v1.1h-1.1zM32.3 47.9h1.1v1.1h-1.1zM25.1 51.2h1.1v1.1h-1.1zM87.1 40.5h1.1v1.1h-1.1zM88.9 38.3h1.1v1.1h-1.1zM86.4 41.3h1.1v1.1h-1.1zM88.8 44.1h1.1v1.1h-1.1zM84 53.6h1.1v1.1h-1.1zM92.6 55.7h1.1v1.1h-1.1zM84.4 57.6h1.1v1.1h-1.1zM89.6 53.7h1.1v1.1h-1.1zM87.9 54.9h1.1v1.1h-1.1zM94.5 56.3h1.1v1.1h-1.1zM83.4 48.9h1.1v1.1h-1.1zM81.4 48.7h1.1v1.1h-1.1zM86.8 58.4h1.1v1.1h-1.1zM87.7 53.1h1.1v1.1h-1.1zM84.6 57.2h1.1v1.1h-1.1zM84.4 53.4h1.1v1.1h-1.1zM93.1 60.9h1.1v1.1h-1.1zM82.3 63.3h1.1v1.1h-1.1zM82.6 66h1.1v1.1h-1.1zM86 67.1h1.1v1.1h-1.1zM93 65.9h1.1v1.1h-1.1zM95.7 67.9h1.1v1.1h-1.1zM140.2 35.2h1.1v1.1h-1.1zM142.5 41h1.1v1.1h-1.1zM149.3 38.3h1.1v1.1h-1.1zM145 35.9h1.1v1.1h-1.1zM144.2 40.6h1.1v1.1h-1.1zM150.7 41.9h1.1v1.1h-1.1zM167.4 49.9h1.1v1.1h-1.1zM157.1 51.5h1.1v1.1h-1.1zM161.2 49.1h1.1v1.1h-1.1zM159.2 48.9h1.1v1.1h-1.1zM158 50.9h1.1v1.1h-1.1zM144.3 50.8h1.1v1.1h-1.1zM142.8 47.5h1.1v1.1h-1.1zM145.3 42h1.1v1.1h-1.1zM154.9 48.2h1.1v1.1h-1.1zM143.2 52.2h1.1v1.1h-1.1zM145.7 51.7h1.1v1.1h-1.1zM146.9 57.5h1.1v1.1h-1.1zM154 56.1h1.1v1.1h-1.1zM143.6 41.9h1.1v1.1h-1.1zM149.8 50.2h1.1v1.1h-1.1zM139.4 45.5h1.1v1.1h-1.1zM144.3 50.5h1.1v1.1h-1.1zM150.9 50.2h1.1v1.1h-1.1zM148.5 49.6h1.1v1.1h-1.1zM146.7 52.5h1.1v1.1h-1.1zM142 51.5h1.1v1.1h-1.1zM141.9 66.1h1.1v1.1h-1.1zM150.1 62.6h1.1v1.1h-1.1zM141.7 62.5h1.1v1.1h-1.1zM141.3 56.3h1.1v1.1h-1.1zM152.3 60.8h1.1v1.1h-1.1zM145.5 67.3h1.1v1.1h-1.1zM152.9 68h1.1v1.1h-1.1zM30.5 89.5h1.1v1.1h-1.1zM26.5 94.1h1.1v1.1h-1.1zM26 109.8h1.1v1.1h-1.1zM27.1 113.4h1.1v1.1h-1.1zM39.4 92.7h1.1v1.1h-1.1zM47.1 100h1.1v1.1h-1.1zM51.7 101.2h1.1v1.1h-1.1zM33.9 98h1.1v1.1h-1.1zM36.4 100.2h1.1v1.1h-1.1zM50.9 103h1.1v1.1h-1.1zM27.2 98.1h1.1v1.1h-1.1zM37.8 96.7h1.1v1.1h-1.1zM40.4 103h1.1v1.1h-1.1zM48.4 102h1.1v1.1h-1.1zM42.4 101.5h1.1v1.1h-1.1zM48.3 96.7h1.1v1.1h-1.1zM38.1 100.2h1.1v1.1h-1.1zM33 97.7h1.1v1.1h-1.1zM32.6 94.2h1.1v1.1h-1.1zM24.2 103.9h1.1v1.1h-1.1zM33.3 103.8h1.1v1.1h-1.1zM27.9 106.3h1.1v1.1h-1.1zM29.7 99.5h1.1v1.1h-1.1zM30.6 106.4h1.1v1.1h-1.1zM33.5 99.3h1.1v1.1h-1.1zM28.1 103.4h1.1v1.1h-1.1zM85.1 84.4h1.1v1.1h-1.1zM85.1 86h1.1v1.1h-1.1zM92.3 86.6h1.1v1.1h-1.1zM93.2 110.4h1.1v1.1h-1.1zM97.7 109.3h1.1v1.1h-1.1zM101.1 99.5h1.1v1.1h-1.1zM96.4 102.2h1.1v1.1h-1.1zM104 100.1h1.1v1.1h-1.1zM90.9 101h1.1v1.1h-1.1zM98.3 105.5h1.1v1.1h-1.1zM94.6 101.9h1.1v1.1h-1.1zM97.2 105.9h1.1v1.1h-1.1zM90.1 101.8h1.1v1.1h-1.1zM98.1 104.6h1.1v1.1h-1.1zM96.4 103.2h1.1v1.1h-1.1zM101.7 102.9h1.1v1.1h-1.1zM96.7 98.8h1.1v1.1h-1.1zM94.7 101.7h1.1v1.1h-1.1zM103.6 105.4h1.1v1.1h-1.1zM100.5 94.5h1.1v1.1h-1.1zM105.2 106.8h1.1v1.1h-1.1zM103.2 104.2h1.1v1.1h-1.1zM93.2 101.7h1.1v1.1h-1.1zM97.9 101.8h1.1v1.1h-1.1zM101.6 107.3h1.1v1.1h-1.1zM90.9 103.8h1.1v1.1h-1.1zM96.7 108.3h1.1v1.1h-1.1zM96.4 104h1.1v1.1h-1.1zM97.2 103.4h1.1v1.1h-1.1zM89.9 101.9h1.1v1.1h-1.1zM99.6 108.6h1.1v1.1h-1.1zM106.5 99.1h1.1v1.1h-1.1zM95.9 107.3h1.1v1.1h-1.1zM90.5 102.3h1.1v1.1h-1.1zM99.7 99.7h1.1v1.1h-1.1zM97.2 103.5h1.1v1.1h-1.1zM95.1 107.3h1.1v1.1h-1.1zM143.9 116.2h1.1v1.1h-1.1zM143 115.2h1.1v1.1h-1.1zM146.3 111.4h1.1v1.1h-1.1zM148.8 110.6h1.1v1.1h-1.1zM139 87.3h1.1v1.1h-1.1zM146.5 96.7h1.1v1.1h-1.1zM140.9 86.4h1.1v1.1h-1.1zM142.1 95.7h1.1v1.1h-1.1zM153.2 87.1h1.1v1.1h-1.1zM148.5 97.4h1.1v1.1h-1.1zM142.6 103.2h1.1v1.1h-1.1zM152.1 103.5h1.1v1.1h-1.1zM153.8 97.2h1.1v1.1h-1.1zM148.6 95.4h1.1v1.1h-1.1zM139.6 92.2h1.1v1.1h-1.1zM152.6 103.1h1.1v1.1h-1.1zM139.9 93.6h1.1v1.1h-1.1zM150.3 99.6h1.1v1.1h-1.1zM159.4 102.9h1.1v1.1h-1.1zM163 96.1h1.1v1.1h-1.1zM165.6 99.1h1.1v1.1h-1.1zM145.8 101.8h1.1v1.1h-1.1zM160.1 95h1.1v1.1h-1.1zM164.3 99.3h1.1v1.1h-1.1zM148.3 102.2h1.1v1.1h-1.1zM144.5 103.9h1.1v1.1h-1.1zM147 105.3h1.1v1.1h-1.1zM144.3 96.5h1.1v1.1h-1.1zM146.9 98.8h1.1v1.1h-1.1zM32.1 139.1h1.1v1.1h-1.1zM27.6 138h1.1v1.1h-1.1zM31.1 137.7h1.1v1.1h-1.1zM44.8 153.7h1.1v1.1h-1.1zM42.9 153.2h1.1v1.1h-1.1zM25.6 142.7h1.1v1.1h-1.1zM40.6 151.6h1.1v1.1h-1.1zM36.5 157.5h1.1v1.1h-1.1zM43 152.6h1.1v1.1h-1.1zM37.3 146.7h1.1v1.1h-1.1zM38.2 142.2h1.1v1.1h-1.1zM45.1 150.3h1.1v1.1h-1.1zM32.5 148.4h1.1v1.1h-1.1zM41.9 148.7h1.1v1.1h-1.1zM31.3 148.7h1.1v1.1h-1.1zM29.7 143.2h1.1v1.1h-1.1zM32.8 147.1h1.1v1.1h-1.1zM33.9 156.6h1.1v1.1h-1.1zM31.3 152.6h1.1v1.1h-1.1zM38.2 144.8h1.1v1.1h-1.1zM32.1 150.1h1.1v1.1h-1.1zM24.6 149.9h1.1v1.1h-1.1zM24.7 144.4h1.1v1.1h-1.1zM33.2 157.5h1.1v1.1h-1.1zM30.9 164.8h1.1v1.1h-1.1zM29.9 155.6h1.1v1.1h-1.1zM35.1 161.8h1.1v1.1h-1.1zM23.8 162.5h1.1v1.1h-1.1zM30.9 163.8h1.1v1.1h-1.1zM30 164.3h1.1v1.1h-1.1zM40.7 164.5h1.1v1.1h-1.1zM38.9 162.7h1.1v1.1h-1.1zM97.7 150.7h1.1v1.1h-1.1zM95.2 152.2h1.1v1.1h-1.1zM90.7 153h1.1v1.1h-1.1zM99.7 154.2h1.1v1.1h-1.1zM96.1 153.3h1.1v1.1h-1.1zM109.3 164.1h1.1v1.1h-1.1zM108.6 163.8h1.1v1.1h-1.1zM104.5 163.8h1.1v1.1h-1.1zM89.6 135.2h1.1v1.1h-1.1zM84.4 138.6h1.1v1.1h-1.1zM84.6 137.7h1.1v1.1h-1.1zM85 140.6h1.1v1.1h-1.1zM83.1 142.8h1.1v1.1h-1.1zM82.7 158.4h1.1v1.1h-1.1zM82 151h1.1v1.1h-1.1zM93.7 145.5h1.1v1.1h-1.1zM80.5 143.7h1.1v1.1h-1.1zM92.4 156.4h1.1v1.1h-1.1zM85.2 150.3h1.1v1.1h-1.1zM85.2 155h1.1v1.1h-1.1zM86.1 159.8h1.1v1.1h-1.1zM90.9 152.9h1.1v1.1h-1.1zM94.6 150.9h1.1v1.1h-1.1zM87.2 157.2h1.1v1.1h-1.1zM87.8 159h1.1v1.1h-1.1zM86 142.2h1.1v1.1h-1.1zM84.9 155.3h1.1v1.1h-1.1zM90.4 144.8h1.1v1.1h-1.1zM87.4 155.3h1.1v1.1h-1.1zM83.6 149.5h1.1v1.1h-1.1zM84.4 156.6h1.1v1.1h-1.1zM89.3 166.3h1.1v1.1h-1.1zM94.2 161.1h1.1v1.1h-1.1zM83.7 159.4h1.1v1.1h-1.1zM88.7 166.5h1.1v1.1h-1.1zM85.7 162.5h1.1v1.1h-1.1zM85.4 166.4h1.1v1.1h-1.1zM144.5 136.9h1.1v1.1h-1.1zM150.7 133.8h1.1v1.1h-1.1zM142.6 139.7h1.1v1.1h-1.1zM145.5 137.6h1.1v1.1h-1.1zM157.1 151.6h1.1v1.1h-1.1zM159.5 155.4h1.1v1.1h-1.1zM152.9 149.4h1.1v1.1h-1.1zM152.6 156.4h1.1v1.1h-1.1zM146.5 155.7h1.1v1.1h-1.1zM143.8 153.1h1.1v1.1h-1.1zM147.2 146.2h1.1v1.1h-1.1zM141.6 154.4h1.1v1.1h-1.1zM149.6 150.6h1.1v1.1h-1.1zM138.7 145.7h1.1v1.1h-1.1zM148.6 147.4h1.1v1.1h-1.1zM156.4 154.8h1.1v1.1h-1.1zM151 146.7h1.1v1.1h-1.1zM145 150h1.1v1.1h-1.1zM147.6 148.3h1.1v1.1h-1.1zM139 153.3h1.1v1.1h-1.1zM154.2 141.7h1.1v1.1h-1.1zM26 185h1.1v1.1h-1.1zM40.1 196.8h1.1v1.1h-1.1zM47.9 198.5h1.1v1.1h-1.1zM50.1 201h1.1v1.1h-1.1zM42.4 201.2h1.1v1.1h-1.1zM40.1 202.5h1.1v1.1h-1.1zM46.5 199.8h1.1v1.1h-1.1zM31.6 204.3h1.1v1.1h-1.1zM39.1 198.9h1.1v1.1h-1.1zM24.5 203.6h1.1v1.1h-1.1zM29.7 191.7h1.1v1.1h-1.1zM28.4 198.4h1.1v1.1h-1.1zM42.9 196.8h1.1v1.1h-1.1zM41.2 201.2h1.1v1.1h-1.1zM32.8 192.3h1.1v1.1h-1.1zM28.9 201.5h1.1v1.1h-1.1zM27 200.6h1.1v1.1h-1.1zM33.3 197.4h1.1v1.1h-1.1zM27 196.8h1.1v1.1h-1.1zM26 198.3h1.1v1.1h-1.1zM28.3 203h1.1v1.1h-1.1zM28.4 198.5h1.1v1.1h-1.1zM39.7 198.6h1.1v1.1h-1.1zM30.1 203.2h1.1v1.1h-1.1zM37.4 199.9h1.1v1.1h-1.1zM26.7 196.3h1.1v1.1h-1.1zM38.1 196.5h1.1v1.1h-1.1zM31.2 199.6h1.1v1.1h-1.1zM31 212h1.1v1.1h-1.1zM25.6 215.8h1.1v1.1h-1.1zM25.3 209.7h1.1v1.1h-1.1zM31.5 216.8h1.1v1.1h-1.1zM28 214h1.1v1.1h-1.1zM28.9 214.1h1.1v1.1h-1.1zM31.9 216.9h1.1v1.1h-1.1zM83.7 186.5h1.1v1.1h-1.1zM85.8 196.2h1.1v1.1h-1.1zM80.8 208.5h1.1v1.1h-1.1zM91.2 197.9h1.1v1.1h-1.1zM89.4 206.4h1.1v1.1h-1.1zM84.5 199h1.1v1.1h-1.1zM86.9 197.4h1.1v1.1h-1.1zM81.7 208.6h1.1v1.1h-1.1zM86.4 196.7h1.1v1.1h-1.1zM80.4 206.8h1.1v1.1h-1.1zM86.6 193h1.1v1.1h-1.1zM85.7 191.5h1.1v1.1h-1.1zM81.5 198.6h1.1v1.1h-1.1zM81 198.2h1.1v1.1h-1.1zM85.6 200.8h1.1v1.1h-1.1zM81.8 194.4h1.1v1.1h-1.1zM88.3 200.4h1.1v1.1h-1.1zM86.7 199.2h1.1v1.1h-1.1zM85 197.3h1.1v1.1h-1.1zM147.5 190.3h1.1v1.1h-1.1zM147.1 186.6h1.1v1.1h-1.1zM146.5 191.7h1.1v1.1h-1.1zM146.5 191.5h1.1v1.1h-1.1zM142.6 183.9h1.1v1.1h-1.1zM153 198.4h1.1v1.1h-1.1zM148 200.5h1.1v1.1h-1.1zM138.2 197.1h1.1v1.1h-1.1zM148.3 193.7h1.1v1.1h-1.1zM139.8 195.3h1.1v1.1h-1.1zM148.8 191h1.1v1.1h-1.1zM141 205.9h1.1v1.1h-1.1zM149.3 206.2h1.1v1.1h-1.1zM149.7 198h1.1v1.1h-1.1zM142.1 203.7h1.1v1.1h-1.1zM147.8 200.6h1.1v1.1h-1.1zM143.5 202.2h1.1v1.1h-1.1zM144.4 198.3h1.1v1.1h-1.1zM141.2 202.3h1.1v1.1h-1.1zM148 197.2h1.1v1.1h-1.1zM139.8 201.6h1.1v1.1h-1.1zM163 200.1h1.1v1.1h-1.1zM157.7 193.7h1.1v1.1h-1.1zM165.5 199.9h1.1v1.1h-1.1zM144.2 207.7h1.1v1.1h-1.1zM143.7 210.8h1.1v1.1h-1.1zM144 211h1.1v1.1h-1.1zM143.7 212.5h1.1v1.1h-1.1zM153.6 216h1.1v1.1h-1.1zM151.7 213.8h1.1v1.1h-1.1zM153.8 209.9h1.1v1.1h-1.1zM33.7 245.8h1.1v1.1h-1.1zM32.3 250.2h1.1v1.1h-1.1zM36.4 259.6h1.1v1.1h-1.1zM39.5 263.2h1.1v1.1h-1.1zM29.8 245.1h1.1v1.1h-1.1zM31 244.4h1.1v1.1h-1.1zM39.5 253.1h1.1v1.1h-1.1zM33.6 262.6h1.1v1.1h-1.1zM32.8 248.3h1.1v1.1h-1.1zM88.4 250.1h1.1v1.1h-1.1zM89.9 250.1h1.1v1.1h-1.1zM92.5 262.4h1.1v1.1h-1.1zM86.4 252h1.1v1.1h-1.1zM96.3 257.5h1.1v1.1h-1.1zM87 255.8h1.1v1.1h-1.1zM83.6 258.6h1.1v1.1h-1.1zM89.3 247.9h1.1v1.1h-1.1zM99.4 258.1h1.1v1.1h-1.1zM91.5 254.4h1.1v1.1h-1.1zM86.1 254.5h1.1v1.1h-1.1zM144 262.2h1.1v1.1h-1.1zM147.3 258.7h1.1v1.1h-1.1zM140.3 260.3h1.1v1.1h-1.1zM140.6 261.8h1.1v1.1h-1.1zM149.2 263.5h1.1v1.1h-1.1zM146.1 260.2h1.1v1.1h-1.1zM144.4 262.2h1.1v1.1h-1.1zM146.1 261.5h1.1v1.1h-1.1zM146.9 263.4h1.1v1.1h-1.1zM145.1 260.2h1.1v1.1h-1.1zM145.1 262h1.1v1.1h-1.1zM149.9 262h1.1v1.1h-1.1zM147.4 245h1.1v1.1h-1.1zM153.5 260.7h1.1v1.1h-1.1zM154.3 254.1h1.1v1.1h-1.1zM154.7 260.3h1.1v1.1h-1.1zM152.2 254.2h1.1v1.1h-1.1zM155.2 254.4h1.1v1.1h-1.1zM154.2 253.1h1.1v1.1h-1.1zM148.4 250.8h1.1v1.1h-1.1zM43.8 300.1h1.1v1.1h-1.1zM38.8 301.7h1.1v1.1h-1.1zM44.3 301.3h1.1v1.1h-1.1zM48.4 299.2h1.1v1.1h-1.1zM45.6 298.1h1.1v1.1h-1.1zM45.8 298.1h1.1v1.1h-1.1zM50.7 299.2h1.1v1.1h-1.1zM42.3 303h1.1v1.1h-1.1zM58.1 298.7h1.1v1.1h-1.1zM54 299.8h1.1v1.1h-1.1zM49.4 305h1.1v1.1h-1.1zM49.6 291h1.1v1.1h-1.1zM46.8 297.8h1.1v1.1h-1.1zM57.9 299h1.1v1.1h-1.1zM54.2 291.3h1.1v1.1h-1.1zM57.3 292.7h1.1v1.1h-1.1zM57.9 297.8h1.1v1.1h-1.1zM53 288.2h1.1v1.1h-1.1zM53.2 292.6h1.1v1.1h-1.1zM57.1 297.7h1.1v1.1h-1.1zM49.2 297.6h1.1v1.1h-1.1zM54.4 295.3h1.1v1.1h-1.1zM58.5 294.7h1.1v1.1h-1.1zM98 299.6h1.1v1.1h-1.1zM95.9 303.3h1.1v1.1h-1.1zM95.6 302.9h1.1v1.1h-1.1zM95.8 302.8h1.1v1.1h-1.1zM89.1 299.7h1.1v1.1h-1.1zM94.3 300.8h1.1v1.1h-1.1zM93.9 304.2h1.1v1.1h-1.1zM98.6 301.1h1.1v1.1h-1.1zM100.2 297h1.1v1.1h-1.1zM105 294.6h1.1v1.1h-1.1zM99.8 299.5h1.1v1.1h-1.1zM99.5 299.1h1.1v1.1h-1.1zM111.7 304.5h1.1v1.1h-1.1zM114.2 292.4h1.1v1.1h-1.1zM104.3 302.2h1.1v1.1h-1.1zM105.2 299.6h1.1v1.1h-1.1zM107.9 298.4h1.1v1.1h-1.1zM105 301.6h1.1v1.1h-1.1zM102.7 296.9h1.1v1.1h-1.1zM110.7 298.7h1.1v1.1h-1.1zM155.1 297.1h1.1v1.1h-1.1zM154.8 303.5h1.1v1.1h-1.1zM149.8 301.8h1.1v1.1h-1.1zM151 299.9h1.1v1.1h-1.1zM155.3 300.9h1.1v1.1h-1.1zM151.2 301.1h1.1v1.1h-1.1zM148.4 300.1h1.1v1.1h-1.1zM155.4 301.9h1.1v1.1h-1.1zM148.9 303.7h1.1v1.1h-1.1zM159.5 295.5h1.1v1.1h-1.1zM163 296.5h1.1v1.1h-1.1zM161.3 295.9h1.1v1.1h-1.1zM154.1 297.9h1.1v1.1h-1.1zM158.7 299.5h1.1v1.1h-1.1zM163 295.6h1.1v1.1h-1.1zM160.7 298.6h1.1v1.1h-1.1zM162.7 298h1.1v1.1h-1.1zM163.3 301.2h1.1v1.1h-1.1zM164.8 300.5h1.1v1.1h-1.1zM165.3 298.4h1.1v1.1h-1.1zM164.5 295.1h1.1v1.1h-1.1zM157.3 297.1h1.1v1.1h-1.1zM163.7 294h1.1v1.1h-1.1zM166.3 294.2h1.1v1.1h-1.1zM166.3 299.1h1.1v1.1h-1.1z" fill="#000" opacity="0.35"/>
<path d="M28.8 49h1.1v1.1h-1.1zM30.6 48.1h1.1v1.1h-1.1zM31.9 49.9h1.1v1.1h-1.1zM29.9 49.2h1.1v1.1h-1.1zM28 51.3h1.1v1.1h-1.1zM27.7 50.6h1.1v1.1h-1.1zM32.8 52h1.1v1.1h-1.1zM36.2 49.5h1.1v1.1h-1.1zM29.3 50.7h1.1v1.1h-1.1zM30.9 50.1h1.1v1.1h-1.1zM33.1 48.1h1.1v1.1h-1.1zM30.8 50.7h1.1v1.1h-1.1zM24.9 50.9h1.1v1.1h-1.1zM24.5 49.3h1.1v1.1h-1.1zM24.6 51.5h1.1v1.1h-1.1zM24.5 47.4h1.1v1.1h-1.1zM28.3 49h1.1v1.1h-1.1zM28.7 54.5h1.1v1.1h-1.1zM27.4 52.6h1.1v1.1h-1.1zM27.3 48.2h1.1v1.1h-1.1zM33.6 47.4h1.1v1.1h-1.1zM35.5 50.8h1.1v1.1h-1.1zM35.9 52.9h1.1v1.1h-1.1zM25.8 51.3h1.1v1.1h-1.1zM31.7 52h1.1v1.1h-1.1zM33.8 49.2h1.1v1.1h-1.1zM28.7 50.8h1.1v1.1h-1.1zM32.9 51.6h1.1v1.1h-1.1zM29.3 49.5h1.1v1.1h-1.1zM30 50h1.1v1.1h-1.1zM34.2 53.9h1.1v1.1h-1.1zM29.1 50.2h1.1v1.1h-1.1zM25.8 51.3h1.1v1.1h-1.1zM29.7 49.4h1.1v1.1h-1.1zM30.9 46.2h1.1v1.1h-1.1zM27.3 45.3h1.1v1.1h-1.1zM32.1 50.2h1.1v1.1h-1.1zM29.5 50.6h1.1v1.1h-1.1zM25.8 49.8h1.1v1.1h-1.1zM29.9 49.5h1.1v1.1h-1.1zM27.6 49.5h1.1v1.1h-1.1zM28.8 46.7h1.1v1.1h-1.1zM30.6 50.9h1.1v1.1h-1.1zM31.5 52.2h1.1v1.1h-1.1zM36.4 52.2h1.1v1.1h-1.1zM23.3 50.7h1.1v1.1h-1.1zM29.1 54.2h1.1v1.1h-1.1zM25.2 59.5h1.1v1.1h-1.1zM30.2 63.5h1.1v1.1h-1.1zM29.8 64.1h1.1v1.1h-1.1zM28.6 65.3h1.1v1.1h-1.1zM30.2 58.9h1.1v1.1h-1.1zM29.8 63.9h1.1v1.1h-1.1zM24.9 60.9h1.1v1.1h-1.1zM30.4 65.3h1.1v1.1h-1.1zM31.3 59.5h1.1v1.1h-1.1zM25.3 60.5h1.1v1.1h-1.1zM29.1 63.6h1.1v1.1h-1.1zM24.7 65h1.1v1.1h-1.1zM30 64.3h1.1v1.1h-1.1zM31.2 59h1.1v1.1h-1.1zM26 60.3h1.1v1.1h-1.1zM26.1 63.7h1.1v1.1h-1.1zM24.9 63.3h1.1v1.1h-1.1zM33 65.3h1.1v1.1h-1.1zM27.9 66.1h1.1v1.1h-1.1zM29.2 61h1.1v1.1h-1.1zM27.5 57.8h1.1v1.1h-1.1zM24.1 63.6h1.1v1.1h-1.1zM24.4 65.2h1.1v1.1h-1.1zM90.4 56.9h1.1v1.1h-1.1zM92 50.9h1.1v1.1h-1.1zM81.9 52.6h1.1v1.1h-1.1zM88.7 53.1h1.1v1.1h-1.1zM82.8 52.6h1.1v1.1h-1.1zM87.6 54.8h1.1v1.1h-1.1zM82.4 50.5h1.1v1.1h-1.1zM87 54.5h1.1v1.1h-1.1zM86.7 54.3h1.1v1.1h-1.1zM90.5 54h1.1v1.1h-1.1zM88.5 57.7h1.1v1.1h-1.1zM83.5 50.9h1.1v1.1h-1.1zM86.1 51.3h1.1v1.1h-1.1zM90.4 49h1.1v1.1h-1.1zM86.3 51.5h1.1v1.1h-1.1zM86.2 52.8h1.1v1.1h-1.1zM82.7 54.5h1.1v1.1h-1.1zM86.6 57h1.1v1.1h-1.1zM86.3 54.8h1.1v1.1h-1.1zM87.3 51.1h1.1v1.1h-1.1zM85.8 53.7h1.1v1.1h-1.1zM85.1 58.5h1.1v1.1h-1.1zM89.3 51.4h1.1v1.1h-1.1zM87.9 55.4h1.1v1.1h-1.1zM86.7 54.6h1.1v1.1h-1.1zM87.4 56.9h1.1v1.1h-1.1zM81.3 56h1.1v1.1h-1.1zM91.5 51h1.1v1.1h-1.1zM83.1 57.4h1.1v1.1h-1.1zM93.5 53.3h1.1v1.1h-1.1zM86.2 54h1.1v1.1h-1.1zM81.4 52.2h1.1v1.1h-1.1zM90.1 58.3h1.1v1.1h-1.1zM82.9 54.9h1.1v1.1h-1.1zM88.9 55.3h1.1v1.1h-1.1zM84.6 54.8h1.1v1.1h-1.1zM92.6 55.8h1.1v1.1h-1.1zM84.3 55.4h1.1v1.1h-1.1zM85.8 51.6h1.1v1.1h-1.1zM84.7 52.1h1.1v1.1h-1.1zM85 52h1.1v1.1h-1.1zM90.4 53.6h1.1v1.1h-1.1zM85.4 55.1h1.1v1.1h-1.1zM84.4 52.9h1.1v1.1h-1.1zM84.5 55.7h1.1v1.1h-1.1zM92.1 53.1h1.1v1.1h-1.1zM88.3 55.4h1.1v1.1h-1.1zM87.6 54.9h1.1v1.1h-1.1zM88 63.3h1.1v1.1h-1.1zM87.3 65.6h1.1v1.1h-1.1zM87.9 64.3h1.1v1.1h-1.1zM88.4 64.2h1.1v1.1h-1.1zM85.2 65h1.1v1.1h-1.1zM85.7 63.1h1.1v1.1h-1.1zM86.2 64.6h1.1v1.1h-1.1zM82.7 66h1.1v1.1h-1.1zM81.9 63.4h1.1v1.1h-1.1zM91.4 61.5h1.1v1.1h-1.1zM91.5 67.5h1.1v1.1h-1.1zM85.8 66.8h1.1v1.1h-1.1zM87.4 62.6h1.1v1.1h-1.1zM94.2 62.7h1.1v1.1h-1.1zM87.5 66.7h1.1v1.1h-1.1zM87.4 64.1h1.1v1.1h-1.1zM94.8 62.7h1.1v1.1h-1.1zM88.5 63.8h1.1v1.1h-1.1zM85.1 65.4h1.1v1.1h-1.1zM88.5 63.3h1.1v1.1h-1.1zM83.6 66.8h1.1v1.1h-1.1zM141.8 52.8h1.1v1.1h-1.1zM146.7 49.4h1.1v1.1h-1.1zM142 45h1.1v1.1h-1.1zM144.9 44.7h1.1v1.1h-1.1zM144.1 47.4h1.1v1.1h-1.1zM147.6 54.8h1.1v1.1h-1.1zM140 49.7h1.1v1.1h-1.1zM140.4 48.9h1.1v1.1h-1.1zM142.4 48h1.1v1.1h-1.1zM143.3 53.5h1.1v1.1h-1.1zM138.3 52.4h1.1v1.1h-1.1zM142.1 45.2h1.1v1.1h-1.1zM146.1 53.5h1.1v1.1h-1.1zM146.9 48.2h1.1v1.1h-1.1zM144.9 52.6h1.1v1.1h-1.1zM142.8 56.1h1.1v1.1h-1.1zM143.5 56h1.1v1.1h-1.1zM150.4 52.7h1.1v1.1h-1.1zM150.5 53.1h1.1v1.1h-1.1zM147 56.2h1.1v1.1h-1.1zM147.5 51.6h1.1v1.1h-1.1zM138.5 52.6h1.1v1.1h-1.1zM150.6 48.8h1.1v1.1h-1.1zM139.4 45.5h1.1v1.1h-1.1zM143 58.2h1.1v1.1h-1.1zM142.1 52.4h1.1v1.1h-1.1zM148.5 52.4h1.1v1.1h-1.1zM141 51.6h1.1v1.1h-1.1zM141.1 54h1.1v1.1h-1.1zM145.5 51.7h1.1v1.1h-1.1zM143.4 55.1h1.1v1.1h-1.1zM139.9 51.7h1.1v1.1h-1.1zM142.4 44.2h1.1v1.1h-1.1zM145 52.3h1.1v1.1h-1.1zM147.1 57.4h1.1v1.1h-1.1zM143.8 58.1h1.1v1.1h-1.1zM149.6 54.9h1.1v1.1h-1.1zM143.7 49.4h1.1v1.1h-1.1zM144.7 45.5h1.1v1.1h-1.1zM145.7 45h1.1v1.1h-1.1zM146.2 47.2h1.1v1.1h-1.1zM141 52.2h1.1v1.1h-1.1zM143.4 49.7h1.1v1.1h-1.1zM142.8 55.5h1.1v1.1h-1.1zM139.4 51.9h1.1v1.1h-1.1zM139.5 46.5h1.1v1.1h-1.1zM139.7 53.3h1.1v1.1h-1.1zM145.3 49.4h1.1v1.1h-1.1zM151 54.6h1.1v1.1h-1.1zM144.3 51.3h1.1v1.1h-1.1zM139.6 52.2h1.1v1.1h-1.1zM147.3 47.8h1.1v1.1h-1.1zM149.9 49.6h1.1v1.1h-1.1zM143.2 46.1h1.1v1.1h-1.1zM141.6 56.2h1.1v1.1h-1.1zM143.1 51.4h1.1v1.1h-1.1zM138.2 52.8h1.1v1.1h-1.1zM139.7 50.6h1.1v1.1h-1.1zM141.8 52.2h1.1v1.1h-1.1zM145.6 47.7h1.1v1.1h-1.1zM145.3 45.3h1.1v1.1h-1.1zM143.9 49.5h1.1v1.1h-1.1zM148.4 54.2h1.1v1.1h-1.1zM144 46.1h1.1v1.1h-1.1zM150.8 46.6h1.1v1.1h-1.1zM140.2 54.7h1.1v1.1h-1.1zM145.3 45.9h1.1v1.1h-1.1zM145.6 47.1h1.1v1.1h-1.1zM142.9 45.7h1.1v1.1h-1.1zM139.6 44.4h1.1v1.1h-1.1zM146.6 51.7h1.1v1.1h-1.1zM147 48.7h1.1v1.1h-1.1zM141.9 47.1h1.1v1.1h-1.1zM142 51.7h1.1v1.1h-1.1zM149.9 52.1h1.1v1.1h-1.1zM145 49.6h1.1v1.1h-1.1zM142.9 56.9h1.1v1.1h-1.1zM147.1 48.1h1.1v1.1h-1.1zM145.3 52.3h1.1v1.1h-1.1zM143.8 54.5h1.1v1.1h-1.1zM138.9 54h1.1v1.1h-1.1zM147.1 45.1h1.1v1.1h-1.1zM148.4 65.5h1.1v1.1h-1.1zM148.3 64h1.1v1.1h-1.1zM145.3 65.6h1.1v1.1h-1.1zM140.3 63.3h1.1v1.1h-1.1zM146.9 65.4h1.1v1.1h-1.1zM144.9 61.2h1.1v1.1h-1.1zM138.2 63.5h1.1v1.1h-1.1zM143.6 62.8h1.1v1.1h-1.1zM146.5 68h1.1v1.1h-1.1zM147.4 63.4h1.1v1.1h-1.1zM146.3 62.9h1.1v1.1h-1.1zM147.8 62.5h1.1v1.1h-1.1zM145.6 67.6h1.1v1.1h-1.1zM146.2 63.5h1.1v1.1h-1.1zM144.5 68.3h1.1v1.1h-1.1zM147.7 67.7h1.1v1.1h-1.1zM139 65.6h1.1v1.1h-1.1zM138.2 65.4h1.1v1.1h-1.1zM147 62.7h1.1v1.1h-1.1zM142.3 65.3h1.1v1.1h-1.1zM142 66.7h1.1v1.1h-1.1zM141.6 67.7h1.1v1.1h-1.1zM141.2 62.4h1.1v1.1h-1.1zM139.8 64.8h1.1v1.1h-1.1zM147.4 66.2h1.1v1.1h-1.1zM145.6 66.6h1.1v1.1h-1.1zM38.5 100.4h1.1v1.1h-1.1zM38.6 102.8h1.1v1.1h-1.1zM44.6 100h1.1v1.1h-1.1zM43.4 97.3h1.1v1.1h-1.1zM44.2 100.6h1.1v1.1h-1.1zM38.1 98.2h1.1v1.1h-1.1zM38.6 98.1h1.1v1.1h-1.1zM39.6 97.9h1.1v1.1h-1.1zM35.3 100.9h1.1v1.1h-1.1zM36.2 100.7h1.1v1.1h-1.1zM43.3 96.3h1.1v1.1h-1.1zM39.2 105.3h1.1v1.1h-1.1zM39.1 104.2h1.1v1.1h-1.1zM34.2 96.5h1.1v1.1h-1.1zM29.7 102.6h1.1v1.1h-1.1zM41.1 95.1h1.1v1.1h-1.1zM29.6 99.3h1.1v1.1h-1.1zM40.7 96.9h1.1v1.1h-1.1zM34.7 96.7h1.1v1.1h-1.1zM28.6 98.7h1.1v1.1h-1.1zM40.2 102.2h1.1v1.1h-1.1zM33.9 101.4h1.1v1.1h-1.1zM43.1 98.2h1.1v1.1h-1.1zM38.1 103.1h1.1v1.1h-1.1zM42.7 102.4h1.1v1.1h-1.1zM35.6 101.3h1.1v1.1h-1.1zM32.9 105h1.1v1.1h-1.1zM41.5 97.9h1.1v1.1h-1.1zM31.4 97.4h1.1v1.1h-1.1zM36.6 99.3h1.1v1.1h-1.1zM47.4 100.4h1.1v1.1h-1.1zM36.8 97.7h1.1v1.1h-1.1zM37.8 99.9h1.1v1.1h-1.1zM30.7 104.4h1.1v1.1h-1.1zM44.1 101.4h1.1v1.1h-1.1zM46.1 98.4h1.1v1.1h-1.1zM41.1 97.7h1.1v1.1h-1.1zM41 95.5h1.1v1.1h-1.1zM40 99.6h1.1v1.1h-1.1zM42.7 100.3h1.1v1.1h-1.1zM37.6 104.1h1.1v1.1h-1.1zM43.5 101.9h1.1v1.1h-1.1zM32.2 102.4h1.1v1.1h-1.1zM33.1 96.1h1.1v1.1h-1.1zM38.5 98.2h1.1v1.1h-1.1zM44.2 100h1.1v1.1h-1.1zM34.8 96.3h1.1v1.1h-1.1zM36.7 97.4h1.1v1.1h-1.1zM29.3 100.2h1.1v1.1h-1.1zM41.9 96.6h1.1v1.1h-1.1zM33.9 97.3h1.1v1.1h-1.1zM33.3 97.8h1.1v1.1h-1.1zM31.1 100.5h1.1v1.1h-1.1zM31.4 100h1.1v1.1h-1.1zM38.4 100.5h1.1v1.1h-1.1zM32.8 99.1h1.1v1.1h-1.1zM35.4 99h1.1v1.1h-1.1zM35.8 104.5h1.1v1.1h-1.1zM29.5 100.7h1.1v1.1h-1.1zM43 99.7h1.1v1.1h-1.1zM34.5 100.4h1.1v1.1h-1.1zM36.1 100.5h1.1v1.1h-1.1zM29.4 99.9h1.1v1.1h-1.1zM38.1 100.7h1.1v1.1h-1.1zM31.9 98.5h1.1v1.1h-1.1zM37.8 99.2h1.1v1.1h-1.1zM32.5 102.5h1.1v1.1h-1.1zM33.9 105h1.1v1.1h-1.1zM42 96.8h1.1v1.1h-1.1zM38.7 100.3h1.1v1.1h-1.1zM46.3 100.7h1.1v1.1h-1.1zM36.7 101.2h1.1v1.1h-1.1zM34.4 96.4h1.1v1.1h-1.1zM31.7 100.4h1.1v1.1h-1.1zM34.3 100.4h1.1v1.1h-1.1zM34.1 99h1.1v1.1h-1.1zM33 96.5h1.1v1.1h-1.1zM35.1 104h1.1v1.1h-1.1zM36.8 102.5h1.1v1.1h-1.1zM33.1 99.5h1.1v1.1h-1.1zM36.5 100.9h1.1v1.1h-1.1zM32.9 100.4h1.1v1.1h-1.1zM31.5 100.2h1.1v1.1h-1.1zM32.8 96.2h1.1v1.1h-1.1zM32.7 100.6h1.1v1.1h-1.1zM32.3 100.6h1.1v1.1h-1.1zM29.6 102.9h1.1v1.1h-1.1zM26.8 98.7h1.1v1.1h-1.1zM32.4 104.1h1.1v1.1h-1.1zM28.7 98h1.1v1.1h-1.1zM31.8 95.5h1.1v1.1h-1.1zM33.3 101.4h1.1v1.1h-1.1zM32.4 99.5h1.1v1.1h-1.1zM34.4 99.1h1.1v1.1h-1.1zM37.6 101h1.1v1.1h-1.1zM32.9 101.1h1.1v1.1h-1.1zM40.6 110.3h1.1v1.1h-1.1zM53 115.5h1.1v1.1h-1.1zM42.9 113.1h1.1v1.1h-1.1zM47.5 113.5h1.1v1.1h-1.1zM37.5 116.9h1.1v1.1h-1.1zM41.1 115.7h1.1v1.1h-1.1zM49.7 114.2h1.1v1.1h-1.1zM47.8 110.7h1.1v1.1h-1.1zM44.7 117.1h1.1v1.1h-1.1zM53.1 113.5h1.1v1.1h-1.1zM41.5 113.8h1.1v1.1h-1.1zM43 117.8h1.1v1.1h-1.1zM51.6 116.5h1.1v1.1h-1.1zM55.5 115.1h1.1v1.1h-1.1zM52.1 113.3h1.1v1.1h-1.1zM41.7 115.2h1.1v1.1h-1.1zM50.2 116.3h1.1v1.1h-1.1zM47.9 116.8h1.1v1.1h-1.1zM48.1 113.9h1.1v1.1h-1.1zM98 98.1h1.1v1.1h-1.1zM101.6 101.9h1.1v1.1h-1.1zM101.2 103.2h1.1v1.1h-1.1zM98.6 104.1h1.1v1.1h-1.1zM101.9 100.5h1.1v1.1h-1.1zM99.8 104.5h1.1v1.1h-1.1zM99.9 102.6h1.1v1.1h-1.1zM100.6 102.2h1.1v1.1h-1.1zM103.1 100.2h1.1v1.1h-1.1zM98.7 101.3h1.1v1.1h-1.1zM97.4 98.9h1.1v1.1h-1.1zM96.7 99.2h1.1v1.1h-1.1zM95.2 101h1.1v1.1h-1.1zM96.5 98.6h1.1v1.1h-1.1zM93.4 100.8h1.1v1.1h-1.1zM100.3 106.9h1.1v1.1h-1.1zM103.2 98.5h1.1v1.1h-1.1zM98.9 104.4h1.1v1.1h-1.1zM104.2 104.8h1.1v1.1h-1.1zM97.8 99.6h1.1v1.1h-1.1zM97.1 104.5h1.1v1.1h-1.1zM97.5 102.4h1.1v1.1h-1.1zM99.7 98.9h1.1v1.1h-1.1zM99.4 99.2h1.1v1.1h-1.1zM94.8 101.2h1.1v1.1h-1.1zM97.7 108.5h1.1v1.1h-1.1zM94.8 103.5h1.1v1.1h-1.1zM99.5 102.7h1.1v1.1h-1.1zM101.3 100.6h1.1v1.1h-1.1zM99.8 105h1.1v1.1h-1.1zM97.6 106h1.1v1.1h-1.1zM101 108.2h1.1v1.1h-1.1zM97.3 102.6h1.1v1.1h-1.1zM97.7 101.5h1.1v1.1h-1.1zM105.1 102.9h1.1v1.1h-1.1zM100.7 106.9h1.1v1.1h-1.1zM99 103.6h1.1v1.1h-1.1zM100.8 105.2h1.1v1.1h-1.1zM99.1 108.3h1.1v1.1h-1.1zM102.2 104.6h1.1v1.1h-1.1zM100.6 104.2h1.1v1.1h-1.1zM101.6 106.1h1.1v1.1h-1.1zM97.7 103.4h1.1v1.1h-1.1zM98.1 99.4h1.1v1.1h-1.1zM98.4 106h1.1v1.1h-1.1zM97.1 105.3h1.1v1.1h-1.1zM95.2 105.3h1.1v1.1h-1.1zM99.7 103.2h1.1v1.1h-1.1zM103.3 100.6h1.1v1.1h-1.1zM100 103.5h1.1v1.1h-1.1zM103.8 102.4h1.1v1.1h-1.1zM100.7 101.3h1.1v1.1h-1.1zM102.3 105.4h1.1v1.1h-1.1zM97.2 107.4h1.1v1.1h-1.1zM100.2 101.2h1.1v1.1h-1.1zM99.3 104.3h1.1v1.1h-1.1zM100 97.8h1.1v1.1h-1.1zM101.3 98.4h1.1v1.1h-1.1zM102.1 104.9h1.1v1.1h-1.1zM102.2 100.7h1.1v1.1h-1.1zM102.5 98.9h1.1v1.1h-1.1zM96.7 102.6h1.1v1.1h-1.1zM99.1 104.5h1.1v1.1h-1.1zM98.5 102.6h1.1v1.1h-1.1zM99.2 99.4h1.1v1.1h-1.1zM97.2 105h1.1v1.1h-1.1zM99.5 103.6h1.1v1.1h-1.1zM98.4 101.9h1.1v1.1h-1.1zM90.4 104h1.1v1.1h-1.1zM87.6 106.4h1.1v1.1h-1.1zM90.5 110.8h1.1v1.1h-1.1zM94.6 107.3h1.1v1.1h-1.1zM91.1 107.1h1.1v1.1h-1.1zM99.8 101.6h1.1v1.1h-1.1zM91.4 105.2h1.1v1.1h-1.1zM87 104.3h1.1v1.1h-1.1zM85.7 101.2h1.1v1.1h-1.1zM93.7 100.5h1.1v1.1h-1.1zM89.1 103h1.1v1.1h-1.1zM98 102.3h1.1v1.1h-1.1zM84.3 104.5h1.1v1.1h-1.1zM96.5 107.3h1.1v1.1h-1.1zM84.1 100.8h1.1v1.1h-1.1zM89.4 104.9h1.1v1.1h-1.1zM87.9 102.8h1.1v1.1h-1.1zM88.7 104.7h1.1v1.1h-1.1zM96.1 100.9h1.1v1.1h-1.1zM86.1 107.3h1.1v1.1h-1.1zM82 106.6h1.1v1.1h-1.1zM87.6 109.2h1.1v1.1h-1.1zM91.3 108.1h1.1v1.1h-1.1zM90.2 99.6h1.1v1.1h-1.1zM94.4 101.5h1.1v1.1h-1.1zM85 101h1.1v1.1h-1.1zM84.6 106h1.1v1.1h-1.1zM91 99.8h1.1v1.1h-1.1zM87.6 102.7h1.1v1.1h-1.1zM83.2 106.3h1.1v1.1h-1.1zM100 102.8h1.1v1.1h-1.1zM90.3 104.3h1.1v1.1h-1.1zM88.7 102.5h1.1v1.1h-1.1zM95.3 106h1.1v1.1h-1.1zM90.6 103.9h1.1v1.1h-1.1zM103.2 104.6h1.1v1.1h-1.1zM93.2 110.8h1.1v1.1h-1.1zM97.4 98.3h1.1v1.1h-1.1zM87.7 102.9h1.1v1.1h-1.1zM82.1 100.2h1.1v1.1h-1.1zM82.9 104.3h1.1v1.1h-1.1zM91.1 109.8h1.1v1.1h-1.1zM91.6 109.8h1.1v1.1h-1.1zM89.1 103h1.1v1.1h-1.1zM85.6 104.7h1.1v1.1h-1.1zM83 99.5h1.1v1.1h-1.1zM94.9 98.1h1.1v1.1h-1.1zM92 102.4h1.1v1.1h-1.1zM90.4 108h1.1v1.1h-1.1zM91.1 103.8h1.1v1.1h-1.1zM88.7 99h1.1v1.1h-1.1zM88.5 104h1.1v1.1h-1.1zM96.4 108.2h1.1v1.1h-1.1zM96.4 98.2h1.1v1.1h-1.1zM81.6 102.9h1.1v1.1h-1.1zM90 104.1h1.1v1.1h-1.1zM91.2 102.5h1.1v1.1h-1.1zM91.1 101.2h1.1v1.1h-1.1zM93.7 106.3h1.1v1.1h-1.1zM90.3 104.3h1.1v1.1h-1.1zM99.7 102.4h1.1v1.1h-1.1zM99.1 100h1.1v1.1h-1.1zM88.6 100.8h1.1v1.1h-1.1zM91.7 103.7h1.1v1.1h-1.1zM83.5 108.8h1.1v1.1h-1.1zM87.3 98.4h1.1v1.1h-1.1zM82.4 107.8h1.1v1.1h-1.1zM83.7 111.1h1.1v1.1h-1.1zM95.4 114.2h1.1v1.1h-1.1zM85.7 115.1h1.1v1.1h-1.1zM89.9 113.1h1.1v1.1h-1.1zM82.4 114.4h1.1v1.1h-1.1zM91.1 114.2h1.1v1.1h-1.1zM95.9 113h1.1v1.1h-1.1zM99.7 114h1.1v1.1h-1.1zM87.2 114.8h1.1v1.1h-1.1zM89.3 110.2h1.1v1.1h-1.1zM92.4 115.3h1.1v1.1h-1.1zM98.1 112.9h1.1v1.1h-1.1zM93.1 110h1.1v1.1h-1.1zM89.9 112.2h1.1v1.1h-1.1zM84.3 112.4h1.1v1.1h-1.1zM88.8 108.1h1.1v1.1h-1.1zM91.6 115.4h1.1v1.1h-1.1zM89.2 111.7h1.1v1.1h-1.1zM96.9 111.8h1.1v1.1h-1.1zM90.2 112.1h1.1v1.1h-1.1zM84.7 111.9h1.1v1.1h-1.1zM96.8 115.3h1.1v1.1h-1.1zM98.8 116.1h1.1v1.1h-1.1zM85.7 114.5h1.1v1.1h-1.1zM88.9 116.3h1.1v1.1h-1.1zM91.5 112.8h1.1v1.1h-1.1zM100.8 117.4h1.1v1.1h-1.1zM90.3 114.3h1.1v1.1h-1.1zM94.6 116h1.1v1.1h-1.1zM89.9 114.4h1.1v1.1h-1.1zM97.1 112.6h1.1v1.1h-1.1zM94.5 109h1.1v1.1h-1.1zM89 114.2h1.1v1.1h-1.1zM150 101.5h1.1v1.1h-1.1zM156.6 98.9h1.1v1.1h-1.1zM149.8 103.4h1.1v1.1h-1.1zM152.7 100.4h1.1v1.1h-1.1zM150.4 104.1h1.1v1.1h-1.1zM151 100.8h1.1v1.1h-1.1zM159.3 96.5h1.1v1.1h-1.1zM149.4 100.3h1.1v1.1h-1.1zM163.1 100.6h1.1v1.1h-1.1zM149.6 100.6h1.1v1.1h-1.1zM157.2 103.1h1.1v1.1h-1.1zM157.7 98.4h1.1v1.1h-1.1zM155.9 96.3h1.1v1.1h-1.1zM140.9 102.9h1.1v1.1h-1.1zM151.6 99.9h1.1v1.1h-1.1zM151.1 100.2h1.1v1.1h-1.1zM158 102.2h1.1v1.1h-1.1zM150.7 102.8h1.1v1.1h-1.1zM152.3 100h1.1v1.1h-1.1zM140.7 98h1.1v1.1h-1.1zM155.8 96.9h1.1v1.1h-1.1zM161.2 101.6h1.1v1.1h-1.1zM151.9 102.1h1.1v1.1h-1.1zM155.1 98.1h1.1v1.1h-1.1zM147.2 100.4h1.1v1.1h-1.1zM148 96.5h1.1v1.1h-1.1zM152 99.9h1.1v1.1h-1.1zM147.9 105.7h1.1v1.1h-1.1zM151.8 102.8h1.1v1.1h-1.1zM153.4 97.6h1.1v1.1h-1.1zM156.2 101.8h1.1v1.1h-1.1zM145.5 97.3h1.1v1.1h-1.1zM155.6 103.3h1.1v1.1h-1.1zM146.9 100.2h1.1v1.1h-1.1zM151.4 98.9h1.1v1.1h-1.1zM153 94h1.1v1.1h-1.1zM151.8 100.7h1.1v1.1h-1.1zM142.4 101.7h1.1v1.1h-1.1zM155.9 103.6h1.1v1.1h-1.1zM153.2 99.9h1.1v1.1h-1.1zM149.8 102.4h1.1v1.1h-1.1zM145 99.6h1.1v1.1h-1.1zM150.2 100.3h1.1v1.1h-1.1zM144.5 102.4h1.1v1.1h-1.1zM154.1 100.3h1.1v1.1h-1.1zM150.7 100.6h1.1v1.1h-1.1zM147.9 101.3h1.1v1.1h-1.1zM153.4 101.5h1.1v1.1h-1.1zM142 98.3h1.1v1.1h-1.1zM142.4 100.8h1.1v1.1h-1.1zM145.7 101.8h1.1v1.1h-1.1zM155.7 101.3h1.1v1.1h-1.1zM150 102.2h1.1v1.1h-1.1zM152.4 101.8h1.1v1.1h-1.1zM153.5 103.6h1.1v1.1h-1.1zM141.9 101.8h1.1v1.1h-1.1zM157.8 99.1h1.1v1.1h-1.1zM157.6 101.6h1.1v1.1h-1.1zM146.9 98.3h1.1v1.1h-1.1zM151.3 98.6h1.1v1.1h-1.1zM152.9 100.3h1.1v1.1h-1.1zM149.6 101.7h1.1v1.1h-1.1zM154.9 98.7h1.1v1.1h-1.1zM147.5 101.3h1.1v1.1h-1.1zM143.9 98.5h1.1v1.1h-1.1zM151.5 98.7h1.1v1.1h-1.1zM155.9 102.5h1.1v1.1h-1.1zM148.1 102.8h1.1v1.1h-1.1zM148.3 99.6h1.1v1.1h-1.1zM147.7 101.5h1.1v1.1h-1.1zM146.9 99.7h1.1v1.1h-1.1zM145.2 102.9h1.1v1.1h-1.1zM140.2 99.8h1.1v1.1h-1.1zM144.8 101h1.1v1.1h-1.1zM146.9 101.1h1.1v1.1h-1.1zM139.9 101h1.1v1.1h-1.1zM139.4 99.7h1.1v1.1h-1.1zM143.4 97.7h1.1v1.1h-1.1zM147 99.7h1.1v1.1h-1.1zM145.5 101.8h1.1v1.1h-1.1zM145.3 97.3h1.1v1.1h-1.1zM141.1 99.5h1.1v1.1h-1.1zM141.6 100.4h1.1v1.1h-1.1zM142.1 99.7h1.1v1.1h-1.1zM147.2 103h1.1v1.1h-1.1zM150 101.5h1.1v1.1h-1.1zM151.4 99.2h1.1v1.1h-1.1zM144.4 100.2h1.1v1.1h-1.1zM150.1 100.4h1.1v1.1h-1.1zM145.6 97.3h1.1v1.1h-1.1zM150.6 101.7h1.1v1.1h-1.1zM166.8 111.9h1.1v1.1h-1.1zM158.1 115.7h1.1v1.1h-1.1zM162.1 113.1h1.1v1.1h-1.1zM160.5 112.1h1.1v1.1h-1.1zM162 116.4h1.1v1.1h-1.1zM159.9 109h1.1v1.1h-1.1zM161.9 110.2h1.1v1.1h-1.1zM153 113.1h1.1v1.1h-1.1zM155.7 112h1.1v1.1h-1.1zM160.7 111.3h1.1v1.1h-1.1zM160.5 113.7h1.1v1.1h-1.1zM154.1 112.3h1.1v1.1h-1.1zM165.3 112.9h1.1v1.1h-1.1zM161.5 116.5h1.1v1.1h-1.1zM161 107.6h1.1v1.1h-1.1zM161.5 110.4h1.1v1.1h-1.1zM162 109.7h1.1v1.1h-1.1zM157.3 113.1h1.1v1.1h-1.1zM167.5 114.4h1.1v1.1h-1.1zM159.2 112.1h1.1v1.1h-1.1zM160.7 114.1h1.1v1.1h-1.1zM166.4 110.3h1.1v1.1h-1.1zM37 151.4h1.1v1.1h-1.1zM37.1 151.1h1.1v1.1h-1.1zM36.4 148.7h1.1v1.1h-1.1zM29 145.3h1.1v1.1h-1.1zM25.7 147.6h1.1v1.1h-1.1zM36.9 154.3h1.1v1.1h-1.1zM27.2 145.1h1.1v1.1h-1.1zM36.2 152.3h1.1v1.1h-1.1zM41.6 151h1.1v1.1h-1.1zM32.9 152h1.1v1.1h-1.1zM29.8 150.5h1.1v1.1h-1.1zM26.5 151.6h1.1v1.1h-1.1zM29.3 148.7h1.1v1.1h-1.1zM29 151.2h1.1v1.1h-1.1zM35.3 147.9h1.1v1.1h-1.1zM30.3 147h1.1v1.1h-1.1zM34.7 148.7h1.1v1.1h-1.1zM32.4 143.4h1.1v1.1h-1.1zM29.3 150.4h1.1v1.1h-1.1zM31.3 147.9h1.1v1.1h-1.1zM34.8 146.9h1.1v1.1h-1.1zM26.4 150.9h1.1v1.1h-1.1zM26.1 145.5h1.1v1.1h-1.1zM29.6 147h1.1v1.1h-1.1zM36.5 149.7h1.1v1.1h-1.1zM28.1 150.8h1.1v1.1h-1.1zM38.2 148.4h1.1v1.1h-1.1zM31.3 152.6h1.1v1.1h-1.1zM32 147.5h1.1v1.1h-1.1zM35.4 149.7h1.1v1.1h-1.1zM30.4 147.4h1.1v1.1h-1.1zM29.5 153.7h1.1v1.1h-1.1zM32.9 154.4h1.1v1.1h-1.1zM31.3 147.8h1.1v1.1h-1.1zM36.5 146.1h1.1v1.1h-1.1zM37.4 150.1h1.1v1.1h-1.1zM24.6 147.7h1.1v1.1h-1.1zM33.6 148.9h1.1v1.1h-1.1zM28.3 150.9h1.1v1.1h-1.1zM32.6 147.6h1.1v1.1h-1.1zM39.2 146.6h1.1v1.1h-1.1zM32.9 142.8h1.1v1.1h-1.1zM26.5 151.6h1.1v1.1h-1.1zM33.3 153.5h1.1v1.1h-1.1zM33.1 152.6h1.1v1.1h-1.1zM35.7 146.5h1.1v1.1h-1.1zM36 148.9h1.1v1.1h-1.1zM32.9 153h1.1v1.1h-1.1zM35.4 145.4h1.1v1.1h-1.1zM38.2 147.2h1.1v1.1h-1.1zM39.2 149.9h1.1v1.1h-1.1zM40 148.6h1.1v1.1h-1.1zM34.6 150.9h1.1v1.1h-1.1zM39.4 146.7h1.1v1.1h-1.1zM40.6 149.8h1.1v1.1h-1.1zM40.6 148.8h1.1v1.1h-1.1zM37.4 148.4h1.1v1.1h-1.1zM31.8 150.2h1.1v1.1h-1.1zM29.2 148.1h1.1v1.1h-1.1zM38.4 150.6h1.1v1.1h-1.1zM35.7 150.4h1.1v1.1h-1.1zM34.1 149.3h1.1v1.1h-1.1zM42.7 149.6h1.1v1.1h-1.1zM37.7 148.6h1.1v1.1h-1.1zM31.2 146.9h1.1v1.1h-1.1zM35.9 150.8h1.1v1.1h-1.1zM29.9 144.7h1.1v1.1h-1.1zM41.4 148.3h1.1v1.1h-1.1zM28.5 152.7h1.1v1.1h-1.1zM39.6 147.9h1.1v1.1h-1.1zM37.6 149.3h1.1v1.1h-1.1zM31.7 154.5h1.1v1.1h-1.1zM32.2 150.3h1.1v1.1h-1.1zM25.9 153.5h1.1v1.1h-1.1zM28.8 147.1h1.1v1.1h-1.1zM28.8 151.8h1.1v1.1h-1.1zM30.7 153.5h1.1v1.1h-1.1zM33.9 146.8h1.1v1.1h-1.1zM37.5 148.6h1.1v1.1h-1.1zM30 151.5h1.1v1.1h-1.1zM33.7 148.5h1.1v1.1h-1.1zM35.8 148.8h1.1v1.1h-1.1zM29.2 145.6h1.1v1.1h-1.1zM35.8 166.4h1.1v1.1h-1.1zM30.3 158.4h1.1v1.1h-1.1zM35.3 159.5h1.1v1.1h-1.1zM32.7 158.8h1.1v1.1h-1.1zM35.3 161.1h1.1v1.1h-1.1zM32.9 157.4h1.1v1.1h-1.1zM34 160h1.1v1.1h-1.1zM23.7 160.8h1.1v1.1h-1.1zM35.2 165.6h1.1v1.1h-1.1zM30 162.5h1.1v1.1h-1.1zM30.4 165.1h1.1v1.1h-1.1zM31.8 163.6h1.1v1.1h-1.1zM34.6 163.9h1.1v1.1h-1.1zM27.9 163.9h1.1v1.1h-1.1zM27.3 162.4h1.1v1.1h-1.1zM30.3 165.7h1.1v1.1h-1.1zM31.5 166h1.1v1.1h-1.1zM30.7 167.6h1.1v1.1h-1.1zM28 158.4h1.1v1.1h-1.1zM30.1 166.1h1.1v1.1h-1.1zM88.9 146.8h1.1v1.1h-1.1zM86.2 154.6h1.1v1.1h-1.1zM80 150.8h1.1v1.1h-1.1zM90.8 149.7h1.1v1.1h-1.1zM83.7 154.2h1.1v1.1h-1.1zM92.2 151h1.1v1.1h-1.1zM86.3 151.8h1.1v1.1h-1.1zM88.1 149.2h1.1v1.1h-1.1zM83.6 152.9h1.1v1.1h-1.1zM83.4 150.5h1.1v1.1h-1.1zM89.2 153h1.1v1.1h-1.1zM84.8 149h1.1v1.1h-1.1zM83.7 147.9h1.1v1.1h-1.1zM87 151.3h1.1v1.1h-1.1zM82 149h1.1v1.1h-1.1zM89.7 147.8h1.1v1.1h-1.1zM87.7 145.5h1.1v1.1h-1.1zM81.8 151.8h1.1v1.1h-1.1zM79.8 147.7h1.1v1.1h-1.1zM90.8 149.2h1.1v1.1h-1.1zM81.8 150.5h1.1v1.1h-1.1zM91.8 148.8h1.1v1.1h-1.1zM83.5 151.1h1.1v1.1h-1.1zM89.8 153.2h1.1v1.1h-1.1zM83 152.6h1.1v1.1h-1.1zM87.3 152.9h1.1v1.1h-1.1zM84.5 155.3h1.1v1.1h-1.1zM85.6 154.9h1.1v1.1h-1.1zM87.3 155.3h1.1v1.1h-1.1zM90.5 153.7h1.1v1.1h-1.1zM85.1 154.3h1.1v1.1h-1.1zM84.6 154.9h1.1v1.1h-1.1zM86.8 154.6h1.1v1.1h-1.1zM87.6 148.3h1.1v1.1h-1.1zM86.6 150h1.1v1.1h-1.1zM85.7 152.2h1.1v1.1h-1.1zM90.4 149h1.1v1.1h-1.1zM88.9 150.4h1.1v1.1h-1.1zM93.2 151.1h1.1v1.1h-1.1zM87.3 150.5h1.1v1.1h-1.1zM85.6 149.9h1.1v1.1h-1.1zM86.5 151.7h1.1v1.1h-1.1zM80.7 147.1h1.1v1.1h-1.1zM84.2 145.7h1.1v1.1h-1.1zM91.4 157.1h1.1v1.1h-1.1zM87.6 150.7h1.1v1.1h-1.1zM87.5 151.3h1.1v1.1h-1.1zM89 145.4h1.1v1.1h-1.1zM86.6 151.5h1.1v1.1h-1.1zM82.6 150.9h1.1v1.1h-1.1zM86.1 156.1h1.1v1.1h-1.1zM85.5 150.2h1.1v1.1h-1.1zM85.4 146h1.1v1.1h-1.1zM89.2 152.8h1.1v1.1h-1.1zM90.5 147.9h1.1v1.1h-1.1zM82.9 153.5h1.1v1.1h-1.1zM80.2 148.8h1.1v1.1h-1.1zM87.9 145.7h1.1v1.1h-1.1zM83.8 150.7h1.1v1.1h-1.1zM84.2 146.3h1.1v1.1h-1.1zM85.9 152.7h1.1v1.1h-1.1zM87 153.9h1.1v1.1h-1.1zM87.2 150.9h1.1v1.1h-1.1zM82.4 155.3h1.1v1.1h-1.1zM85.9 156.6h1.1v1.1h-1.1zM89.5 147.9h1.1v1.1h-1.1zM81.3 152.3h1.1v1.1h-1.1zM82.6 153.1h1.1v1.1h-1.1zM90.6 154.1h1.1v1.1h-1.1zM92.2 151.9h1.1v1.1h-1.1zM85.8 151.6h1.1v1.1h-1.1zM82.7 152.9h1.1v1.1h-1.1zM91.3 147.9h1.1v1.1h-1.1zM85.5 156.2h1.1v1.1h-1.1zM88.8 147.7h1.1v1.1h-1.1zM85.9 164.8h1.1v1.1h-1.1zM85.7 162.8h1.1v1.1h-1.1zM89.7 163h1.1v1.1h-1.1zM89.3 166.4h1.1v1.1h-1.1zM83.8 163.2h1.1v1.1h-1.1zM83.3 162.5h1.1v1.1h-1.1zM85.8 163.5h1.1v1.1h-1.1zM89.2 164.8h1.1v1.1h-1.1zM89.6 166.9h1.1v1.1h-1.1zM81.7 162.5h1.1v1.1h-1.1zM89.9 161.4h1.1v1.1h-1.1zM84.8 162.6h1.1v1.1h-1.1zM83 164.4h1.1v1.1h-1.1zM84.1 168.6h1.1v1.1h-1.1zM84.2 166.6h1.1v1.1h-1.1zM83.7 164.8h1.1v1.1h-1.1zM90.8 159.9h1.1v1.1h-1.1zM83.6 167.5h1.1v1.1h-1.1zM86 158.1h1.1v1.1h-1.1zM88 158h1.1v1.1h-1.1zM88.8 161.7h1.1v1.1h-1.1zM83.1 168.7h1.1v1.1h-1.1zM89.2 161.5h1.1v1.1h-1.1zM90.8 161.1h1.1v1.1h-1.1zM90.9 163.9h1.1v1.1h-1.1zM84.3 163h1.1v1.1h-1.1zM87.6 163.8h1.1v1.1h-1.1zM89.6 165.6h1.1v1.1h-1.1zM88.4 166.7h1.1v1.1h-1.1zM146.7 150.2h1.1v1.1h-1.1zM150.5 147.6h1.1v1.1h-1.1zM140.9 152h1.1v1.1h-1.1zM144.7 148.1h1.1v1.1h-1.1zM142.1 150.6h1.1v1.1h-1.1zM145.9 154.6h1.1v1.1h-1.1zM143.7 150.4h1.1v1.1h-1.1zM149.4 148.8h1.1v1.1h-1.1zM147.2 148.4h1.1v1.1h-1.1zM150.4 146.7h1.1v1.1h-1.1zM146.5 147.6h1.1v1.1h-1.1zM146.7 145.4h1.1v1.1h-1.1zM153.1 148.4h1.1v1.1h-1.1zM149.1 148.6h1.1v1.1h-1.1zM147.6 151.6h1.1v1.1h-1.1zM152.9 151.4h1.1v1.1h-1.1zM142.7 149h1.1v1.1h-1.1zM142.6 147.5h1.1v1.1h-1.1zM147.4 151.3h1.1v1.1h-1.1zM151.8 148.9h1.1v1.1h-1.1zM151.9 148.9h1.1v1.1h-1.1zM144.8 148.4h1.1v1.1h-1.1zM148.9 153.4h1.1v1.1h-1.1zM147.1 148.2h1.1v1.1h-1.1zM141.2 148.6h1.1v1.1h-1.1zM153.7 150.8h1.1v1.1h-1.1zM148 150.2h1.1v1.1h-1.1zM149.9 147.7h1.1v1.1h-1.1zM146.5 145.6h1.1v1.1h-1.1zM151.9 146.7h1.1v1.1h-1.1zM146.3 150.1h1.1v1.1h-1.1zM145.4 153.9h1.1v1.1h-1.1zM148.2 148.8h1.1v1.1h-1.1zM150.1 146.1h1.1v1.1h-1.1zM147 146.8h1.1v1.1h-1.1zM150.1 149.6h1.1v1.1h-1.1zM148.9 143.9h1.1v1.1h-1.1zM142 150.3h1.1v1.1h-1.1zM154.2 148h1.1v1.1h-1.1zM150.5 148h1.1v1.1h-1.1zM149.5 152h1.1v1.1h-1.1zM144.4 147.2h1.1v1.1h-1.1zM144 149.1h1.1v1.1h-1.1zM143.6 144.6h1.1v1.1h-1.1zM147.1 148.6h1.1v1.1h-1.1zM154.1 149.2h1.1v1.1h-1.1zM147.9 145.8h1.1v1.1h-1.1zM142.2 149.5h1.1v1.1h-1.1zM140.7 148h1.1v1.1h-1.1zM150 152.9h1.1v1.1h-1.1zM152 151.4h1.1v1.1h-1.1zM148.3 148.7h1.1v1.1h-1.1zM148.7 148.7h1.1v1.1h-1.1zM144.7 150.5h1.1v1.1h-1.1zM145.5 149.2h1.1v1.1h-1.1zM149.3 155.2h1.1v1.1h-1.1zM147.7 153.6h1.1v1.1h-1.1zM148.7 150.6h1.1v1.1h-1.1zM154.9 149h1.1v1.1h-1.1zM149.6 152.5h1.1v1.1h-1.1zM147.5 163.7h1.1v1.1h-1.1zM149 159.7h1.1v1.1h-1.1zM139.1 161.3h1.1v1.1h-1.1zM144.6 156.6h1.1v1.1h-1.1zM139.9 165.9h1.1v1.1h-1.1zM147.9 160.3h1.1v1.1h-1.1zM140 165.1h1.1v1.1h-1.1zM140.8 163.4h1.1v1.1h-1.1zM144.2 162.6h1.1v1.1h-1.1zM144.7 162h1.1v1.1h-1.1zM143.9 162.4h1.1v1.1h-1.1zM149.8 160.3h1.1v1.1h-1.1zM144.8 162.5h1.1v1.1h-1.1zM144.4 162.8h1.1v1.1h-1.1zM143.9 161h1.1v1.1h-1.1zM141.7 165h1.1v1.1h-1.1zM141.3 159.1h1.1v1.1h-1.1zM144.2 165.3h1.1v1.1h-1.1zM143.2 157.6h1.1v1.1h-1.1zM33.4 196.2h1.1v1.1h-1.1zM32.7 201.9h1.1v1.1h-1.1zM33.5 199.5h1.1v1.1h-1.1zM36.1 198h1.1v1.1h-1.1zM25.3 201.3h1.1v1.1h-1.1zM30.5 198.9h1.1v1.1h-1.1zM26.2 201.4h1.1v1.1h-1.1zM29 199.8h1.1v1.1h-1.1zM26.7 194.7h1.1v1.1h-1.1zM24.1 197h1.1v1.1h-1.1zM34.6 199.5h1.1v1.1h-1.1zM29 196.2h1.1v1.1h-1.1zM38.2 201.8h1.1v1.1h-1.1zM29.9 197.8h1.1v1.1h-1.1zM26.2 200h1.1v1.1h-1.1zM34.7 202.3h1.1v1.1h-1.1zM24.8 197.4h1.1v1.1h-1.1zM30.8 201.6h1.1v1.1h-1.1zM34.9 200.6h1.1v1.1h-1.1zM32.1 202.7h1.1v1.1h-1.1zM28.3 201.9h1.1v1.1h-1.1zM23.7 197.6h1.1v1.1h-1.1zM24.9 200.9h1.1v1.1h-1.1zM23.3 198.6h1.1v1.1h-1.1zM39.2 198.2h1.1v1.1h-1.1zM23.7 199.7h1.1v1.1h-1.1zM27.7 197.9h1.1v1.1h-1.1zM33.3 196.4h1.1v1.1h-1.1zM27.3 195.8h1.1v1.1h-1.1zM30.8 196.1h1.1v1.1h-1.1zM32.3 196.6h1.1v1.1h-1.1zM27.2 200.8h1.1v1.1h-1.1zM25.7 202.6h1.1v1.1h-1.1zM24.7 203.7h1.1v1.1h-1.1zM29.9 200h1.1v1.1h-1.1zM28.9 198.6h1.1v1.1h-1.1zM30.9 197.1h1.1v1.1h-1.1zM23.8 201.1h1.1v1.1h-1.1zM31.6 199.6h1.1v1.1h-1.1zM30.6 198.9h1.1v1.1h-1.1zM28.2 200.3h1.1v1.1h-1.1zM29 196.7h1.1v1.1h-1.1zM26.5 201.9h1.1v1.1h-1.1zM28.5 196.4h1.1v1.1h-1.1zM29.2 199.8h1.1v1.1h-1.1zM39.7 198.6h1.1v1.1h-1.1zM31.8 201h1.1v1.1h-1.1zM26.3 201h1.1v1.1h-1.1zM25.4 195.7h1.1v1.1h-1.1zM37.7 199h1.1v1.1h-1.1zM26 195h1.1v1.1h-1.1zM26 197h1.1v1.1h-1.1zM36.1 198.5h1.1v1.1h-1.1zM30.2 193.8h1.1v1.1h-1.1zM36.4 199h1.1v1.1h-1.1zM39 199.8h1.1v1.1h-1.1zM26 199.5h1.1v1.1h-1.1zM32 202.2h1.1v1.1h-1.1zM28.3 194.1h1.1v1.1h-1.1zM28.7 194.7h1.1v1.1h-1.1zM31.5 200h1.1v1.1h-1.1zM33.5 200.8h1.1v1.1h-1.1zM25.7 199.1h1.1v1.1h-1.1zM32.8 200.4h1.1v1.1h-1.1zM29.6 195.3h1.1v1.1h-1.1zM27.7 203.5h1.1v1.1h-1.1zM30.7 198.4h1.1v1.1h-1.1zM37 196.3h1.1v1.1h-1.1zM29.5 201.3h1.1v1.1h-1.1zM36.4 202.3h1.1v1.1h-1.1zM28.8 203.2h1.1v1.1h-1.1zM31.8 199.1h1.1v1.1h-1.1zM31.5 200.5h1.1v1.1h-1.1zM33.3 198.3h1.1v1.1h-1.1zM26.4 202h1.1v1.1h-1.1zM31.3 200.9h1.1v1.1h-1.1zM34.7 200h1.1v1.1h-1.1zM32.4 198.2h1.1v1.1h-1.1zM32.3 200.2h1.1v1.1h-1.1zM30 197.3h1.1v1.1h-1.1zM31.1 201.6h1.1v1.1h-1.1zM26.4 203.8h1.1v1.1h-1.1zM26.8 202.8h1.1v1.1h-1.1zM30.2 197h1.1v1.1h-1.1zM34.3 195.3h1.1v1.1h-1.1zM23.8 201.1h1.1v1.1h-1.1zM29.9 216.6h1.1v1.1h-1.1zM33.9 214.4h1.1v1.1h-1.1zM26.6 212.9h1.1v1.1h-1.1zM31.9 211.4h1.1v1.1h-1.1zM23.2 214h1.1v1.1h-1.1zM23.9 214.5h1.1v1.1h-1.1zM33 210.8h1.1v1.1h-1.1zM30.7 217.5h1.1v1.1h-1.1zM30 209.3h1.1v1.1h-1.1zM25.6 214.9h1.1v1.1h-1.1zM25.2 213h1.1v1.1h-1.1zM33.4 210.9h1.1v1.1h-1.1zM25.2 212.1h1.1v1.1h-1.1zM24.7 208.5h1.1v1.1h-1.1zM27.2 211.8h1.1v1.1h-1.1zM29.3 212.2h1.1v1.1h-1.1zM29.2 207.9h1.1v1.1h-1.1zM27.7 210.5h1.1v1.1h-1.1zM28.2 210.9h1.1v1.1h-1.1zM29.5 209.6h1.1v1.1h-1.1zM27.5 209.6h1.1v1.1h-1.1zM30.2 214.4h1.1v1.1h-1.1zM23.4 215.2h1.1v1.1h-1.1zM27.5 212.2h1.1v1.1h-1.1zM32.8 216.3h1.1v1.1h-1.1zM34.4 213.7h1.1v1.1h-1.1zM33.9 211.4h1.1v1.1h-1.1zM31.8 208.7h1.1v1.1h-1.1zM23.4 210.3h1.1v1.1h-1.1zM28.9 207.8h1.1v1.1h-1.1zM32.7 216.7h1.1v1.1h-1.1zM30 215.3h1.1v1.1h-1.1zM30.7 211.3h1.1v1.1h-1.1zM34.1 211.5h1.1v1.1h-1.1zM29.7 214.4h1.1v1.1h-1.1zM28.4 210.6h1.1v1.1h-1.1zM27.8 216.7h1.1v1.1h-1.1zM28.6 216h1.1v1.1h-1.1zM31.7 211.3h1.1v1.1h-1.1zM27.5 213h1.1v1.1h-1.1zM28 214.1h1.1v1.1h-1.1zM25.5 213.2h1.1v1.1h-1.1zM29.3 211.8h1.1v1.1h-1.1zM24.1 214.3h1.1v1.1h-1.1zM30.7 213.7h1.1v1.1h-1.1zM27.2 209.8h1.1v1.1h-1.1zM28.8 208.7h1.1v1.1h-1.1zM32.5 213.5h1.1v1.1h-1.1zM25.7 215.9h1.1v1.1h-1.1zM27.9 214.7h1.1v1.1h-1.1zM30.2 211.9h1.1v1.1h-1.1zM27.3 212.3h1.1v1.1h-1.1zM80.4 201.1h1.1v1.1h-1.1zM82.9 201h1.1v1.1h-1.1zM85.3 201.4h1.1v1.1h-1.1zM83.9 200.8h1.1v1.1h-1.1zM82.2 200.7h1.1v1.1h-1.1zM81.8 198.5h1.1v1.1h-1.1zM81.3 200h1.1v1.1h-1.1zM84.1 196.3h1.1v1.1h-1.1zM83.9 198h1.1v1.1h-1.1zM86.4 197.2h1.1v1.1h-1.1zM83.1 197.4h1.1v1.1h-1.1zM83.7 202h1.1v1.1h-1.1zM83.1 195.6h1.1v1.1h-1.1zM84.9 195.4h1.1v1.1h-1.1zM84.9 203.8h1.1v1.1h-1.1zM87.6 199.2h1.1v1.1h-1.1zM86.3 201.7h1.1v1.1h-1.1zM84.7 199.2h1.1v1.1h-1.1zM84.4 203.8h1.1v1.1h-1.1zM83.3 196.9h1.1v1.1h-1.1zM81.4 203.4h1.1v1.1h-1.1zM82.2 195.8h1.1v1.1h-1.1zM81.9 203.4h1.1v1.1h-1.1zM87.1 204.9h1.1v1.1h-1.1zM84.8 194.9h1.1v1.1h-1.1zM80.9 201.7h1.1v1.1h-1.1zM86.3 196.4h1.1v1.1h-1.1zM89 198.4h1.1v1.1h-1.1zM82.6 202.3h1.1v1.1h-1.1zM81.5 200.5h1.1v1.1h-1.1zM88 200h1.1v1.1h-1.1zM81.9 202.4h1.1v1.1h-1.1zM84.9 201.5h1.1v1.1h-1.1zM84.9 202.4h1.1v1.1h-1.1zM89.9 203.7h1.1v1.1h-1.1zM90.7 199h1.1v1.1h-1.1zM84.8 201.4h1.1v1.1h-1.1zM87 196.7h1.1v1.1h-1.1zM86.3 198.5h1.1v1.1h-1.1zM83.8 198h1.1v1.1h-1.1zM81.1 204.5h1.1v1.1h-1.1zM87.5 198.7h1.1v1.1h-1.1zM85.7 200.9h1.1v1.1h-1.1zM86.6 197.4h1.1v1.1h-1.1zM89 203h1.1v1.1h-1.1zM81.2 197.3h1.1v1.1h-1.1zM82.7 198.3h1.1v1.1h-1.1zM90.1 200.1h1.1v1.1h-1.1zM87.2 195.8h1.1v1.1h-1.1zM82.7 199.6h1.1v1.1h-1.1zM83.5 206.1h1.1v1.1h-1.1zM86.3 197.6h1.1v1.1h-1.1zM89.1 200.5h1.1v1.1h-1.1zM85.5 199.5h1.1v1.1h-1.1zM85.3 196.7h1.1v1.1h-1.1zM89.6 199.5h1.1v1.1h-1.1zM81.8 201.1h1.1v1.1h-1.1zM88.4 198.3h1.1v1.1h-1.1zM83.7 216.3h1.1v1.1h-1.1zM87.2 207.4h1.1v1.1h-1.1zM85.3 208.2h1.1v1.1h-1.1zM84.3 215.9h1.1v1.1h-1.1zM86.8 209.2h1.1v1.1h-1.1zM88.4 207.6h1.1v1.1h-1.1zM85.6 210.4h1.1v1.1h-1.1zM84 212h1.1v1.1h-1.1zM83.9 214.8h1.1v1.1h-1.1zM83.8 212.2h1.1v1.1h-1.1zM149.8 200.3h1.1v1.1h-1.1zM143.9 196.4h1.1v1.1h-1.1zM146.6 201.6h1.1v1.1h-1.1zM141.3 196.3h1.1v1.1h-1.1zM144.9 199.4h1.1v1.1h-1.1zM148.4 197.3h1.1v1.1h-1.1zM149.8 196.2h1.1v1.1h-1.1zM149.1 201.2h1.1v1.1h-1.1zM143.5 198.5h1.1v1.1h-1.1zM148.3 201.7h1.1v1.1h-1.1zM146.2 203h1.1v1.1h-1.1zM138.9 201h1.1v1.1h-1.1zM142.9 197.4h1.1v1.1h-1.1zM146.8 197.1h1.1v1.1h-1.1zM144.6 197.1h1.1v1.1h-1.1zM142.9 202.5h1.1v1.1h-1.1zM148.7 200.9h1.1v1.1h-1.1zM153.9 201.6h1.1v1.1h-1.1zM149.9 198.6h1.1v1.1h-1.1zM152.7 197.7h1.1v1.1h-1.1zM143.9 193.4h1.1v1.1h-1.1zM146.3 200.7h1.1v1.1h-1.1zM151.5 202.2h1.1v1.1h-1.1zM150.3 198.4h1.1v1.1h-1.1zM146 197h1.1v1.1h-1.1zM141.2 194.5h1.1v1.1h-1.1zM146.4 199.2h1.1v1.1h-1.1zM142.1 198.6h1.1v1.1h-1.1zM144.7 194.4h1.1v1.1h-1.1zM141.7 195.5h1.1v1.1h-1.1zM145.3 205h1.1v1.1h-1.1zM143.7 201.8h1.1v1.1h-1.1zM141.9 195.5h1.1v1.1h-1.1zM141 201.6h1.1v1.1h-1.1zM151.1 197.2h1.1v1.1h-1.1zM149 197.2h1.1v1.1h-1.1zM149.9 198.2h1.1v1.1h-1.1zM142.4 199.6h1.1v1.1h-1.1zM151.4 202.3h1.1v1.1h-1.1zM145.1 198.5h1.1v1.1h-1.1zM143.2 194.2h1.1v1.1h-1.1zM145.4 197.3h1.1v1.1h-1.1zM139.2 201.3h1.1v1.1h-1.1zM152.3 199.5h1.1v1.1h-1.1zM146.6 194.1h1.1v1.1h-1.1zM145.1 198h1.1v1.1h-1.1zM141.3 199.7h1.1v1.1h-1.1zM150.6 201.3h1.1v1.1h-1.1zM143.5 203.4h1.1v1.1h-1.1zM145.2 197h1.1v1.1h-1.1zM147.4 197h1.1v1.1h-1.1zM145.2 198.9h1.1v1.1h-1.1zM144.2 198.2h1.1v1.1h-1.1zM139.1 201.6h1.1v1.1h-1.1zM144.7 197.5h1.1v1.1h-1.1zM142.8 198.3h1.1v1.1h-1.1zM147 196.1h1.1v1.1h-1.1zM149.6 202.7h1.1v1.1h-1.1zM151 197.8h1.1v1.1h-1.1zM151.8 195.3h1.1v1.1h-1.1zM148.3 199.1h1.1v1.1h-1.1zM143.8 194.4h1.1v1.1h-1.1zM156.2 199.2h1.1v1.1h-1.1zM156.3 197.7h1.1v1.1h-1.1zM159 197.2h1.1v1.1h-1.1zM163.2 197.1h1.1v1.1h-1.1zM159 199.9h1.1v1.1h-1.1zM156.2 196.5h1.1v1.1h-1.1zM161 201.5h1.1v1.1h-1.1zM156.6 199.8h1.1v1.1h-1.1zM165.8 199.9h1.1v1.1h-1.1zM157.8 198.5h1.1v1.1h-1.1zM156.5 195.9h1.1v1.1h-1.1zM158.9 198.8h1.1v1.1h-1.1zM158.6 195.6h1.1v1.1h-1.1zM155.1 197.3h1.1v1.1h-1.1zM156.4 200.8h1.1v1.1h-1.1zM167.3 198.7h1.1v1.1h-1.1zM156.1 199.4h1.1v1.1h-1.1zM157.8 198.2h1.1v1.1h-1.1zM159 202.5h1.1v1.1h-1.1zM154.1 198.6h1.1v1.1h-1.1zM144.2 211.7h1.1v1.1h-1.1zM145.2 210.7h1.1v1.1h-1.1zM147.7 213.9h1.1v1.1h-1.1zM147.1 215.8h1.1v1.1h-1.1zM140.1 213.4h1.1v1.1h-1.1zM144.8 211.9h1.1v1.1h-1.1zM143.9 210.8h1.1v1.1h-1.1zM146.3 208.3h1.1v1.1h-1.1zM143.9 215.5h1.1v1.1h-1.1zM144.7 212.4h1.1v1.1h-1.1zM147.3 212.6h1.1v1.1h-1.1zM144.2 208.5h1.1v1.1h-1.1zM145.1 211.1h1.1v1.1h-1.1zM145 207.4h1.1v1.1h-1.1zM152.3 212.1h1.1v1.1h-1.1zM150.5 212.3h1.1v1.1h-1.1zM150.9 209.8h1.1v1.1h-1.1zM144.4 217.4h1.1v1.1h-1.1zM145.3 216.5h1.1v1.1h-1.1zM141.2 212.2h1.1v1.1h-1.1zM144.9 213.2h1.1v1.1h-1.1zM141.5 213.5h1.1v1.1h-1.1zM143.3 212.1h1.1v1.1h-1.1zM152.4 212.6h1.1v1.1h-1.1zM149.4 215h1.1v1.1h-1.1zM143.3 207.6h1.1v1.1h-1.1zM150.9 212.3h1.1v1.1h-1.1zM149 216.1h1.1v1.1h-1.1zM147.8 210.1h1.1v1.1h-1.1zM148.5 212.5h1.1v1.1h-1.1zM143.8 216.6h1.1v1.1h-1.1zM142.8 215.1h1.1v1.1h-1.1zM147.1 213.1h1.1v1.1h-1.1zM35 251.4h1.1v1.1h-1.1zM32.5 253.3h1.1v1.1h-1.1zM36.5 256.9h1.1v1.1h-1.1zM32.2 253.5h1.1v1.1h-1.1zM27.6 257.2h1.1v1.1h-1.1zM36.6 253.6h1.1v1.1h-1.1zM35.7 253h1.1v1.1h-1.1zM36.9 251.3h1.1v1.1h-1.1zM30.1 257.3h1.1v1.1h-1.1zM30.5 255.2h1.1v1.1h-1.1zM35.2 254.1h1.1v1.1h-1.1zM34.6 254.7h1.1v1.1h-1.1zM27.7 249.8h1.1v1.1h-1.1zM29 249h1.1v1.1h-1.1zM33.8 253.8h1.1v1.1h-1.1zM34.7 252.6h1.1v1.1h-1.1zM32.6 253.7h1.1v1.1h-1.1zM35 253.9h1.1v1.1h-1.1zM30 252.1h1.1v1.1h-1.1zM33.4 254.1h1.1v1.1h-1.1zM30.3 249.1h1.1v1.1h-1.1zM36.4 250.5h1.1v1.1h-1.1zM31.5 254.6h1.1v1.1h-1.1zM30.2 255.5h1.1v1.1h-1.1zM35.3 247.5h1.1v1.1h-1.1zM37.6 255h1.1v1.1h-1.1zM36.1 254.7h1.1v1.1h-1.1zM33.7 253.6h1.1v1.1h-1.1zM31 249.9h1.1v1.1h-1.1zM36.1 250h1.1v1.1h-1.1zM33.8 254.1h1.1v1.1h-1.1zM33.3 253h1.1v1.1h-1.1zM33.3 261.6h1.1v1.1h-1.1zM36.5 250.6h1.1v1.1h-1.1zM28 260h1.1v1.1h-1.1zM32.5 258.2h1.1v1.1h-1.1zM31.6 258h1.1v1.1h-1.1zM36.7 260.8h1.1v1.1h-1.1zM34.5 251.7h1.1v1.1h-1.1zM34.1 247.3h1.1v1.1h-1.1zM36.8 255.3h1.1v1.1h-1.1zM29.4 257.3h1.1v1.1h-1.1zM35.1 249.1h1.1v1.1h-1.1zM33.2 257.6h1.1v1.1h-1.1zM39.2 258.6h1.1v1.1h-1.1zM31.7 247.2h1.1v1.1h-1.1zM31.5 257.5h1.1v1.1h-1.1zM32.5 255.6h1.1v1.1h-1.1zM29.8 253.4h1.1v1.1h-1.1zM29 247.5h1.1v1.1h-1.1zM38.7 257h1.1v1.1h-1.1zM31.3 258.2h1.1v1.1h-1.1zM35.6 255.4h1.1v1.1h-1.1zM32 253.6h1.1v1.1h-1.1zM29.1 250h1.1v1.1h-1.1zM38.2 252h1.1v1.1h-1.1zM34.3 252.4h1.1v1.1h-1.1zM35.9 251.2h1.1v1.1h-1.1zM34.3 258h1.1v1.1h-1.1zM32 256.4h1.1v1.1h-1.1zM34.2 251.8h1.1v1.1h-1.1zM29.2 258.6h1.1v1.1h-1.1zM36.5 260.8h1.1v1.1h-1.1zM28.4 260.9h1.1v1.1h-1.1zM32.2 263.8h1.1v1.1h-1.1zM33.1 264h1.1v1.1h-1.1zM27.7 262.9h1.1v1.1h-1.1zM32.7 263.5h1.1v1.1h-1.1zM24.9 262h1.1v1.1h-1.1zM36.4 261.9h1.1v1.1h-1.1zM33.2 261.3h1.1v1.1h-1.1zM31.2 263h1.1v1.1h-1.1zM31.7 262.6h1.1v1.1h-1.1zM32.3 255.5h1.1v1.1h-1.1zM33.6 252.7h1.1v1.1h-1.1zM28.9 252.1h1.1v1.1h-1.1zM33.9 256.3h1.1v1.1h-1.1zM33.3 250.5h1.1v1.1h-1.1zM33.5 253h1.1v1.1h-1.1zM32.9 252.7h1.1v1.1h-1.1zM29.9 253.9h1.1v1.1h-1.1zM34.5 254.3h1.1v1.1h-1.1zM35.9 252.1h1.1v1.1h-1.1zM33.3 254.7h1.1v1.1h-1.1zM94.4 255.9h1.1v1.1h-1.1zM89.6 250.3h1.1v1.1h-1.1zM86.2 257.7h1.1v1.1h-1.1zM89.6 256.6h1.1v1.1h-1.1zM83.9 255.4h1.1v1.1h-1.1zM96.7 256h1.1v1.1h-1.1zM87.5 252.5h1.1v1.1h-1.1zM89.9 257.4h1.1v1.1h-1.1zM90.5 253.8h1.1v1.1h-1.1zM91.5 251.2h1.1v1.1h-1.1zM95.1 256.1h1.1v1.1h-1.1zM87.8 249.8h1.1v1.1h-1.1zM88.2 256.1h1.1v1.1h-1.1zM88.9 250.6h1.1v1.1h-1.1zM82.5 253.4h1.1v1.1h-1.1zM83.2 254.9h1.1v1.1h-1.1zM88.5 254.4h1.1v1.1h-1.1zM88.4 257.6h1.1v1.1h-1.1zM97.4 252.5h1.1v1.1h-1.1zM90.6 253.9h1.1v1.1h-1.1zM88.3 252.4h1.1v1.1h-1.1zM81.6 251.1h1.1v1.1h-1.1zM84.2 256.7h1.1v1.1h-1.1zM84.8 253.3h1.1v1.1h-1.1zM85.3 252.2h1.1v1.1h-1.1zM90.4 253.9h1.1v1.1h-1.1zM92.8 253h1.1v1.1h-1.1zM85.4 254.4h1.1v1.1h-1.1zM83.7 257.8h1.1v1.1h-1.1zM86.4 249.5h1.1v1.1h-1.1zM91.2 255.5h1.1v1.1h-1.1zM94.3 248.2h1.1v1.1h-1.1zM81.9 252.2h1.1v1.1h-1.1zM86.7 252.9h1.1v1.1h-1.1zM92.8 248h1.1v1.1h-1.1zM85.5 254.2h1.1v1.1h-1.1zM90.1 250.5h1.1v1.1h-1.1zM85.3 250.1h1.1v1.1h-1.1zM85.7 250.3h1.1v1.1h-1.1zM91 255.6h1.1v1.1h-1.1zM92.5 251.5h1.1v1.1h-1.1zM88.3 251.7h1.1v1.1h-1.1zM90.3 252.2h1.1v1.1h-1.1zM88.5 254.6h1.1v1.1h-1.1zM84.6 260.1h1.1v1.1h-1.1zM88.1 262.7h1.1v1.1h-1.1zM92.3 261.5h1.1v1.1h-1.1zM89.3 263.1h1.1v1.1h-1.1zM85.6 261.8h1.1v1.1h-1.1zM86.4 263.1h1.1v1.1h-1.1zM87.7 261.4h1.1v1.1h-1.1zM93.2 261.1h1.1v1.1h-1.1zM92.7 257.6h1.1v1.1h-1.1zM85.7 264.4h1.1v1.1h-1.1zM84.8 263.7h1.1v1.1h-1.1zM87 255.3h1.1v1.1h-1.1zM90.9 254.2h1.1v1.1h-1.1zM86.9 249.8h1.1v1.1h-1.1zM90.9 252.5h1.1v1.1h-1.1zM91.7 254.8h1.1v1.1h-1.1zM91.1 256.7h1.1v1.1h-1.1zM91.8 253.8h1.1v1.1h-1.1zM86.4 253.5h1.1v1.1h-1.1zM87.9 254.9h1.1v1.1h-1.1zM92.6 254.4h1.1v1.1h-1.1zM88.7 253h1.1v1.1h-1.1zM84.7 253.6h1.1v1.1h-1.1zM88.1 254.9h1.1v1.1h-1.1zM147.9 252.2h1.1v1.1h-1.1zM143.2 250.5h1.1v1.1h-1.1zM143.3 249.1h1.1v1.1h-1.1zM148.4 249.2h1.1v1.1h-1.1zM149.5 254.9h1.1v1.1h-1.1zM154.1 255.2h1.1v1.1h-1.1zM148.8 254.4h1.1v1.1h-1.1zM147.4 246.1h1.1v1.1h-1.1zM149 256.8h1.1v1.1h-1.1zM146 249.9h1.1v1.1h-1.1zM148.3 251.8h1.1v1.1h-1.1zM147.8 252.8h1.1v1.1h-1.1zM151.9 258.1h1.1v1.1h-1.1zM145.9 254.6h1.1v1.1h-1.1zM146.4 254.6h1.1v1.1h-1.1zM141.3 252.7h1.1v1.1h-1.1zM146 256.9h1.1v1.1h-1.1zM151.2 247.5h1.1v1.1h-1.1zM145.8 254.4h1.1v1.1h-1.1zM147.1 255.5h1.1v1.1h-1.1zM150.1 253.5h1.1v1.1h-1.1zM146.9 253h1.1v1.1h-1.1zM152.2 254.8h1.1v1.1h-1.1zM148.8 252.4h1.1v1.1h-1.1zM148.8 247.5h1.1v1.1h-1.1zM152.1 249.2h1.1v1.1h-1.1zM147 251.7h1.1v1.1h-1.1zM148 248.5h1.1v1.1h-1.1zM146.5 251h1.1v1.1h-1.1zM146.8 251.2h1.1v1.1h-1.1zM149.8 256.5h1.1v1.1h-1.1zM145.7 252.7h1.1v1.1h-1.1zM143.2 248.7h1.1v1.1h-1.1zM152.5 255.8h1.1v1.1h-1.1zM149.7 256.1h1.1v1.1h-1.1zM152.3 251.9h1.1v1.1h-1.1zM144 257.2h1.1v1.1h-1.1zM149.4 251.3h1.1v1.1h-1.1zM151.7 252.6h1.1v1.1h-1.1zM144 257.4h1.1v1.1h-1.1zM143.1 253.8h1.1v1.1h-1.1zM150.8 247.9h1.1v1.1h-1.1zM145.7 247.8h1.1v1.1h-1.1zM153 251.5h1.1v1.1h-1.1zM146.7 253.3h1.1v1.1h-1.1zM151.6 252.3h1.1v1.1h-1.1zM146.3 250.4h1.1v1.1h-1.1zM148.7 253.2h1.1v1.1h-1.1zM146.3 247.2h1.1v1.1h-1.1zM149 252h1.1v1.1h-1.1zM149.9 253.3h1.1v1.1h-1.1zM149.5 250.5h1.1v1.1h-1.1zM146.4 250h1.1v1.1h-1.1zM147.5 252h1.1v1.1h-1.1zM152.3 252.5h1.1v1.1h-1.1zM148.8 252.7h1.1v1.1h-1.1zM152.4 252.8h1.1v1.1h-1.1zM149.9 249.2h1.1v1.1h-1.1zM149.3 250.4h1.1v1.1h-1.1zM153.1 254h1.1v1.1h-1.1zM147.3 251.2h1.1v1.1h-1.1zM151.7 254.1h1.1v1.1h-1.1zM54.6 295.9h1.1v1.1h-1.1zM56.3 294.4h1.1v1.1h-1.1zM56.5 301.3h1.1v1.1h-1.1zM54.2 297.4h1.1v1.1h-1.1zM59.2 297.2h1.1v1.1h-1.1zM54.1 297.3h1.1v1.1h-1.1zM57.8 298.7h1.1v1.1h-1.1zM55.4 294.7h1.1v1.1h-1.1zM48.2 297.4h1.1v1.1h-1.1zM55.7 302.6h1.1v1.1h-1.1zM49.2 297h1.1v1.1h-1.1zM47.3 297.1h1.1v1.1h-1.1zM51.9 291.5h1.1v1.1h-1.1zM51.8 296.6h1.1v1.1h-1.1zM53 294.5h1.1v1.1h-1.1zM58 297.7h1.1v1.1h-1.1zM55.8 298.2h1.1v1.1h-1.1zM51.8 295.9h1.1v1.1h-1.1zM55.4 294.8h1.1v1.1h-1.1zM55.8 300.5h1.1v1.1h-1.1zM52.7 296.5h1.1v1.1h-1.1zM56.9 297.2h1.1v1.1h-1.1zM51.5 297.7h1.1v1.1h-1.1zM50.7 299.5h1.1v1.1h-1.1zM54.8 296.4h1.1v1.1h-1.1zM52.2 295.9h1.1v1.1h-1.1zM52.6 297.8h1.1v1.1h-1.1zM51.2 293.2h1.1v1.1h-1.1zM56.7 301.1h1.1v1.1h-1.1zM54.6 301h1.1v1.1h-1.1zM48.8 294.6h1.1v1.1h-1.1zM54.7 297.8h1.1v1.1h-1.1zM54.5 297.4h1.1v1.1h-1.1zM48.3 299.3h1.1v1.1h-1.1zM55.4 295.8h1.1v1.1h-1.1zM56.4 296.9h1.1v1.1h-1.1zM53.3 295.7h1.1v1.1h-1.1zM51.2 298.4h1.1v1.1h-1.1zM52.4 298.8h1.1v1.1h-1.1zM48.5 300.4h1.1v1.1h-1.1zM53.8 295.4h1.1v1.1h-1.1zM54.6 297.5h1.1v1.1h-1.1zM49.9 299.4h1.1v1.1h-1.1zM56.3 296.1h1.1v1.1h-1.1zM51.9 300.7h1.1v1.1h-1.1zM56.7 298.4h1.1v1.1h-1.1zM51.6 301h1.1v1.1h-1.1zM45.3 300.4h1.1v1.1h-1.1zM48.2 303.4h1.1v1.1h-1.1zM39.4 308.6h1.1v1.1h-1.1zM36.2 299.9h1.1v1.1h-1.1zM36.7 301.1h1.1v1.1h-1.1zM31.3 309.4h1.1v1.1h-1.1zM36.8 300.6h1.1v1.1h-1.1zM38.2 302.2h1.1v1.1h-1.1zM41.1 309.3h1.1v1.1h-1.1zM46.9 303.8h1.1v1.1h-1.1zM41.4 300.7h1.1v1.1h-1.1zM39.7 306h1.1v1.1h-1.1zM44.2 304.6h1.1v1.1h-1.1zM31.8 303h1.1v1.1h-1.1zM41 301.3h1.1v1.1h-1.1zM36.2 306.5h1.1v1.1h-1.1zM36.3 301.5h1.1v1.1h-1.1zM36 306.3h1.1v1.1h-1.1zM44 301h1.1v1.1h-1.1zM46.3 299.7h1.1v1.1h-1.1zM36.9 305h1.1v1.1h-1.1zM29.1 302.4h1.1v1.1h-1.1zM42.2 304.1h1.1v1.1h-1.1zM38.3 303.1h1.1v1.1h-1.1zM56.7 295.3h1.1v1.1h-1.1zM57.3 295.2h1.1v1.1h-1.1zM53.6 296.9h1.1v1.1h-1.1zM52.5 296h1.1v1.1h-1.1zM55.4 298.1h1.1v1.1h-1.1zM52.7 294.8h1.1v1.1h-1.1zM49.5 296.2h1.1v1.1h-1.1zM53.4 294.4h1.1v1.1h-1.1zM110.1 301.9h1.1v1.1h-1.1zM106.2 294h1.1v1.1h-1.1zM108.6 302.6h1.1v1.1h-1.1zM111.5 300h1.1v1.1h-1.1zM103.3 292.4h1.1v1.1h-1.1zM107.3 301.4h1.1v1.1h-1.1zM101 294.5h1.1v1.1h-1.1zM103.2 300.4h1.1v1.1h-1.1zM108.4 296.4h1.1v1.1h-1.1zM105.9 299.2h1.1v1.1h-1.1zM107.4 302.1h1.1v1.1h-1.1zM109.4 296.8h1.1v1.1h-1.1zM109.3 297.5h1.1v1.1h-1.1zM114.8 299.6h1.1v1.1h-1.1zM111.5 293.1h1.1v1.1h-1.1zM107.8 297.2h1.1v1.1h-1.1zM104.7 294.6h1.1v1.1h-1.1zM102.1 294.2h1.1v1.1h-1.1zM109.6 301.2h1.1v1.1h-1.1zM109 298.9h1.1v1.1h-1.1zM107 294.8h1.1v1.1h-1.1zM106.1 297h1.1v1.1h-1.1zM104.6 296.4h1.1v1.1h-1.1zM109.4 300.2h1.1v1.1h-1.1zM106.5 298.2h1.1v1.1h-1.1zM104.8 294.1h1.1v1.1h-1.1zM109.9 300.4h1.1v1.1h-1.1zM112.7 297.8h1.1v1.1h-1.1zM113.4 294.7h1.1v1.1h-1.1zM105.1 299.3h1.1v1.1h-1.1zM108 295.4h1.1v1.1h-1.1zM108.6 296.7h1.1v1.1h-1.1zM106 293.1h1.1v1.1h-1.1zM108.7 304.5h1.1v1.1h-1.1zM109.1 292.6h1.1v1.1h-1.1zM109.2 299.5h1.1v1.1h-1.1zM108.5 296.8h1.1v1.1h-1.1zM107.4 298.7h1.1v1.1h-1.1zM105.1 299.4h1.1v1.1h-1.1zM105.4 297.3h1.1v1.1h-1.1zM166.5 296.9h1.1v1.1h-1.1zM164.5 296.6h1.1v1.1h-1.1zM163.5 301.1h1.1v1.1h-1.1zM167.3 303.2h1.1v1.1h-1.1zM169.4 293.6h1.1v1.1h-1.1zM165.7 296.6h1.1v1.1h-1.1zM167.9 294.4h1.1v1.1h-1.1zM165.7 303.8h1.1v1.1h-1.1zM163.1 295.8h1.1v1.1h-1.1zM160.9 300.2h1.1v1.1h-1.1zM165 295.1h1.1v1.1h-1.1zM168.5 296.9h1.1v1.1h-1.1zM162.9 298.8h1.1v1.1h-1.1zM161.9 292.8h1.1v1.1h-1.1zM166.9 297.7h1.1v1.1h-1.1zM172.7 296.1h1.1v1.1h-1.1zM162.8 297.9h1.1v1.1h-1.1zM164.3 297.3h1.1v1.1h-1.1zM171.3 293.6h1.1v1.1h-1.1zM161.3 302.4h1.1v1.1h-1.1zM166.3 304.2h1.1v1.1h-1.1zM169 301.2h1.1v1.1h-1.1zM171.8 297.5h1.1v1.1h-1.1zM166.2 296.9h1.1v1.1h-1.1zM167.3 291.9h1.1v1.1h-1.1zM165.8 297.1h1.1v1.1h-1.1zM162.6 298.8h1.1v1.1h-1.1zM166.7 297.1h1.1v1.1h-1.1zM168.2 299.7h1.1v1.1h-1.1zM169.5 301.5h1.1v1.1h-1.1zM166.4 297.8h1.1v1.1h-1.1zM167.3 302.6h1.1v1.1h-1.1zM160 294.5h1.1v1.1h-1.1zM170.1 294.6h1.1v1.1h-1.1zM160.8 295h1.1v1.1h-1.1zM165.3 296.9h1.1v1.1h-1.1zM165.4 293.2h1.1v1.1h-1.1zM166.2 294.2h1.1v1.1h-1.1zM162.1 294.1h1.1v1.1h-1.1zM171.7 292.3h1.1v1.1h-1.1zM160.8 299.1h1.1v1.1h-1.1zM165.9 296.1h1.1v1.1h-1.1zM164.7 304.2h1.1v1.1h-1.1zM165.8 298.1h1.1v1.1h-1.1zM164.9 295.7h1.1v1.1h-1.1zM168.9 296.8h1.1v1.1h-1.1zM167.4 298.4h1.1v1.1h-1.1zM169.5 298.1h1.1v1.1h-1.1zM167.3 296.9h1.1v1.1h-1.1zM166.3 295h1.1v1.1h-1.1zM167 299.6h1.1v1.1h-1.1zM166.7 297.8h1.1v1.1h-1.1zM166.6 297.3h1.1v1.1h-1.1z" fill="#000" opacity="0.4"/>
<path d="M30.3 51.4h1.1v1.1h-1.1zM24.4 49h1.1v1.1h-1.1zM29.2 49.4h1.1v1.1h-1.1zM32.3 49.7h1.1v1.1h-1.1zM27.1 49.8h1.1v1.1h-1.1zM29.8 50.3h1.1v1.1h-1.1zM28.9 51.8h1.1v1.1h-1.1zM32 51.8h1.1v1.1h-1.1zM37.2 50.1h1.1v1.1h-1.1zM27.2 51.4h1.1v1.1h-1.1zM30.2 46.8h1.1v1.1h-1.1zM25.2 48.9h1.1v1.1h-1.1zM24.9 50.6h1.1v1.1h-1.1zM32.2 47.4h1.1v1.1h-1.1zM36.1 49.9h1.1v1.1h-1.1zM29 52.1h1.1v1.1h-1.1zM31.9 53.5h1.1v1.1h-1.1zM27.6 47.5h1.1v1.1h-1.1zM27.4 49.4h1.1v1.1h-1.1zM31.1 49.1h1.1v1.1h-1.1zM26 48.5h1.1v1.1h-1.1zM23.9 49.5h1.1v1.1h-1.1zM29.8 48.3h1.1v1.1h-1.1zM31.8 48.8h1.1v1.1h-1.1zM29.2 49.9h1.1v1.1h-1.1zM27.9 47h1.1v1.1h-1.1zM26 50.1h1.1v1.1h-1.1zM30.6 53.4h1.1v1.1h-1.1zM27.1 50.4h1.1v1.1h-1.1zM26.7 51.3h1.1v1.1h-1.1zM24.5 50.6h1.1v1.1h-1.1zM30.3 52h1.1v1.1h-1.1zM35.1 49.3h1.1v1.1h-1.1zM30.7 51.3h1.1v1.1h-1.1zM27.2 51h1.1v1.1h-1.1zM33.7 48.9h1.1v1.1h-1.1zM29.5 50.3h1.1v1.1h-1.1zM30.8 47.4h1.1v1.1h-1.1zM32.2 46.3h1.1v1.1h-1.1zM24.7 48.2h1.1v1.1h-1.1zM31.3 50.9h1.1v1.1h-1.1zM30 51h1.1v1.1h-1.1zM29.4 51.7h1.1v1.1h-1.1zM34.5 50.7h1.1v1.1h-1.1zM28.9 49.3h1.1v1.1h-1.1zM27 52.4h1.1v1.1h-1.1zM26.5 53.1h1.1v1.1h-1.1zM33.4 47.9h1.1v1.1h-1.1zM27 53.9h1.1v1.1h-1.1zM23.3 61.1h1.1v1.1h-1.1zM23.3 65.1h1.1v1.1h-1.1zM35.1 59.3h1.1v1.1h-1.1zM29.6 66.2h1.1v1.1h-1.1zM33.3 61h1.1v1.1h-1.1zM30.2 62h1.1v1.1h-1.1zM30.8 61.8h1.1v1.1h-1.1zM33.9 64.3h1.1v1.1h-1.1zM31.6 63h1.1v1.1h-1.1zM27.5 62.5h1.1v1.1h-1.1zM31.6 58.2h1.1v1.1h-1.1zM29.9 61.6h1.1v1.1h-1.1zM34.1 61.1h1.1v1.1h-1.1zM31.1 64.9h1.1v1.1h-1.1zM28.9 60.8h1.1v1.1h-1.1zM27.4 61.6h1.1v1.1h-1.1zM36.8 64h1.1v1.1h-1.1zM27.7 64h1.1v1.1h-1.1zM31 63.5h1.1v1.1h-1.1zM32.3 61.4h1.1v1.1h-1.1zM86.1 53.2h1.1v1.1h-1.1zM92.9 56.4h1.1v1.1h-1.1zM86.2 52.6h1.1v1.1h-1.1zM89.6 55.8h1.1v1.1h-1.1zM88 51.7h1.1v1.1h-1.1zM91.9 54.4h1.1v1.1h-1.1zM88.4 53.3h1.1v1.1h-1.1zM86.4 53.9h1.1v1.1h-1.1zM90.7 52.5h1.1v1.1h-1.1zM80.8 53.8h1.1v1.1h-1.1zM88.2 54.7h1.1v1.1h-1.1zM84.3 53.8h1.1v1.1h-1.1zM88.4 58.4h1.1v1.1h-1.1zM87.3 57h1.1v1.1h-1.1zM88.3 55h1.1v1.1h-1.1zM86.8 55.2h1.1v1.1h-1.1zM89.3 56.1h1.1v1.1h-1.1zM89 51.1h1.1v1.1h-1.1zM90.3 57.3h1.1v1.1h-1.1zM82 56h1.1v1.1h-1.1zM89.4 54.3h1.1v1.1h-1.1zM89.6 56.1h1.1v1.1h-1.1zM87.9 53.6h1.1v1.1h-1.1zM84.2 53.2h1.1v1.1h-1.1zM88.7 53.8h1.1v1.1h-1.1zM92 56.3h1.1v1.1h-1.1zM85 57.6h1.1v1.1h-1.1zM82.7 52.7h1.1v1.1h-1.1zM84.9 49h1.1v1.1h-1.1zM84.3 63h1.1v1.1h-1.1zM82.2 60.9h1.1v1.1h-1.1zM86.5 61h1.1v1.1h-1.1zM87.8 63.4h1.1v1.1h-1.1zM83.9 61h1.1v1.1h-1.1zM90.7 63.3h1.1v1.1h-1.1zM87.5 66.8h1.1v1.1h-1.1zM80.7 64.6h1.1v1.1h-1.1zM81.7 61.4h1.1v1.1h-1.1zM87.2 62.1h1.1v1.1h-1.1zM88.3 62.2h1.1v1.1h-1.1zM89.6 66.4h1.1v1.1h-1.1zM86.8 65.7h1.1v1.1h-1.1zM87.2 66.1h1.1v1.1h-1.1zM84.8 65.4h1.1v1.1h-1.1zM89.4 67.1h1.1v1.1h-1.1zM83.5 63.3h1.1v1.1h-1.1zM92 64.7h1.1v1.1h-1.1zM90 62.5h1.1v1.1h-1.1zM94.7 65h1.1v1.1h-1.1zM83.6 62.9h1.1v1.1h-1.1zM84.8 62h1.1v1.1h-1.1zM92.7 64h1.1v1.1h-1.1zM146.4 46.1h1.1v1.1h-1.1zM149.1 54.3h1.1v1.1h-1.1zM139.3 54.4h1.1v1.1h-1.1zM143.9 45.4h1.1v1.1h-1.1zM140.7 51.7h1.1v1.1h-1.1zM144.6 57.7h1.1v1.1h-1.1zM147 45.4h1.1v1.1h-1.1zM139.8 53.3h1.1v1.1h-1.1zM139.4 52.3h1.1v1.1h-1.1zM143.5 57.3h1.1v1.1h-1.1zM145 51.8h1.1v1.1h-1.1zM148.3 52.8h1.1v1.1h-1.1zM147.7 46.2h1.1v1.1h-1.1zM143.8 54.8h1.1v1.1h-1.1zM143.1 51.5h1.1v1.1h-1.1zM144.4 54h1.1v1.1h-1.1zM149.6 48.9h1.1v1.1h-1.1zM143.8 54.5h1.1v1.1h-1.1zM142.3 48.9h1.1v1.1h-1.1zM141.6 53.5h1.1v1.1h-1.1zM140.7 51h1.1v1.1h-1.1zM139.1 52.6h1.1v1.1h-1.1zM148.6 49.9h1.1v1.1h-1.1zM143.3 52.2h1.1v1.1h-1.1zM149.7 54.6h1.1v1.1h-1.1zM143.1 48.6h1.1v1.1h-1.1zM139.7 46.5h1.1v1.1h-1.1zM145.2 54.5h1.1v1.1h-1.1zM143.1 50.4h1.1v1.1h-1.1zM145.2 51.6h1.1v1.1h-1.1zM148.1 46.5h1.1v1.1h-1.1zM148.8 51.5h1.1v1.1h-1.1zM143.5 54.6h1.1v1.1h-1.1zM144.5 50.8h1.1v1.1h-1.1zM146.1 53.5h1.1v1.1h-1.1zM143.8 51h1.1v1.1h-1.1zM147.2 47.8h1.1v1.1h-1.1zM141.8 51.8h1.1v1.1h-1.1zM145 56.2h1.1v1.1h-1.1zM143.7 56.9h1.1v1.1h-1.1zM142.7 48.9h1.1v1.1h-1.1zM148.1 56.5h1.1v1.1h-1.1zM141.4 56.7h1.1v1.1h-1.1zM144.7 51.9h1.1v1.1h-1.1zM147.4 54h1.1v1.1h-1.1zM147.4 46.7h1.1v1.1h-1.1zM139.7 51.6h1.1v1.1h-1.1zM145.7 48.4h1.1v1.1h-1.1zM147 49.8h1.1v1.1h-1.1zM138.8 47.2h1.1v1.1h-1.1zM145.2 52.9h1.1v1.1h-1.1zM148.2 51.1h1.1v1.1h-1.1zM149.5 48.2h1.1v1.1h-1.1zM145.3 50.5h1.1v1.1h-1.1zM141.6 54.6h1.1v1.1h-1.1zM138.8 49.4h1.1v1.1h-1.1zM145.1 52.1h1.1v1.1h-1.1zM149.6 50h1.1v1.1h-1.1zM140.6 52.8h1.1v1.1h-1.1zM146.8 49.8h1.1v1.1h-1.1zM143 53.6h1.1v1.1h-1.1zM139.5 54.2h1.1v1.1h-1.1zM144.5 50.3h1.1v1.1h-1.1zM148.7 46.9h1.1v1.1h-1.1zM147.5 53.4h1.1v1.1h-1.1zM142.6 55h1.1v1.1h-1.1zM147 50.6h1.1v1.1h-1.1zM142.7 51.1h1.1v1.1h-1.1zM140 52.5h1.1v1.1h-1.1zM144 44.9h1.1v1.1h-1.1zM143.5 49.7h1.1v1.1h-1.1zM144.8 46.7h1.1v1.1h-1.1zM142.1 45.9h1.1v1.1h-1.1zM143.5 47.1h1.1v1.1h-1.1zM146.6 55.8h1.1v1.1h-1.1zM144 54.9h1.1v1.1h-1.1zM142.1 52.4h1.1v1.1h-1.1zM144.1 53.2h1.1v1.1h-1.1zM147.5 51.7h1.1v1.1h-1.1zM148.1 51.8h1.1v1.1h-1.1zM146.4 51.3h1.1v1.1h-1.1zM141.8 49h1.1v1.1h-1.1zM148.8 60h1.1v1.1h-1.1zM146.2 67.5h1.1v1.1h-1.1zM141.8 59.3h1.1v1.1h-1.1zM144.5 65.5h1.1v1.1h-1.1zM142.9 62.9h1.1v1.1h-1.1zM146.2 64.3h1.1v1.1h-1.1zM145.7 63.9h1.1v1.1h-1.1zM145.3 63.5h1.1v1.1h-1.1zM144.6 63.4h1.1v1.1h-1.1zM145 67.9h1.1v1.1h-1.1zM139.9 62.8h1.1v1.1h-1.1zM145.1 68.3h1.1v1.1h-1.1zM142.3 60.1h1.1v1.1h-1.1zM144 64.9h1.1v1.1h-1.1zM145.3 59.6h1.1v1.1h-1.1zM143.3 62.4h1.1v1.1h-1.1zM143.8 64.7h1.1v1.1h-1.1zM142.3 67.5h1.1v1.1h-1.1zM140.7 63.2h1.1v1.1h-1.1zM138.9 61.9h1.1v1.1h-1.1zM145.7 63.8h1.1v1.1h-1.1zM144.4 64.9h1.1v1.1h-1.1zM146.1 59.9h1.1v1.1h-1.1zM142.2 65.5h1.1v1.1h-1.1zM140.8 64.1h1.1v1.1h-1.1zM146.5 61.5h1.1v1.1h-1.1zM142.1 62.7h1.1v1.1h-1.1zM142.6 64.8h1.1v1.1h-1.1zM145 61.6h1.1v1.1h-1.1zM36.7 101.3h1.1v1.1h-1.1zM35.6 97.3h1.1v1.1h-1.1zM34.8 104.1h1.1v1.1h-1.1zM34 103.5h1.1v1.1h-1.1zM32.1 99.3h1.1v1.1h-1.1zM35.7 96.3h1.1v1.1h-1.1zM45 102.3h1.1v1.1h-1.1zM31.1 98.2h1.1v1.1h-1.1zM27.8 96h1.1v1.1h-1.1zM36.8 99.1h1.1v1.1h-1.1zM36.5 101.1h1.1v1.1h-1.1zM43 102.6h1.1v1.1h-1.1zM34.9 97.5h1.1v1.1h-1.1zM29.3 96.6h1.1v1.1h-1.1zM36.6 97.7h1.1v1.1h-1.1zM36.2 94.6h1.1v1.1h-1.1zM43.7 96.2h1.1v1.1h-1.1zM46.6 98.9h1.1v1.1h-1.1zM35.9 98.9h1.1v1.1h-1.1zM43.6 98.8h1.1v1.1h-1.1zM38.1 104h1.1v1.1h-1.1zM28.5 101.9h1.1v1.1h-1.1zM34.3 106.3h1.1v1.1h-1.1zM38.9 99.8h1.1v1.1h-1.1zM35.6 96.2h1.1v1.1h-1.1zM42.9 100.5h1.1v1.1h-1.1zM35.3 99.9h1.1v1.1h-1.1zM38.8 94.8h1.1v1.1h-1.1zM27.4 102.1h1.1v1.1h-1.1zM44.5 104.2h1.1v1.1h-1.1zM46.4 99h1.1v1.1h-1.1zM37.5 99.6h1.1v1.1h-1.1zM46.9 99.2h1.1v1.1h-1.1zM35.8 98.3h1.1v1.1h-1.1zM31.3 102.1h1.1v1.1h-1.1zM43.2 97.8h1.1v1.1h-1.1zM36.2 102.8h1.1v1.1h-1.1zM32.3 100h1.1v1.1h-1.1zM38.3 97h1.1v1.1h-1.1zM36 104.4h1.1v1.1h-1.1zM26 101.4h1.1v1.1h-1.1zM36.1 102h1.1v1.1h-1.1zM31.8 100.7h1.1v1.1h-1.1zM28.7 98.9h1.1v1.1h-1.1zM42.1 99.5h1.1v1.1h-1.1zM38.4 99.3h1.1v1.1h-1.1zM28.6 99.3h1.1v1.1h-1.1zM46.3 101.9h1.1v1.1h-1.1zM39.9 97.4h1.1v1.1h-1.1zM46.7 98.8h1.1v1.1h-1.1zM35.8 104.8h1.1v1.1h-1.1zM33.1 101.4h1.1v1.1h-1.1zM36.6 105.7h1.1v1.1h-1.1zM35.8 101.9h1.1v1.1h-1.1zM36.5 101h1.1v1.1h-1.1zM39.9 97.8h1.1v1.1h-1.1zM28.6 102.2h1.1v1.1h-1.1zM35.2 103.6h1.1v1.1h-1.1zM37.3 99.1h1.1v1.1h-1.1zM37 103.4h1.1v1.1h-1.1zM29.4 100h1.1v1.1h-1.1zM42.6 100.8h1.1v1.1h-1.1zM45 96.3h1.1v1.1h-1.1zM35.8 103.6h1.1v1.1h-1.1zM43.5 98.3h1.1v1.1h-1.1zM26.2 97.2h1.1v1.1h-1.1zM37.7 97.2h1.1v1.1h-1.1zM37.5 98.7h1.1v1.1h-1.1zM35.8 95.6h1.1v1.1h-1.1zM41.9 97.8h1.1v1.1h-1.1zM35.1 99.1h1.1v1.1h-1.1zM39.6 100.5h1.1v1.1h-1.1zM35.7 95.9h1.1v1.1h-1.1zM37.5 99.6h1.1v1.1h-1.1zM31.2 96.7h1.1v1.1h-1.1zM31.8 100.6h1.1v1.1h-1.1zM37.8 101.1h1.1v1.1h-1.1zM27.4 100.7h1.1v1.1h-1.1zM30.3 98.3h1.1v1.1h-1.1zM37.6 98.8h1.1v1.1h-1.1zM35.8 101.8h1.1v1.1h-1.1zM35 97.8h1.1v1.1h-1.1zM31.3 101.7h1.1v1.1h-1.1zM30.8 100.2h1.1v1.1h-1.1zM30.9 102.3h1.1v1.1h-1.1zM34.6 101.7h1.1v1.1h-1.1zM32.2 102.6h1.1v1.1h-1.1zM29.4 101.7h1.1v1.1h-1.1zM29.3 99.7h1.1v1.1h-1.1zM29.4 98.8h1.1v1.1h-1.1zM29.8 99.9h1.1v1.1h-1.1zM34.6 102.7h1.1v1.1h-1.1zM28.9 99.3h1.1v1.1h-1.1zM33.6 100h1.1v1.1h-1.1zM41.3 116.7h1.1v1.1h-1.1zM49.9 109.7h1.1v1.1h-1.1zM41.7 115.2h1.1v1.1h-1.1zM47.2 113h1.1v1.1h-1.1zM44.6 113.7h1.1v1.1h-1.1zM46.6 115.5h1.1v1.1h-1.1zM51.2 113.6h1.1v1.1h-1.1zM49.6 114.7h1.1v1.1h-1.1zM41.6 112.7h1.1v1.1h-1.1zM44 114.9h1.1v1.1h-1.1zM43.8 111.7h1.1v1.1h-1.1zM43.9 111.1h1.1v1.1h-1.1zM47.6 114.1h1.1v1.1h-1.1zM48.6 116.8h1.1v1.1h-1.1zM48.9 114.3h1.1v1.1h-1.1zM42.1 115.4h1.1v1.1h-1.1zM47.9 117.4h1.1v1.1h-1.1zM45.4 115h1.1v1.1h-1.1zM37.6 112.8h1.1v1.1h-1.1zM41.7 114.8h1.1v1.1h-1.1zM50.4 115.8h1.1v1.1h-1.1zM96 104.5h1.1v1.1h-1.1zM93.9 98.6h1.1v1.1h-1.1zM96.7 103.3h1.1v1.1h-1.1zM99.4 102.3h1.1v1.1h-1.1zM96.5 107.9h1.1v1.1h-1.1zM101.8 101.3h1.1v1.1h-1.1zM99.2 104.5h1.1v1.1h-1.1zM100.8 103.2h1.1v1.1h-1.1zM99.1 104.3h1.1v1.1h-1.1zM98.4 101.9h1.1v1.1h-1.1zM96.3 103.4h1.1v1.1h-1.1zM103.1 102.1h1.1v1.1h-1.1zM99.5 101.1h1.1v1.1h-1.1zM99 100.4h1.1v1.1h-1.1zM98.9 103.8h1.1v1.1h-1.1zM96.7 101.7h1.1v1.1h-1.1zM99.6 100.8h1.1v1.1h-1.1zM93.3 103.7h1.1v1.1h-1.1zM101.3 103.4h1.1v1.1h-1.1zM100.2 98.8h1.1v1.1h-1.1zM100.1 107.5h1.1v1.1h-1.1zM99.2 101.7h1.1v1.1h-1.1zM100.7 102.8h1.1v1.1h-1.1zM102.2 99.4h1.1v1.1h-1.1zM101.4 98.3h1.1v1.1h-1.1zM97.6 101.8h1.1v1.1h-1.1zM94.4 104h1.1v1.1h-1.1zM97.7 104.5h1.1v1.1h-1.1zM96.1 102.3h1.1v1.1h-1.1zM97.1 106.2h1.1v1.1h-1.1zM97.9 102.1h1.1v1.1h-1.1zM95.8 101.8h1.1v1.1h-1.1zM100.1 107.2h1.1v1.1h-1.1zM96.9 102.8h1.1v1.1h-1.1zM103.8 101.6h1.1v1.1h-1.1zM98 102.5h1.1v1.1h-1.1zM104.9 102.2h1.1v1.1h-1.1zM100.5 100.4h1.1v1.1h-1.1zM104.7 101.3h1.1v1.1h-1.1zM94.7 105.7h1.1v1.1h-1.1zM99.4 100.1h1.1v1.1h-1.1zM99.9 97.9h1.1v1.1h-1.1zM103.8 100.8h1.1v1.1h-1.1zM98 98.3h1.1v1.1h-1.1zM103.5 105.8h1.1v1.1h-1.1zM101.4 98.9h1.1v1.1h-1.1zM100.7 102.2h1.1v1.1h-1.1zM97 107.3h1.1v1.1h-1.1zM102.8 105.9h1.1v1.1h-1.1zM96.2 103.9h1.1v1.1h-1.1zM103.6 100.9h1.1v1.1h-1.1zM96.9 100.3h1.1v1.1h-1.1zM95.7 105.5h1.1v1.1h-1.1zM82.7 102.1h1.1v1.1h-1.1zM97 109.7h1.1v1.1h-1.1zM96.9 99.6h1.1v1.1h-1.1zM89.4 106.7h1.1v1.1h-1.1zM101 101.9h1.1v1.1h-1.1zM94.3 102.5h1.1v1.1h-1.1zM88.7 103.4h1.1v1.1h-1.1zM88.8 106.6h1.1v1.1h-1.1zM101 104.4h1.1v1.1h-1.1zM86.2 100.2h1.1v1.1h-1.1zM96.8 101.7h1.1v1.1h-1.1zM82.1 105h1.1v1.1h-1.1zM86.5 110h1.1v1.1h-1.1zM88.3 107.2h1.1v1.1h-1.1zM92.3 102.4h1.1v1.1h-1.1zM88.9 102.3h1.1v1.1h-1.1zM89.8 97.6h1.1v1.1h-1.1zM90.2 108.1h1.1v1.1h-1.1zM94.7 105h1.1v1.1h-1.1zM87 104.4h1.1v1.1h-1.1zM92.1 104.4h1.1v1.1h-1.1zM94.1 108.4h1.1v1.1h-1.1zM90.8 109.7h1.1v1.1h-1.1zM86.1 101.6h1.1v1.1h-1.1zM92.8 110.1h1.1v1.1h-1.1zM94.8 99.8h1.1v1.1h-1.1zM92 105.9h1.1v1.1h-1.1zM89.9 105.1h1.1v1.1h-1.1zM92.5 107.8h1.1v1.1h-1.1zM99 108.4h1.1v1.1h-1.1zM88.6 103h1.1v1.1h-1.1zM92.6 99.3h1.1v1.1h-1.1zM91.4 99.6h1.1v1.1h-1.1zM84.2 103.8h1.1v1.1h-1.1zM90.9 103.4h1.1v1.1h-1.1zM96.7 104.4h1.1v1.1h-1.1zM99.5 107.3h1.1v1.1h-1.1zM87.2 104.8h1.1v1.1h-1.1zM87.7 104h1.1v1.1h-1.1zM93.2 100.9h1.1v1.1h-1.1zM85.5 107.3h1.1v1.1h-1.1zM86.7 108.6h1.1v1.1h-1.1zM90.7 101.7h1.1v1.1h-1.1zM91.3 107.2h1.1v1.1h-1.1zM96.7 101.5h1.1v1.1h-1.1zM92.3 103.5h1.1v1.1h-1.1zM81.2 100.1h1.1v1.1h-1.1zM96.1 99.4h1.1v1.1h-1.1zM91.5 102.1h1.1v1.1h-1.1zM81.6 107h1.1v1.1h-1.1zM95.9 105.1h1.1v1.1h-1.1zM97.9 103.5h1.1v1.1h-1.1zM92.2 105.6h1.1v1.1h-1.1zM92 106.2h1.1v1.1h-1.1zM93.2 105.4h1.1v1.1h-1.1zM84.4 118.2h1.1v1.1h-1.1zM93.5 113.4h1.1v1.1h-1.1zM101.4 113.9h1.1v1.1h-1.1zM89.9 113h1.1v1.1h-1.1zM89.6 114.2h1.1v1.1h-1.1zM92.1 113.6h1.1v1.1h-1.1zM88.3 114h1.1v1.1h-1.1zM98.3 110.8h1.1v1.1h-1.1zM101.5 111.9h1.1v1.1h-1.1zM101.3 114.3h1.1v1.1h-1.1zM88.4 112h1.1v1.1h-1.1zM81.7 112.5h1.1v1.1h-1.1zM97.2 112.1h1.1v1.1h-1.1zM85.2 117.2h1.1v1.1h-1.1zM82.4 114.3h1.1v1.1h-1.1zM93.1 110.7h1.1v1.1h-1.1zM93.1 115.1h1.1v1.1h-1.1zM96.1 114h1.1v1.1h-1.1zM83.7 112.2h1.1v1.1h-1.1zM102 114.3h1.1v1.1h-1.1zM86.9 110.3h1.1v1.1h-1.1zM91.6 113.3h1.1v1.1h-1.1zM91.7 112.9h1.1v1.1h-1.1zM85.3 115.7h1.1v1.1h-1.1zM97.1 112.4h1.1v1.1h-1.1zM95.2 113.6h1.1v1.1h-1.1zM155 101.2h1.1v1.1h-1.1zM147 100.8h1.1v1.1h-1.1zM145.8 101.3h1.1v1.1h-1.1zM151.1 99.2h1.1v1.1h-1.1zM144.1 100.5h1.1v1.1h-1.1zM160.9 102.5h1.1v1.1h-1.1zM151.8 99.6h1.1v1.1h-1.1zM149.5 100.3h1.1v1.1h-1.1zM147.5 97.7h1.1v1.1h-1.1zM148.7 104.3h1.1v1.1h-1.1zM149.4 101.5h1.1v1.1h-1.1zM156.9 96.8h1.1v1.1h-1.1zM148.1 98h1.1v1.1h-1.1zM154.5 99.3h1.1v1.1h-1.1zM159.3 100h1.1v1.1h-1.1zM157.5 101.2h1.1v1.1h-1.1zM157 98.6h1.1v1.1h-1.1zM141.6 99.1h1.1v1.1h-1.1zM155.5 100.9h1.1v1.1h-1.1zM141.9 99.8h1.1v1.1h-1.1zM150.3 101.8h1.1v1.1h-1.1zM148.4 95.6h1.1v1.1h-1.1zM151 102.9h1.1v1.1h-1.1zM157.5 100.6h1.1v1.1h-1.1zM144.4 101.2h1.1v1.1h-1.1zM146.9 100.6h1.1v1.1h-1.1zM151 103.3h1.1v1.1h-1.1zM148.2 101.4h1.1v1.1h-1.1zM151.5 101.9h1.1v1.1h-1.1zM154 101.5h1.1v1.1h-1.1zM157.7 97h1.1v1.1h-1.1zM150.9 95.7h1.1v1.1h-1.1zM160.8 100.3h1.1v1.1h-1.1zM155.1 98.2h1.1v1.1h-1.1zM153.3 100.6h1.1v1.1h-1.1zM150.2 99.9h1.1v1.1h-1.1zM152.5 101.3h1.1v1.1h-1.1zM148.1 99.7h1.1v1.1h-1.1zM141.7 97.3h1.1v1.1h-1.1zM153 99.5h1.1v1.1h-1.1zM142.9 102h1.1v1.1h-1.1zM157.2 102.9h1.1v1.1h-1.1zM150.1 99.8h1.1v1.1h-1.1zM149.6 97.4h1.1v1.1h-1.1zM141.5 104.1h1.1v1.1h-1.1zM159.4 101.8h1.1v1.1h-1.1zM154.1 97.6h1.1v1.1h-1.1zM148.5 99.8h1.1v1.1h-1.1zM155.8 100.1h1.1v1.1h-1.1zM146.6 100.2h1.1v1.1h-1.1zM158.2 97.1h1.1v1.1h-1.1zM142.9 102.7h1.1v1.1h-1.1zM150.3 98.4h1.1v1.1h-1.1zM146.6 103.1h1.1v1.1h-1.1zM145.5 99.9h1.1v1.1h-1.1zM144.1 99.3h1.1v1.1h-1.1zM140.9 101.2h1.1v1.1h-1.1zM146.7 101.4h1.1v1.1h-1.1zM146.4 101.6h1.1v1.1h-1.1zM146.3 98.7h1.1v1.1h-1.1zM148.6 101.2h1.1v1.1h-1.1zM143.8 101.1h1.1v1.1h-1.1zM143 99.5h1.1v1.1h-1.1zM149.5 101.9h1.1v1.1h-1.1zM143.6 99.2h1.1v1.1h-1.1zM143.9 99.4h1.1v1.1h-1.1zM147.5 96.6h1.1v1.1h-1.1zM143.2 103.2h1.1v1.1h-1.1zM143.6 99.2h1.1v1.1h-1.1zM143.3 100.3h1.1v1.1h-1.1zM151.9 100h1.1v1.1h-1.1zM149.4 97.1h1.1v1.1h-1.1zM162.1 113h1.1v1.1h-1.1zM157.2 109h1.1v1.1h-1.1zM157.5 108.5h1.1v1.1h-1.1zM160.4 108.7h1.1v1.1h-1.1zM156.7 107.7h1.1v1.1h-1.1zM157 113.3h1.1v1.1h-1.1zM159.8 111.8h1.1v1.1h-1.1zM161.1 111.7h1.1v1.1h-1.1zM158.1 113.7h1.1v1.1h-1.1zM161.7 112.4h1.1v1.1h-1.1zM159.8 111.5h1.1v1.1h-1.1zM166.6 112.5h1.1v1.1h-1.1zM155 113.1h1.1v1.1h-1.1zM164.1 112.1h1.1v1.1h-1.1zM165 113.1h1.1v1.1h-1.1zM163.1 108.5h1.1v1.1h-1.1zM161.4 111.9h1.1v1.1h-1.1zM164.7 114h1.1v1.1h-1.1zM29.3 145.5h1.1v1.1h-1.1zM37.8 152.1h1.1v1.1h-1.1zM30.1 144.2h1.1v1.1h-1.1zM40.7 150.2h1.1v1.1h-1.1zM40.3 150.9h1.1v1.1h-1.1zM32.8 148.6h1.1v1.1h-1.1zM32.7 147.3h1.1v1.1h-1.1zM35.8 151.9h1.1v1.1h-1.1zM26.7 148.3h1.1v1.1h-1.1zM35.4 150.2h1.1v1.1h-1.1zM32 150.5h1.1v1.1h-1.1zM25.5 151.9h1.1v1.1h-1.1zM35.6 153.2h1.1v1.1h-1.1zM32 151.5h1.1v1.1h-1.1zM36.6 148.2h1.1v1.1h-1.1zM40.4 149.1h1.1v1.1h-1.1zM23.8 148.2h1.1v1.1h-1.1zM31.5 148.4h1.1v1.1h-1.1zM27.1 150.6h1.1v1.1h-1.1zM31.7 151.5h1.1v1.1h-1.1zM37.9 144.1h1.1v1.1h-1.1zM28.9 154.3h1.1v1.1h-1.1zM32.3 147.5h1.1v1.1h-1.1zM30 148.9h1.1v1.1h-1.1zM31.8 148.4h1.1v1.1h-1.1zM38.7 146h1.1v1.1h-1.1zM35.9 149h1.1v1.1h-1.1zM30.1 148h1.1v1.1h-1.1zM26.3 145.6h1.1v1.1h-1.1zM41.8 148.2h1.1v1.1h-1.1zM27.2 146h1.1v1.1h-1.1zM33.7 149.2h1.1v1.1h-1.1zM26.4 150.5h1.1v1.1h-1.1zM40.5 151.4h1.1v1.1h-1.1zM25.5 148.4h1.1v1.1h-1.1zM26.7 152.1h1.1v1.1h-1.1zM29.1 146.3h1.1v1.1h-1.1zM33.4 151.7h1.1v1.1h-1.1zM31.3 150.2h1.1v1.1h-1.1zM36.8 148.9h1.1v1.1h-1.1zM33.2 151.4h1.1v1.1h-1.1zM31.8 147.3h1.1v1.1h-1.1zM27.1 150.4h1.1v1.1h-1.1zM35.5 147.3h1.1v1.1h-1.1zM34.4 153.9h1.1v1.1h-1.1zM42.3 148.9h1.1v1.1h-1.1zM37.3 148.9h1.1v1.1h-1.1zM27.8 149.2h1.1v1.1h-1.1zM23.5 150.9h1.1v1.1h-1.1zM38.7 151.3h1.1v1.1h-1.1zM35.2 148.6h1.1v1.1h-1.1zM38.7 152.8h1.1v1.1h-1.1zM39.5 151.9h1.1v1.1h-1.1zM34.8 149.1h1.1v1.1h-1.1zM29.1 146.7h1.1v1.1h-1.1zM32.5 147.8h1.1v1.1h-1.1zM27.9 147.3h1.1v1.1h-1.1zM23.4 147.6h1.1v1.1h-1.1zM38.8 146h1.1v1.1h-1.1zM38.5 152h1.1v1.1h-1.1zM29.2 159h1.1v1.1h-1.1zM26.5 165.5h1.1v1.1h-1.1zM29.1 163.1h1.1v1.1h-1.1zM33 162.6h1.1v1.1h-1.1zM33.5 168.2h1.1v1.1h-1.1zM29.8 159.3h1.1v1.1h-1.1zM26.2 162.1h1.1v1.1h-1.1zM30.7 164.1h1.1v1.1h-1.1zM37.6 163.9h1.1v1.1h-1.1zM32.6 165.6h1.1v1.1h-1.1zM34.8 166.5h1.1v1.1h-1.1zM33 162.6h1.1v1.1h-1.1zM37 163h1.1v1.1h-1.1zM30.8 160.5h1.1v1.1h-1.1zM28.1 160.9h1.1v1.1h-1.1zM31.9 160.7h1.1v1.1h-1.1zM35 162.7h1.1v1.1h-1.1zM30.5 165.4h1.1v1.1h-1.1zM32.7 163.5h1.1v1.1h-1.1zM31.1 159.3h1.1v1.1h-1.1zM28.2 162.5h1.1v1.1h-1.1zM87.2 146.9h1.1v1.1h-1.1zM92 149.9h1.1v1.1h-1.1zM90.1 154h1.1v1.1h-1.1zM84.4 149.5h1.1v1.1h-1.1zM91.3 153.2h1.1v1.1h-1.1zM88.7 149.2h1.1v1.1h-1.1zM84 152.9h1.1v1.1h-1.1zM81.7 148.9h1.1v1.1h-1.1zM87.6 153.9h1.1v1.1h-1.1zM87.3 148.9h1.1v1.1h-1.1zM85.9 146h1.1v1.1h-1.1zM85.6 153.3h1.1v1.1h-1.1zM85.8 151.4h1.1v1.1h-1.1zM86.1 147.1h1.1v1.1h-1.1zM85 156.6h1.1v1.1h-1.1zM89.4 148.5h1.1v1.1h-1.1zM87.1 153.9h1.1v1.1h-1.1zM87.6 147.4h1.1v1.1h-1.1zM82.1 148.8h1.1v1.1h-1.1zM84.8 150.8h1.1v1.1h-1.1zM91.4 149.3h1.1v1.1h-1.1zM87.6 149.5h1.1v1.1h-1.1zM81.5 150.6h1.1v1.1h-1.1zM88 147.5h1.1v1.1h-1.1zM89 152.4h1.1v1.1h-1.1zM80.6 153.1h1.1v1.1h-1.1zM90.6 151.4h1.1v1.1h-1.1zM80.9 154.9h1.1v1.1h-1.1zM87.7 154.6h1.1v1.1h-1.1zM86.2 154h1.1v1.1h-1.1zM81.4 155.1h1.1v1.1h-1.1zM80.8 151.4h1.1v1.1h-1.1zM82.6 147.4h1.1v1.1h-1.1zM86.3 155.3h1.1v1.1h-1.1zM86.7 144.8h1.1v1.1h-1.1zM83.3 157h1.1v1.1h-1.1zM80.6 150.4h1.1v1.1h-1.1zM82.1 150.1h1.1v1.1h-1.1zM80.4 149.2h1.1v1.1h-1.1zM83.5 144.8h1.1v1.1h-1.1zM86.3 156.2h1.1v1.1h-1.1zM82.6 146.8h1.1v1.1h-1.1zM90.9 151.4h1.1v1.1h-1.1zM83.7 154.7h1.1v1.1h-1.1zM88.3 151.3h1.1v1.1h-1.1zM89 146.9h1.1v1.1h-1.1zM83.8 152.6h1.1v1.1h-1.1zM89.1 155.1h1.1v1.1h-1.1zM82.5 148.7h1.1v1.1h-1.1zM88.6 156.5h1.1v1.1h-1.1zM83.1 155.7h1.1v1.1h-1.1zM90.8 153.1h1.1v1.1h-1.1zM87.7 156.2h1.1v1.1h-1.1zM85.4 151.7h1.1v1.1h-1.1zM88.6 150.4h1.1v1.1h-1.1zM82.1 154.1h1.1v1.1h-1.1zM83.7 150.1h1.1v1.1h-1.1zM89.9 148.9h1.1v1.1h-1.1zM86.4 150.9h1.1v1.1h-1.1zM81.6 151.4h1.1v1.1h-1.1zM88.7 150.3h1.1v1.1h-1.1zM79.8 149h1.1v1.1h-1.1zM86.8 151.2h1.1v1.1h-1.1zM84.8 150.1h1.1v1.1h-1.1zM89.9 154h1.1v1.1h-1.1zM83.4 147.5h1.1v1.1h-1.1zM90 154h1.1v1.1h-1.1zM92.7 148.5h1.1v1.1h-1.1zM82.3 148.1h1.1v1.1h-1.1zM87.5 146.8h1.1v1.1h-1.1zM88.3 167.4h1.1v1.1h-1.1zM89.8 168.4h1.1v1.1h-1.1zM85.6 162.7h1.1v1.1h-1.1zM84.4 165.6h1.1v1.1h-1.1zM90.2 165h1.1v1.1h-1.1zM86.6 165h1.1v1.1h-1.1zM86.5 159.9h1.1v1.1h-1.1zM88.5 160h1.1v1.1h-1.1zM84.1 161.8h1.1v1.1h-1.1zM84.3 158.8h1.1v1.1h-1.1zM87.5 165.7h1.1v1.1h-1.1zM88.1 164.4h1.1v1.1h-1.1zM84.9 164.1h1.1v1.1h-1.1zM88.3 162.7h1.1v1.1h-1.1zM90.4 162.5h1.1v1.1h-1.1zM81.5 163h1.1v1.1h-1.1zM86.1 162.4h1.1v1.1h-1.1zM86.6 161.1h1.1v1.1h-1.1zM88.1 159.3h1.1v1.1h-1.1zM80.7 164.1h1.1v1.1h-1.1zM86.6 161.2h1.1v1.1h-1.1zM88 159.6h1.1v1.1h-1.1zM89.1 164.2h1.1v1.1h-1.1zM81.8 166.4h1.1v1.1h-1.1zM144 153.6h1.1v1.1h-1.1zM149.6 154.1h1.1v1.1h-1.1zM146.1 145.2h1.1v1.1h-1.1zM146.5 147.5h1.1v1.1h-1.1zM149.5 150.8h1.1v1.1h-1.1zM151.1 147.4h1.1v1.1h-1.1zM144.7 149.2h1.1v1.1h-1.1zM151.7 152.1h1.1v1.1h-1.1zM145.9 152h1.1v1.1h-1.1zM145.7 148.8h1.1v1.1h-1.1zM149.4 149.2h1.1v1.1h-1.1zM146.1 148.2h1.1v1.1h-1.1zM146.3 151.3h1.1v1.1h-1.1zM141.7 149.3h1.1v1.1h-1.1zM151 149.2h1.1v1.1h-1.1zM150.9 152h1.1v1.1h-1.1zM143.8 152.1h1.1v1.1h-1.1zM146.2 148.7h1.1v1.1h-1.1zM141.4 148.9h1.1v1.1h-1.1zM149.3 149.9h1.1v1.1h-1.1zM149.5 151h1.1v1.1h-1.1zM149.7 152.2h1.1v1.1h-1.1zM152.2 147.4h1.1v1.1h-1.1zM144.9 152.4h1.1v1.1h-1.1zM140.2 150.7h1.1v1.1h-1.1zM147.1 144h1.1v1.1h-1.1zM142 150.1h1.1v1.1h-1.1zM155 146.4h1.1v1.1h-1.1zM148.7 151.3h1.1v1.1h-1.1zM149.7 145.4h1.1v1.1h-1.1zM150.2 148.9h1.1v1.1h-1.1zM139.9 147.3h1.1v1.1h-1.1zM144.5 144h1.1v1.1h-1.1zM152 151.9h1.1v1.1h-1.1zM147.6 150.5h1.1v1.1h-1.1zM145.9 147.9h1.1v1.1h-1.1zM146 150h1.1v1.1h-1.1zM148.2 148.4h1.1v1.1h-1.1zM145.2 145.5h1.1v1.1h-1.1zM141.4 151.3h1.1v1.1h-1.1zM143.6 144.6h1.1v1.1h-1.1zM150.8 145.9h1.1v1.1h-1.1zM148.1 153.8h1.1v1.1h-1.1zM140.4 150.7h1.1v1.1h-1.1zM151.5 150.7h1.1v1.1h-1.1zM147.5 149.2h1.1v1.1h-1.1zM143.9 143.9h1.1v1.1h-1.1zM143.6 149.5h1.1v1.1h-1.1zM148.3 146.6h1.1v1.1h-1.1zM149.2 147.6h1.1v1.1h-1.1zM146.5 151.3h1.1v1.1h-1.1zM148.7 150.3h1.1v1.1h-1.1zM149.8 150h1.1v1.1h-1.1zM146.6 153h1.1v1.1h-1.1zM148.6 149.1h1.1v1.1h-1.1zM144.8 150.2h1.1v1.1h-1.1zM146.9 144.6h1.1v1.1h-1.1zM147.2 144.6h1.1v1.1h-1.1zM150.8 152.7h1.1v1.1h-1.1zM141.3 146.1h1.1v1.1h-1.1zM149.4 145.8h1.1v1.1h-1.1zM139.2 150h1.1v1.1h-1.1zM154.4 148h1.1v1.1h-1.1zM146.8 148.9h1.1v1.1h-1.1zM148.6 154.9h1.1v1.1h-1.1zM143.5 148.8h1.1v1.1h-1.1zM148.1 151.4h1.1v1.1h-1.1zM145.7 164.3h1.1v1.1h-1.1zM146.1 164.4h1.1v1.1h-1.1zM140.7 164.5h1.1v1.1h-1.1zM142.5 163.6h1.1v1.1h-1.1zM140.4 163h1.1v1.1h-1.1zM146 163.6h1.1v1.1h-1.1zM149.3 159h1.1v1.1h-1.1zM146.9 160.1h1.1v1.1h-1.1zM152 164.4h1.1v1.1h-1.1zM144.1 161.9h1.1v1.1h-1.1zM145.9 168.1h1.1v1.1h-1.1zM142.6 167h1.1v1.1h-1.1zM145.4 161.6h1.1v1.1h-1.1zM146.7 159.6h1.1v1.1h-1.1zM144.3 157.1h1.1v1.1h-1.1zM143.8 157.7h1.1v1.1h-1.1zM144.2 167.2h1.1v1.1h-1.1zM147.8 164.5h1.1v1.1h-1.1zM147.2 160.6h1.1v1.1h-1.1zM143.2 163.8h1.1v1.1h-1.1zM143.2 159.5h1.1v1.1h-1.1zM148.8 165.7h1.1v1.1h-1.1zM150.1 163.4h1.1v1.1h-1.1zM150.2 163.8h1.1v1.1h-1.1zM147 159.3h1.1v1.1h-1.1zM143.4 165.1h1.1v1.1h-1.1zM36.3 198.2h1.1v1.1h-1.1zM23.8 195.8h1.1v1.1h-1.1zM33 196.4h1.1v1.1h-1.1zM31.5 201.2h1.1v1.1h-1.1zM30.6 195.1h1.1v1.1h-1.1zM29.2 196.6h1.1v1.1h-1.1zM24.6 199.3h1.1v1.1h-1.1zM31 202.2h1.1v1.1h-1.1zM30.9 199.4h1.1v1.1h-1.1zM27.9 198.7h1.1v1.1h-1.1zM23.5 197.4h1.1v1.1h-1.1zM31.9 200.8h1.1v1.1h-1.1zM33.6 198.6h1.1v1.1h-1.1zM34.4 196.2h1.1v1.1h-1.1zM36.3 199.9h1.1v1.1h-1.1zM33.7 196h1.1v1.1h-1.1zM29.4 199.6h1.1v1.1h-1.1zM33.1 200h1.1v1.1h-1.1zM36.2 198.3h1.1v1.1h-1.1zM31.1 195.9h1.1v1.1h-1.1zM28.6 199.8h1.1v1.1h-1.1zM28 200.9h1.1v1.1h-1.1zM28.1 197.6h1.1v1.1h-1.1zM30.3 199h1.1v1.1h-1.1zM35.3 200.1h1.1v1.1h-1.1zM37.8 199.4h1.1v1.1h-1.1zM24 198.5h1.1v1.1h-1.1zM29.7 195.3h1.1v1.1h-1.1zM31.5 204.7h1.1v1.1h-1.1zM30.4 203.2h1.1v1.1h-1.1zM35.4 203.1h1.1v1.1h-1.1zM30.8 195h1.1v1.1h-1.1zM31.5 197.6h1.1v1.1h-1.1zM31.3 197.1h1.1v1.1h-1.1zM36.5 196h1.1v1.1h-1.1zM34.8 196.7h1.1v1.1h-1.1zM27.6 197.9h1.1v1.1h-1.1zM27.8 197.7h1.1v1.1h-1.1zM29.6 197h1.1v1.1h-1.1zM32 200.3h1.1v1.1h-1.1zM35.4 195.7h1.1v1.1h-1.1zM24 201.1h1.1v1.1h-1.1zM28.2 196.9h1.1v1.1h-1.1zM29.2 201.7h1.1v1.1h-1.1zM30 198.5h1.1v1.1h-1.1zM25.7 194.3h1.1v1.1h-1.1zM27.4 199.5h1.1v1.1h-1.1zM31.1 197.9h1.1v1.1h-1.1zM28 200.3h1.1v1.1h-1.1zM31.5 198.6h1.1v1.1h-1.1zM24.9 198.1h1.1v1.1h-1.1zM35.1 201.2h1.1v1.1h-1.1zM24.3 196.4h1.1v1.1h-1.1zM26.3 195.7h1.1v1.1h-1.1zM29.1 198.9h1.1v1.1h-1.1zM36.4 196.8h1.1v1.1h-1.1zM28.8 198h1.1v1.1h-1.1zM32 200.5h1.1v1.1h-1.1zM30.9 196h1.1v1.1h-1.1zM28.7 202.3h1.1v1.1h-1.1zM31.5 200.9h1.1v1.1h-1.1zM31.8 197.5h1.1v1.1h-1.1zM23.2 199h1.1v1.1h-1.1zM34.6 200.4h1.1v1.1h-1.1zM29.2 195.8h1.1v1.1h-1.1zM30.7 198.1h1.1v1.1h-1.1zM25.1 209.3h1.1v1.1h-1.1zM27.5 211.9h1.1v1.1h-1.1zM28.5 210.6h1.1v1.1h-1.1zM32.7 212.2h1.1v1.1h-1.1zM34.1 216.6h1.1v1.1h-1.1zM24.5 216.4h1.1v1.1h-1.1zM27.1 214.3h1.1v1.1h-1.1zM27.7 208.2h1.1v1.1h-1.1zM30.2 212.3h1.1v1.1h-1.1zM32.9 214.2h1.1v1.1h-1.1zM26.6 216.9h1.1v1.1h-1.1zM24.9 211.8h1.1v1.1h-1.1zM31.2 214.9h1.1v1.1h-1.1zM27.3 213.4h1.1v1.1h-1.1zM28.2 216.7h1.1v1.1h-1.1zM26.5 210.1h1.1v1.1h-1.1zM28.9 212.4h1.1v1.1h-1.1zM24.9 213.3h1.1v1.1h-1.1zM31 208.6h1.1v1.1h-1.1zM29.1 213.2h1.1v1.1h-1.1zM32.2 213.4h1.1v1.1h-1.1zM27.2 217h1.1v1.1h-1.1zM24.9 214.4h1.1v1.1h-1.1zM23.7 213.8h1.1v1.1h-1.1zM33.7 210h1.1v1.1h-1.1zM23.3 211.9h1.1v1.1h-1.1zM24.6 210.4h1.1v1.1h-1.1zM25.1 214.9h1.1v1.1h-1.1zM28.1 214.9h1.1v1.1h-1.1zM26.5 210.8h1.1v1.1h-1.1zM32.3 217.2h1.1v1.1h-1.1zM33.6 216.7h1.1v1.1h-1.1zM28.1 211.5h1.1v1.1h-1.1zM33.3 213.3h1.1v1.1h-1.1zM27.9 217.2h1.1v1.1h-1.1zM31.1 214.8h1.1v1.1h-1.1zM26.6 209.7h1.1v1.1h-1.1zM28 211.4h1.1v1.1h-1.1zM33.2 211.7h1.1v1.1h-1.1zM24.8 215h1.1v1.1h-1.1zM27.4 210.7h1.1v1.1h-1.1zM29.1 211.2h1.1v1.1h-1.1zM85.4 196.9h1.1v1.1h-1.1zM84 201.4h1.1v1.1h-1.1zM88 197.1h1.1v1.1h-1.1zM85.2 200.7h1.1v1.1h-1.1zM86.1 205.1h1.1v1.1h-1.1zM80.4 199.1h1.1v1.1h-1.1zM86.1 197.4h1.1v1.1h-1.1zM86.5 204.8h1.1v1.1h-1.1zM84.2 200.1h1.1v1.1h-1.1zM81.7 205.4h1.1v1.1h-1.1zM83.1 200.6h1.1v1.1h-1.1zM84.9 200h1.1v1.1h-1.1zM86 200.8h1.1v1.1h-1.1zM87 196.2h1.1v1.1h-1.1zM86.2 193.9h1.1v1.1h-1.1zM83.8 200.9h1.1v1.1h-1.1zM82.3 202.3h1.1v1.1h-1.1zM89.6 198.6h1.1v1.1h-1.1zM89.3 201.6h1.1v1.1h-1.1zM85.2 201.1h1.1v1.1h-1.1zM83.5 200.6h1.1v1.1h-1.1zM83.9 196.5h1.1v1.1h-1.1zM84 202.5h1.1v1.1h-1.1zM84.3 200.7h1.1v1.1h-1.1zM83.4 205.4h1.1v1.1h-1.1zM87.8 204.9h1.1v1.1h-1.1zM85.8 196.7h1.1v1.1h-1.1zM85.9 204.5h1.1v1.1h-1.1zM86.5 200.4h1.1v1.1h-1.1zM83.3 199.3h1.1v1.1h-1.1zM81.9 203.6h1.1v1.1h-1.1zM82.2 199.9h1.1v1.1h-1.1zM86.1 201h1.1v1.1h-1.1zM82.3 203.8h1.1v1.1h-1.1zM84.5 197.7h1.1v1.1h-1.1zM89.3 203.5h1.1v1.1h-1.1zM81.2 200.1h1.1v1.1h-1.1zM87.3 203.3h1.1v1.1h-1.1zM87.3 201.9h1.1v1.1h-1.1zM83.1 202.9h1.1v1.1h-1.1zM80.5 199.7h1.1v1.1h-1.1zM84.1 206.2h1.1v1.1h-1.1zM86.1 194.9h1.1v1.1h-1.1zM84.1 202.4h1.1v1.1h-1.1zM84.8 200.9h1.1v1.1h-1.1zM88.1 196.9h1.1v1.1h-1.1zM81.7 202.1h1.1v1.1h-1.1zM82.9 213.6h1.1v1.1h-1.1zM81 214.1h1.1v1.1h-1.1zM84.7 210.2h1.1v1.1h-1.1zM81.1 215.7h1.1v1.1h-1.1zM88 214h1.1v1.1h-1.1zM86.3 212.2h1.1v1.1h-1.1zM89.8 210.7h1.1v1.1h-1.1zM89.6 211.1h1.1v1.1h-1.1zM84.4 210.4h1.1v1.1h-1.1zM85.8 212.2h1.1v1.1h-1.1zM88.1 212.5h1.1v1.1h-1.1zM83.9 209.9h1.1v1.1h-1.1zM89.8 212.5h1.1v1.1h-1.1zM83.2 214.3h1.1v1.1h-1.1zM87.8 214h1.1v1.1h-1.1zM88 212.5h1.1v1.1h-1.1zM90.4 214.6h1.1v1.1h-1.1zM145.3 197.7h1.1v1.1h-1.1zM143.8 198.8h1.1v1.1h-1.1zM143.1 197.1h1.1v1.1h-1.1zM151.8 195.3h1.1v1.1h-1.1zM149.6 196.4h1.1v1.1h-1.1zM145.6 199.5h1.1v1.1h-1.1zM143.7 199.9h1.1v1.1h-1.1zM146.3 201h1.1v1.1h-1.1zM152 198h1.1v1.1h-1.1zM141.7 196.9h1.1v1.1h-1.1zM150.6 201.4h1.1v1.1h-1.1zM144.6 198h1.1v1.1h-1.1zM149.2 197.5h1.1v1.1h-1.1zM150.4 196.9h1.1v1.1h-1.1zM141.7 196.5h1.1v1.1h-1.1zM147.4 202.2h1.1v1.1h-1.1zM149.7 200.7h1.1v1.1h-1.1zM143.2 201.4h1.1v1.1h-1.1zM146.4 198.1h1.1v1.1h-1.1zM140.8 202.4h1.1v1.1h-1.1zM142.3 200h1.1v1.1h-1.1zM145.5 199.3h1.1v1.1h-1.1zM150.9 197.4h1.1v1.1h-1.1zM150.7 198.7h1.1v1.1h-1.1zM152.1 202.9h1.1v1.1h-1.1zM145.4 199.8h1.1v1.1h-1.1zM149.5 201.4h1.1v1.1h-1.1zM144.8 199.6h1.1v1.1h-1.1zM140.8 200h1.1v1.1h-1.1zM139.6 202.2h1.1v1.1h-1.1zM145.6 202.7h1.1v1.1h-1.1zM149.3 200.7h1.1v1.1h-1.1zM143.4 194.3h1.1v1.1h-1.1zM146 202.8h1.1v1.1h-1.1zM150.8 201.6h1.1v1.1h-1.1zM145.3 200.6h1.1v1.1h-1.1zM152.1 197h1.1v1.1h-1.1zM145 198.6h1.1v1.1h-1.1zM150.5 197.5h1.1v1.1h-1.1zM147.5 201.8h1.1v1.1h-1.1zM141.7 199.3h1.1v1.1h-1.1zM145.6 195h1.1v1.1h-1.1zM144.7 198.1h1.1v1.1h-1.1zM145.2 199.6h1.1v1.1h-1.1zM143.3 200.1h1.1v1.1h-1.1zM147.6 204.6h1.1v1.1h-1.1zM138.4 200.6h1.1v1.1h-1.1zM143 194.6h1.1v1.1h-1.1zM152.9 198.1h1.1v1.1h-1.1zM151.6 199.1h1.1v1.1h-1.1zM147.7 201.2h1.1v1.1h-1.1zM151.3 196.5h1.1v1.1h-1.1zM139.4 198.4h1.1v1.1h-1.1zM142.5 201.3h1.1v1.1h-1.1zM147.9 199.9h1.1v1.1h-1.1zM140.9 196.5h1.1v1.1h-1.1zM139.8 202.1h1.1v1.1h-1.1zM147.7 200h1.1v1.1h-1.1zM150.2 198.4h1.1v1.1h-1.1zM149.2 202.1h1.1v1.1h-1.1zM153 196.9h1.1v1.1h-1.1zM144.4 200.2h1.1v1.1h-1.1zM142.8 201.9h1.1v1.1h-1.1zM145.2 198.4h1.1v1.1h-1.1zM151.2 199.3h1.1v1.1h-1.1zM147 199.7h1.1v1.1h-1.1zM139.5 198h1.1v1.1h-1.1zM159.2 203h1.1v1.1h-1.1zM159.2 196.6h1.1v1.1h-1.1zM160.1 199.6h1.1v1.1h-1.1zM160.6 202.8h1.1v1.1h-1.1zM160.9 201.5h1.1v1.1h-1.1zM163.7 197.7h1.1v1.1h-1.1zM156.7 200.9h1.1v1.1h-1.1zM153.4 201h1.1v1.1h-1.1zM160.6 199.5h1.1v1.1h-1.1zM156.4 197.3h1.1v1.1h-1.1zM165.8 200.6h1.1v1.1h-1.1zM154.9 195.5h1.1v1.1h-1.1zM158.5 198.6h1.1v1.1h-1.1zM156.7 200.4h1.1v1.1h-1.1zM157.7 198.9h1.1v1.1h-1.1zM163.4 197.1h1.1v1.1h-1.1zM159.6 199.4h1.1v1.1h-1.1zM156.2 195.1h1.1v1.1h-1.1zM159.7 197.7h1.1v1.1h-1.1zM160 198.6h1.1v1.1h-1.1zM149.1 214.8h1.1v1.1h-1.1zM148.7 211h1.1v1.1h-1.1zM147.3 210h1.1v1.1h-1.1zM152.5 213.4h1.1v1.1h-1.1zM148.4 211.3h1.1v1.1h-1.1zM144.7 213.8h1.1v1.1h-1.1zM143.9 215h1.1v1.1h-1.1zM143.1 209.7h1.1v1.1h-1.1zM143.5 208.5h1.1v1.1h-1.1zM151.4 214.4h1.1v1.1h-1.1zM142.9 213h1.1v1.1h-1.1zM150 216.6h1.1v1.1h-1.1zM142.4 213h1.1v1.1h-1.1zM142.1 208.5h1.1v1.1h-1.1zM146.7 215.5h1.1v1.1h-1.1zM143.8 213h1.1v1.1h-1.1zM143.1 211.6h1.1v1.1h-1.1zM147.4 212.3h1.1v1.1h-1.1zM141.5 212.3h1.1v1.1h-1.1zM147.8 214.9h1.1v1.1h-1.1zM144.1 213.6h1.1v1.1h-1.1zM139.3 212.4h1.1v1.1h-1.1zM140.6 212.3h1.1v1.1h-1.1zM141.1 210.1h1.1v1.1h-1.1zM138.6 211.5h1.1v1.1h-1.1zM142.3 214.1h1.1v1.1h-1.1zM149.6 209.7h1.1v1.1h-1.1zM143.2 211.9h1.1v1.1h-1.1zM146 215.8h1.1v1.1h-1.1zM144.1 212.2h1.1v1.1h-1.1zM147.6 211.5h1.1v1.1h-1.1zM144.6 207.6h1.1v1.1h-1.1zM143.7 209.6h1.1v1.1h-1.1zM151.2 212.4h1.1v1.1h-1.1zM29 260.4h1.1v1.1h-1.1zM36.5 253.4h1.1v1.1h-1.1zM29.3 257.4h1.1v1.1h-1.1zM31.4 249.3h1.1v1.1h-1.1zM31.7 247.3h1.1v1.1h-1.1zM31.6 253.8h1.1v1.1h-1.1zM32.7 252.6h1.1v1.1h-1.1zM37.8 250.5h1.1v1.1h-1.1zM39.1 253h1.1v1.1h-1.1zM32.7 258.7h1.1v1.1h-1.1zM29.3 258.2h1.1v1.1h-1.1zM33 256.4h1.1v1.1h-1.1zM31.4 253.7h1.1v1.1h-1.1zM32.4 251h1.1v1.1h-1.1zM38.3 256.8h1.1v1.1h-1.1zM26.3 252.5h1.1v1.1h-1.1zM32.9 249.4h1.1v1.1h-1.1zM30.4 255.4h1.1v1.1h-1.1zM33.4 254.2h1.1v1.1h-1.1zM34.8 257.6h1.1v1.1h-1.1zM29.8 254.3h1.1v1.1h-1.1zM34.5 247.6h1.1v1.1h-1.1zM37.5 250.6h1.1v1.1h-1.1zM27.1 251.6h1.1v1.1h-1.1zM28.8 258.3h1.1v1.1h-1.1zM33.3 249.4h1.1v1.1h-1.1zM38.7 252.6h1.1v1.1h-1.1zM28.4 252.7h1.1v1.1h-1.1zM31.4 249.3h1.1v1.1h-1.1zM34.7 250.3h1.1v1.1h-1.1zM29.6 253.4h1.1v1.1h-1.1zM37.8 255.6h1.1v1.1h-1.1zM34.8 252.1h1.1v1.1h-1.1zM27.7 249.3h1.1v1.1h-1.1zM29.6 256.6h1.1v1.1h-1.1zM32.9 254h1.1v1.1h-1.1zM37.1 250h1.1v1.1h-1.1zM31.5 252.4h1.1v1.1h-1.1zM34.6 260h1.1v1.1h-1.1zM33.3 252.6h1.1v1.1h-1.1zM34.2 252.9h1.1v1.1h-1.1zM36.1 251.3h1.1v1.1h-1.1zM35.9 251.6h1.1v1.1h-1.1zM28.5 254.8h1.1v1.1h-1.1zM35.6 251.6h1.1v1.1h-1.1zM39.3 257.7h1.1v1.1h-1.1zM34 253.7h1.1v1.1h-1.1zM35.9 247.7h1.1v1.1h-1.1zM32.4 255.4h1.1v1.1h-1.1zM38.1 258.8h1.1v1.1h-1.1zM35.3 254h1.1v1.1h-1.1zM36.7 253.4h1.1v1.1h-1.1zM31.1 252.1h1.1v1.1h-1.1zM32.8 251.2h1.1v1.1h-1.1zM37.6 261.5h1.1v1.1h-1.1zM34.2 264.4h1.1v1.1h-1.1zM34.7 260.5h1.1v1.1h-1.1zM29.6 263.4h1.1v1.1h-1.1zM30.8 262.5h1.1v1.1h-1.1zM28.5 260.8h1.1v1.1h-1.1zM34.4 260.8h1.1v1.1h-1.1zM32.8 258.7h1.1v1.1h-1.1zM29.8 262.1h1.1v1.1h-1.1zM29.8 260.9h1.1v1.1h-1.1zM28 258.3h1.1v1.1h-1.1zM36.4 260.3h1.1v1.1h-1.1zM28 263h1.1v1.1h-1.1zM33 263.1h1.1v1.1h-1.1zM28.2 263.5h1.1v1.1h-1.1zM35.6 264.2h1.1v1.1h-1.1zM33.5 253h1.1v1.1h-1.1zM33.8 252.1h1.1v1.1h-1.1zM32.9 247.9h1.1v1.1h-1.1zM29.9 255.6h1.1v1.1h-1.1zM31.7 252.7h1.1v1.1h-1.1zM33.2 250.2h1.1v1.1h-1.1zM29.3 253h1.1v1.1h-1.1zM31.9 248.2h1.1v1.1h-1.1zM33.6 251.4h1.1v1.1h-1.1zM34.2 250.6h1.1v1.1h-1.1zM35.1 252.5h1.1v1.1h-1.1zM36.9 254.1h1.1v1.1h-1.1zM30.2 251.4h1.1v1.1h-1.1zM35 253.5h1.1v1.1h-1.1zM86.4 254.6h1.1v1.1h-1.1zM87.8 253.7h1.1v1.1h-1.1zM88.1 251.8h1.1v1.1h-1.1zM89.3 253.8h1.1v1.1h-1.1zM88.5 261.5h1.1v1.1h-1.1zM91.7 254.4h1.1v1.1h-1.1zM88.5 248.6h1.1v1.1h-1.1zM86.9 247.7h1.1v1.1h-1.1zM96.3 254.9h1.1v1.1h-1.1zM89.4 248.7h1.1v1.1h-1.1zM85 254.9h1.1v1.1h-1.1zM88.3 253.6h1.1v1.1h-1.1zM87.5 254.8h1.1v1.1h-1.1zM97.7 255.2h1.1v1.1h-1.1zM94.9 252.5h1.1v1.1h-1.1zM94.7 250.6h1.1v1.1h-1.1zM90.5 257.7h1.1v1.1h-1.1zM92.5 252.2h1.1v1.1h-1.1zM87.4 255.8h1.1v1.1h-1.1zM93.3 254.6h1.1v1.1h-1.1zM94.4 252.6h1.1v1.1h-1.1zM83.4 256.3h1.1v1.1h-1.1zM87.4 258.4h1.1v1.1h-1.1zM89.1 249h1.1v1.1h-1.1zM95.3 250.1h1.1v1.1h-1.1zM89.7 252.4h1.1v1.1h-1.1zM89.5 251.4h1.1v1.1h-1.1zM92.8 255.3h1.1v1.1h-1.1zM95.7 253.3h1.1v1.1h-1.1zM91.4 249.8h1.1v1.1h-1.1zM91.3 252.8h1.1v1.1h-1.1zM91.5 251.7h1.1v1.1h-1.1zM84.1 251.1h1.1v1.1h-1.1zM81.9 252.3h1.1v1.1h-1.1zM88.4 252.1h1.1v1.1h-1.1zM91.7 258.4h1.1v1.1h-1.1zM87.6 251.7h1.1v1.1h-1.1zM84.3 254.4h1.1v1.1h-1.1zM95.7 255.2h1.1v1.1h-1.1zM94.9 250.3h1.1v1.1h-1.1zM84.8 254h1.1v1.1h-1.1zM84.2 254.8h1.1v1.1h-1.1zM87.8 251.3h1.1v1.1h-1.1zM89.2 258h1.1v1.1h-1.1zM90.1 249.5h1.1v1.1h-1.1zM88.7 253.6h1.1v1.1h-1.1zM91.7 254.7h1.1v1.1h-1.1zM86.9 255.3h1.1v1.1h-1.1zM87 251.6h1.1v1.1h-1.1zM86.5 252h1.1v1.1h-1.1zM89.3 255.9h1.1v1.1h-1.1zM88.2 249.7h1.1v1.1h-1.1zM83.5 257.7h1.1v1.1h-1.1zM86.6 252.4h1.1v1.1h-1.1zM93.6 262.3h1.1v1.1h-1.1zM88.4 264.5h1.1v1.1h-1.1zM86.7 259.9h1.1v1.1h-1.1zM82.3 262.3h1.1v1.1h-1.1zM89.8 260.1h1.1v1.1h-1.1zM93.5 261.6h1.1v1.1h-1.1zM87.3 264h1.1v1.1h-1.1zM91.5 263.5h1.1v1.1h-1.1zM92.1 259.3h1.1v1.1h-1.1zM88.5 253.9h1.1v1.1h-1.1zM89.3 251.6h1.1v1.1h-1.1zM88.6 250.5h1.1v1.1h-1.1zM92.3 250.2h1.1v1.1h-1.1zM92.8 252h1.1v1.1h-1.1zM91.5 252.2h1.1v1.1h-1.1zM89.5 253.6h1.1v1.1h-1.1zM90.6 252.1h1.1v1.1h-1.1zM87.9 257.5h1.1v1.1h-1.1zM88.7 251.2h1.1v1.1h-1.1zM87.9 250.2h1.1v1.1h-1.1zM89 255.1h1.1v1.1h-1.1zM92 249.7h1.1v1.1h-1.1zM86.4 253.6h1.1v1.1h-1.1zM89.3 254.3h1.1v1.1h-1.1zM90.2 251.4h1.1v1.1h-1.1zM94.3 252.3h1.1v1.1h-1.1zM90.2 250.3h1.1v1.1h-1.1zM89.1 251.4h1.1v1.1h-1.1zM143.9 253.2h1.1v1.1h-1.1zM153.1 251.3h1.1v1.1h-1.1zM147.8 253.4h1.1v1.1h-1.1zM145.2 258.7h1.1v1.1h-1.1zM147.2 247.4h1.1v1.1h-1.1zM153.6 253.9h1.1v1.1h-1.1zM147.5 254h1.1v1.1h-1.1zM143.6 255.8h1.1v1.1h-1.1zM153.6 248.7h1.1v1.1h-1.1zM145.4 257h1.1v1.1h-1.1zM146.9 253.6h1.1v1.1h-1.1zM153.8 250.9h1.1v1.1h-1.1zM147.8 254h1.1v1.1h-1.1zM147.6 250.2h1.1v1.1h-1.1zM150.6 254h1.1v1.1h-1.1zM147.7 249.6h1.1v1.1h-1.1zM146.7 249.9h1.1v1.1h-1.1zM149.7 251.4h1.1v1.1h-1.1zM144.8 253.9h1.1v1.1h-1.1zM152.1 248.2h1.1v1.1h-1.1zM149.6 252.2h1.1v1.1h-1.1zM147.4 252.8h1.1v1.1h-1.1zM144.3 253.1h1.1v1.1h-1.1zM143.3 256.1h1.1v1.1h-1.1zM148.2 254.2h1.1v1.1h-1.1zM153.5 255.8h1.1v1.1h-1.1zM146.7 256.1h1.1v1.1h-1.1zM147.6 255.5h1.1v1.1h-1.1zM150.6 246h1.1v1.1h-1.1zM144.9 256.9h1.1v1.1h-1.1zM147.4 257.6h1.1v1.1h-1.1zM153.4 249.8h1.1v1.1h-1.1zM147.7 252.5h1.1v1.1h-1.1zM153.8 255.7h1.1v1.1h-1.1zM144.5 252.2h1.1v1.1h-1.1zM146.2 252.7h1.1v1.1h-1.1zM151.5 253h1.1v1.1h-1.1zM150.4 247.8h1.1v1.1h-1.1zM148.3 255.3h1.1v1.1h-1.1zM142 251.9h1.1v1.1h-1.1zM143.9 252.7h1.1v1.1h-1.1zM145.5 256.4h1.1v1.1h-1.1zM153.8 248.2h1.1v1.1h-1.1zM151 254.5h1.1v1.1h-1.1zM147.5 257h1.1v1.1h-1.1zM148.3 247.2h1.1v1.1h-1.1zM152.6 254.6h1.1v1.1h-1.1zM149.1 248.6h1.1v1.1h-1.1zM152.8 249.5h1.1v1.1h-1.1zM148.7 251.5h1.1v1.1h-1.1zM147.8 253h1.1v1.1h-1.1zM148.6 252.5h1.1v1.1h-1.1zM152.2 251.7h1.1v1.1h-1.1zM149.4 253.1h1.1v1.1h-1.1zM147.8 250.1h1.1v1.1h-1.1zM150.4 249.3h1.1v1.1h-1.1zM150.1 248.4h1.1v1.1h-1.1zM150.3 254.2h1.1v1.1h-1.1zM147 254.3h1.1v1.1h-1.1zM148.8 251.4h1.1v1.1h-1.1zM150.2 253.3h1.1v1.1h-1.1zM150.7 251.9h1.1v1.1h-1.1zM147 247.3h1.1v1.1h-1.1zM149.4 251.5h1.1v1.1h-1.1zM147.7 249.2h1.1v1.1h-1.1zM54.9 293.1h1.1v1.1h-1.1zM49.2 298.9h1.1v1.1h-1.1zM58.3 296.1h1.1v1.1h-1.1zM50 298.3h1.1v1.1h-1.1zM51.8 293.1h1.1v1.1h-1.1zM53.6 297.9h1.1v1.1h-1.1zM54 303.7h1.1v1.1h-1.1zM52.8 301.1h1.1v1.1h-1.1zM55.5 291.5h1.1v1.1h-1.1zM51.2 298.5h1.1v1.1h-1.1zM57.1 296.6h1.1v1.1h-1.1zM55.6 298h1.1v1.1h-1.1zM49.1 292.2h1.1v1.1h-1.1zM52.4 298.9h1.1v1.1h-1.1zM56.4 298.8h1.1v1.1h-1.1zM48.7 298.8h1.1v1.1h-1.1zM52.8 299.5h1.1v1.1h-1.1zM51.1 294.1h1.1v1.1h-1.1zM52.1 297.1h1.1v1.1h-1.1zM50.9 300.4h1.1v1.1h-1.1zM52.8 296.2h1.1v1.1h-1.1zM50.1 292.8h1.1v1.1h-1.1zM50.6 298.2h1.1v1.1h-1.1zM54.6 303.1h1.1v1.1h-1.1zM52.3 291.8h1.1v1.1h-1.1zM56.7 294.1h1.1v1.1h-1.1zM50.5 293.2h1.1v1.1h-1.1zM54.4 294.6h1.1v1.1h-1.1zM55.6 295.9h1.1v1.1h-1.1zM53 301.2h1.1v1.1h-1.1zM55.9 301.5h1.1v1.1h-1.1zM54.9 290.9h1.1v1.1h-1.1zM52.1 292.2h1.1v1.1h-1.1zM54 299.9h1.1v1.1h-1.1zM52.8 297.4h1.1v1.1h-1.1zM51.9 302.5h1.1v1.1h-1.1zM51.8 294.8h1.1v1.1h-1.1zM53.7 297.5h1.1v1.1h-1.1zM54.5 297.5h1.1v1.1h-1.1zM46.8 296.7h1.1v1.1h-1.1zM51.3 294.7h1.1v1.1h-1.1zM55.8 295.5h1.1v1.1h-1.1zM52.6 295.1h1.1v1.1h-1.1zM48.8 300.3h1.1v1.1h-1.1zM51.3 302.1h1.1v1.1h-1.1zM49.6 297.5h1.1v1.1h-1.1zM56.7 297.4h1.1v1.1h-1.1zM51 298.3h1.1v1.1h-1.1zM47 305.7h1.1v1.1h-1.1zM39.5 301.8h1.1v1.1h-1.1zM38.3 301.5h1.1v1.1h-1.1zM43.5 303.1h1.1v1.1h-1.1zM47.5 304.2h1.1v1.1h-1.1zM41.8 298.2h1.1v1.1h-1.1zM30.7 302.1h1.1v1.1h-1.1zM27.9 302.5h1.1v1.1h-1.1zM39 304.7h1.1v1.1h-1.1zM42.3 305.4h1.1v1.1h-1.1zM36.5 301.7h1.1v1.1h-1.1zM28.2 305.5h1.1v1.1h-1.1zM40 305.4h1.1v1.1h-1.1zM36.7 303.8h1.1v1.1h-1.1zM40.6 298.7h1.1v1.1h-1.1zM35.9 305.9h1.1v1.1h-1.1zM29.6 304.5h1.1v1.1h-1.1zM33.5 300.9h1.1v1.1h-1.1zM31.4 303.7h1.1v1.1h-1.1zM46.9 303h1.1v1.1h-1.1zM31.9 301h1.1v1.1h-1.1zM37.3 303.3h1.1v1.1h-1.1zM39.3 303.3h1.1v1.1h-1.1zM33.7 305.8h1.1v1.1h-1.1zM41 301.5h1.1v1.1h-1.1zM36.2 303.1h1.1v1.1h-1.1zM32.1 304.3h1.1v1.1h-1.1zM42.8 306.3h1.1v1.1h-1.1zM54.9 295.9h1.1v1.1h-1.1zM54 296.9h1.1v1.1h-1.1zM54.2 298.5h1.1v1.1h-1.1zM55.6 298.1h1.1v1.1h-1.1zM53.7 297h1.1v1.1h-1.1zM53.7 296.3h1.1v1.1h-1.1zM54.8 295.8h1.1v1.1h-1.1zM53.8 297.1h1.1v1.1h-1.1zM52 295.7h1.1v1.1h-1.1zM54.3 297.6h1.1v1.1h-1.1zM52.4 298.6h1.1v1.1h-1.1zM48.6 296.6h1.1v1.1h-1.1zM53.9 296.6h1.1v1.1h-1.1zM54.7 295.6h1.1v1.1h-1.1zM108.7 302.2h1.1v1.1h-1.1zM106.6 298h1.1v1.1h-1.1zM107.5 298h1.1v1.1h-1.1zM109.1 302.7h1.1v1.1h-1.1zM105.4 301.1h1.1v1.1h-1.1zM104 294.5h1.1v1.1h-1.1zM104.6 294.8h1.1v1.1h-1.1zM107.7 291h1.1v1.1h-1.1zM111.8 295.5h1.1v1.1h-1.1zM102.5 296h1.1v1.1h-1.1zM106 296.7h1.1v1.1h-1.1zM108 294.7h1.1v1.1h-1.1zM109.5 294.3h1.1v1.1h-1.1zM105.7 303.5h1.1v1.1h-1.1zM104.8 296h1.1v1.1h-1.1zM102.8 298.6h1.1v1.1h-1.1zM107.6 296h1.1v1.1h-1.1zM101.8 299h1.1v1.1h-1.1zM105.7 298.9h1.1v1.1h-1.1zM108.5 299h1.1v1.1h-1.1zM108.2 296.9h1.1v1.1h-1.1zM107.2 297.8h1.1v1.1h-1.1zM108.8 295.3h1.1v1.1h-1.1zM112.5 298.6h1.1v1.1h-1.1zM107.7 297.1h1.1v1.1h-1.1zM109.8 301.1h1.1v1.1h-1.1zM103 300.6h1.1v1.1h-1.1zM110.6 300.1h1.1v1.1h-1.1zM105.9 301.5h1.1v1.1h-1.1zM107.8 300.7h1.1v1.1h-1.1zM106.8 297.6h1.1v1.1h-1.1zM105.7 296.9h1.1v1.1h-1.1zM108.9 303.4h1.1v1.1h-1.1zM112.5 294.9h1.1v1.1h-1.1zM109.9 295.7h1.1v1.1h-1.1zM108.3 297.5h1.1v1.1h-1.1zM106.4 298.4h1.1v1.1h-1.1zM104.8 293.9h1.1v1.1h-1.1zM105 296.9h1.1v1.1h-1.1zM109.3 302.9h1.1v1.1h-1.1zM108.9 296.1h1.1v1.1h-1.1zM111.6 293.5h1.1v1.1h-1.1zM104.7 301.1h1.1v1.1h-1.1zM110.1 297.7h1.1v1.1h-1.1zM108.1 299.2h1.1v1.1h-1.1zM105.8 296.8h1.1v1.1h-1.1zM108.7 297.3h1.1v1.1h-1.1zM109.8 296.6h1.1v1.1h-1.1zM110.5 297.9h1.1v1.1h-1.1zM105.2 296.6h1.1v1.1h-1.1zM109.2 299.7h1.1v1.1h-1.1zM110.2 295.4h1.1v1.1h-1.1zM105.8 298.1h1.1v1.1h-1.1zM107.1 299.4h1.1v1.1h-1.1zM106.4 300.3h1.1v1.1h-1.1zM107.5 296.8h1.1v1.1h-1.1zM105.8 299.2h1.1v1.1h-1.1zM105.6 295.9h1.1v1.1h-1.1zM108.4 300.5h1.1v1.1h-1.1zM106.7 299h1.1v1.1h-1.1zM111.4 298.6h1.1v1.1h-1.1zM171.7 299.2h1.1v1.1h-1.1zM167.7 296.4h1.1v1.1h-1.1zM172.4 298.3h1.1v1.1h-1.1zM168.3 294.2h1.1v1.1h-1.1zM163.3 296.9h1.1v1.1h-1.1zM166.1 297.7h1.1v1.1h-1.1zM168.7 296.8h1.1v1.1h-1.1zM167.1 295.7h1.1v1.1h-1.1zM171.4 293h1.1v1.1h-1.1zM169 297.1h1.1v1.1h-1.1zM167 299.5h1.1v1.1h-1.1zM167.7 295.4h1.1v1.1h-1.1zM164.7 295.4h1.1v1.1h-1.1zM169.1 297.3h1.1v1.1h-1.1zM169.6 300.1h1.1v1.1h-1.1zM164.8 298.9h1.1v1.1h-1.1zM172.9 295.7h1.1v1.1h-1.1zM169.6 292.1h1.1v1.1h-1.1zM168.5 304.3h1.1v1.1h-1.1zM167.7 300.6h1.1v1.1h-1.1zM173.7 298.8h1.1v1.1h-1.1zM163.4 294.1h1.1v1.1h-1.1zM165.9 291.5h1.1v1.1h-1.1zM165.3 296.7h1.1v1.1h-1.1zM172.5 293.8h1.1v1.1h-1.1zM167.3 297.5h1.1v1.1h-1.1zM168.6 295.5h1.1v1.1h-1.1zM166.4 293h1.1v1.1h-1.1zM165.8 298.4h1.1v1.1h-1.1zM167.3 294.9h1.1v1.1h-1.1zM161.4 299.2h1.1v1.1h-1.1zM167.9 301h1.1v1.1h-1.1zM167.1 295.9h1.1v1.1h-1.1zM165.6 295.3h1.1v1.1h-1.1zM167.1 295.7h1.1v1.1h-1.1zM165.9 292.6h1.1v1.1h-1.1zM168.5 293h1.1v1.1h-1.1zM170 292.4h1.1v1.1h-1.1zM171.2 295.4h1.1v1.1h-1.1zM165.5 296.3h1.1v1.1h-1.1zM166.9 295.9h1.1v1.1h-1.1zM168.5 295.9h1.1v1.1h-1.1zM169 297.7h1.1v1.1h-1.1zM168.3 293.9h1.1v1.1h-1.1zM164.7 297.3h1.1v1.1h-1.1zM164.3 298.8h1.1v1.1h-1.1zM169.4 298.6h1.1v1.1h-1.1zM165.9 293.8h1.1v1.1h-1.1zM165.9 296.3h1.1v1.1h-1.1zM163.6 295.7h1.1v1.1h-1.1zM163.6 294.5h1.1v1.1h-1.1zM166 296.1h1.1v1.1h-1.1zM165.2 295.6h1.1v1.1h-1.1zM165.8 296.3h1.1v1.1h-1.1z" fill="#000" opacity="0.5"/>
</g>
<rect x="22.1" y="29.6" width="47.5" height="39.6" fill="none" stroke="#1a1a1a" stroke-width="1.15"/>
<path d="M36.6 29.6V69.2" stroke="#2a2a2a" stroke-width="1.05"/>
<path d="M22.1 57.1H69.6" stroke="#2a2a2a" stroke-width="1.05"/>
<text x="67.2" y="37.4" font-size="7.6" text-anchor="end" fill="#111" stroke="#111" stroke-width="0.18">1</text>
<text x="67.2" y="63.5" font-size="7.6" text-anchor="end" fill="#111" stroke="#111" stroke-width="0.18">2.5</text>
<rect x="79.5" y="30.8" width="47.4" height="38.7" fill="none" stroke="#1a1a1a" stroke-width="1.15"/>
<path d="M93.4 30.8V69.5" stroke="#2a2a2a" stroke-width="1.05"/>
<path d="M79.5 57.9H126.9" stroke="#2a2a2a" stroke-width="1.05"/>
<text x="124.5" y="38.6" font-size="7.6" text-anchor="end" fill="#111" stroke="#111" stroke-width="0.18">2</text>
<text x="124.5" y="64.3" font-size="7.6" text-anchor="end" fill="#111" stroke="#111" stroke-width="0.18">0.8</text>
<rect x="137.1" y="31.5" width="46.9" height="38.4" fill="none" stroke="#1a1a1a" stroke-width="1.15"/>
<path d="M151.8 31.5V69.9" stroke="#2a2a2a" stroke-width="1.05"/>
<path d="M137.1 58.2H184" stroke="#2a2a2a" stroke-width="1.05"/>
<text x="181.6" y="39.3" font-size="7.6" text-anchor="end" fill="#111" stroke="#111" stroke-width="0.18">0.9</text>
<text x="181.6" y="64.6" font-size="7.6" text-anchor="end" fill="#111" stroke="#111" stroke-width="0.18">1.5</text>
<rect x="21.8" y="80.5" width="47.7" height="39.3" fill="none" stroke="#1a1a1a" stroke-width="1.15"/>
<path d="M35.6 80.5V119.8" stroke="#2a2a2a" stroke-width="1.05"/>
<path d="M21.8 107.8H69.5" stroke="#2a2a2a" stroke-width="1.05"/>
<text x="67.1" y="88.3" font-size="7.6" text-anchor="end" fill="#111" stroke="#111" stroke-width="0.18">48</text>
<text x="67.1" y="114.2" font-size="7.6" text-anchor="end" fill="#111" stroke="#111" stroke-width="0.18">90</text>
<rect x="80" y="79.9" width="46.9" height="39.6" fill="none" stroke="#1a1a1a" stroke-width="1.15"/>
<path d="M94.1 79.9V119.5" stroke="#2a2a2a" stroke-width="1.05"/>
<path d="M80 107.5H126.9" stroke="#2a2a2a" stroke-width="1.05"/>
<text x="124.5" y="87.7" font-size="7.6" text-anchor="end" fill="#111" stroke="#111" stroke-width="0.18">60</text>
<text x="124.5" y="113.9" font-size="7.6" text-anchor="end" fill="#111" stroke="#111" stroke-width="0.18">62</text>
<rect x="137.5" y="80.1" width="47.0" height="39.1" fill="none" stroke="#1a1a1a" stroke-width="1.15"/>
<path d="M152.3 80.1V119.2" stroke="#2a2a2a" stroke-width="1.05"/>
<path d="M137.5 106.8H184.5" stroke="#2a2a2a" stroke-width="1.05"/>
<text x="182.1" y="87.9" font-size="7.6" text-anchor="end" fill="#111" stroke="#111" stroke-width="0.18">30</text>
<text x="182.1" y="113.2" font-size="7.6" text-anchor="end" fill="#111" stroke="#111" stroke-width="0.18">80</text>
<rect x="22.3" y="130.5" width="47.6" height="39.2" fill="none" stroke="#1a1a1a" stroke-width="1.15"/>
<path d="M37.1 130.5V169.7" stroke="#2a2a2a" stroke-width="1.05"/>
<path d="M22.3 157.9H69.9" stroke="#2a2a2a" stroke-width="1.05"/>
<text x="67.5" y="138.3" font-size="7.6" text-anchor="end" fill="#111" stroke="#111" stroke-width="0.18">24</text>
<text x="67.5" y="164.3" font-size="7.6" text-anchor="end" fill="#111" stroke="#111" stroke-width="0.18">5</text>
<rect x="78.8" y="130.5" width="48.5" height="39.2" fill="none" stroke="#1a1a1a" stroke-width="1.15"/>
<path d="M93.6 130.5V169.7" stroke="#2a2a2a" stroke-width="1.05"/>
<path d="M78.8 157.8H127.3" stroke="#2a2a2a" stroke-width="1.05"/>
<text x="124.9" y="138.3" font-size="7.6" text-anchor="end" fill="#111" stroke="#111" stroke-width="0.18">4</text>
<text x="124.9" y="164.2" font-size="7.6" text-anchor="end" fill="#111" stroke="#111" stroke-width="0.18">19</text>
<rect x="137.1" y="129.9" width="47.8" height="39.6" fill="none" stroke="#1a1a1a" stroke-width="1.15"/>
<path d="M152.4 129.9V169.5" stroke="#2a2a2a" stroke-width="1.05"/>
<path d="M137.1 156.9H184.9" stroke="#2a2a2a" stroke-width="1.05"/>
<text x="182.5" y="137.7" font-size="7.6" text-anchor="end" fill="#111" stroke="#111" stroke-width="0.18">9</text>
<text x="182.5" y="163.3" font-size="7.6" text-anchor="end" fill="#111" stroke="#111" stroke-width="0.18">18</text>
<rect x="22.1" y="179.5" width="47.8" height="39.4" fill="none" stroke="#1a1a1a" stroke-width="1.15"/>
<path d="M36.2 179.5V218.9" stroke="#2a2a2a" stroke-width="1.05"/>
<path d="M22.1 206.5H69.9" stroke="#2a2a2a" stroke-width="1.05"/>
<text x="67.5" y="187.3" font-size="7.6" text-anchor="end" fill="#111" stroke="#111" stroke-width="0.18">3.5</text>
<text x="67.5" y="212.9" font-size="7.6" text-anchor="end" fill="#111" stroke="#111" stroke-width="0.18">5</text>
<rect x="79.1" y="179.5" width="48.2" height="39.4" fill="none" stroke="#1a1a1a" stroke-width="1.15"/>
<path d="M95.3 179.5V218.9" stroke="#2a2a2a" stroke-width="1.05"/>
<path d="M79.1 206.2H127.3" stroke="#2a2a2a" stroke-width="1.05"/>
<text x="124.9" y="187.3" font-size="7.6" text-anchor="end" fill="#111" stroke="#111" stroke-width="0.18">0</text>
<text x="124.9" y="212.6" font-size="7.6" text-anchor="end" fill="#111" stroke="#111" stroke-width="0.18">0</text>
<rect x="137.1" y="179.2" width="47.8" height="39.4" fill="none" stroke="#1a1a1a" stroke-width="1.15"/>
<path d="M152.1 179.2V218.6" stroke="#2a2a2a" stroke-width="1.05"/>
<path d="M137.1 206.2H184.9" stroke="#2a2a2a" stroke-width="1.05"/>
<text x="182.5" y="187.0" font-size="7.6" text-anchor="end" fill="#111" stroke="#111" stroke-width="0.18">9</text>
<text x="182.5" y="212.6" font-size="7.6" text-anchor="end" fill="#111" stroke="#111" stroke-width="0.18">1.5</text>
<rect x="22.1" y="225.8" width="47.8" height="39.8" fill="none" stroke="#1a1a1a" stroke-width="1.15"/>
<path d="M40.4 225.8V265.6" stroke="#2a2a2a" stroke-width="1.05"/>
<path d="M22.1 258.3H69.9" stroke="#2a2a2a" stroke-width="1.05"/>
<text x="67.5" y="233.6" font-size="7.6" text-anchor="end" fill="#111" stroke="#111" stroke-width="0.18">0</text>
<text x="67.5" y="264.7" font-size="7.6" text-anchor="end" fill="#111" stroke="#111" stroke-width="0.18">0.2</text>
<rect x="79.1" y="225.8" width="47.8" height="39.8" fill="none" stroke="#1a1a1a" stroke-width="1.15"/>
<path d="M97.8 225.8V265.6" stroke="#2a2a2a" stroke-width="1.05"/>
<path d="M79.1 258.4H126.9" stroke="#2a2a2a" stroke-width="1.05"/>
<text x="124.5" y="233.6" font-size="7.6" text-anchor="end" fill="#111" stroke="#111" stroke-width="0.18">0</text>
<text x="124.5" y="264.8" font-size="7.6" text-anchor="end" fill="#111" stroke="#111" stroke-width="0.18">0.2</text>
<rect x="137.2" y="225.8" width="47.9" height="39.6" fill="none" stroke="#1a1a1a" stroke-width="1.15"/>
<path d="M155.4 225.8V265.4" stroke="#2a2a2a" stroke-width="1.05"/>
<path d="M137.2 257.1H185.1" stroke="#2a2a2a" stroke-width="1.05"/>
<text x="182.7" y="233.6" font-size="7.6" text-anchor="end" fill="#111" stroke="#111" stroke-width="0.18">0</text>
<text x="182.7" y="263.5" font-size="7.6" text-anchor="end" fill="#111" stroke="#111" stroke-width="0.18">0.2</text>
<rect x="22.1" y="271.5" width="47.8" height="39.7" fill="none" stroke="#1a1a1a" stroke-width="1.15"/>
<path d="M40.4 271.5V311.2" stroke="#2a2a2a" stroke-width="1.05"/>
<path d="M22.1 303.6H69.9" stroke="#2a2a2a" stroke-width="1.05"/>
<text x="67.5" y="279.3" font-size="7.6" text-anchor="end" fill="#111" stroke="#111" stroke-width="0.18">85</text>
<text x="67.5" y="310.0" font-size="7.6" text-anchor="end" fill="#111" stroke="#111" stroke-width="0.18">6</text>
<rect x="79.4" y="271.2" width="47.5" height="39.8" fill="none" stroke="#1a1a1a" stroke-width="1.15"/>
<path d="M97.8 271.2V311" stroke="#2a2a2a" stroke-width="1.05"/>
<path d="M79.4 304.1H126.9" stroke="#2a2a2a" stroke-width="1.05"/>
<text x="124.5" y="279.0" font-size="7.6" text-anchor="end" fill="#111" stroke="#111" stroke-width="0.18">92</text>
<text x="124.5" y="310.5" font-size="7.6" text-anchor="end" fill="#111" stroke="#111" stroke-width="0.18">4</text>
<rect x="136.8" y="271.2" width="48.1" height="40.0" fill="none" stroke="#1a1a1a" stroke-width="1.15"/>
<path d="M155.8 271.2V311.2" stroke="#2a2a2a" stroke-width="1.05"/>
<path d="M136.8 303.6H184.9" stroke="#2a2a2a" stroke-width="1.9"/>
<text x="182.5" y="279.0" font-size="7.6" text-anchor="end" fill="#111" stroke="#111" stroke-width="0.18">85</text>
<text x="182.5" y="310.0" font-size="7.6" text-anchor="end" fill="#111" stroke="#111" stroke-width="0.18">2.5</text>
</g>
<text transform="translate(309.81 146.90) scale(1 1.1)" font-size="9.3" font-weight="bold" fill="#111">C</text>
<path d="M302.12 124.31V112.22M299.52 112.22H304.73" stroke="#333" stroke-width="1"/>
<rect x="296.62" y="124.31" width="11" height="10.09" fill="#fff" stroke="#111" stroke-width="0.9"/>
<path d="M313.12 131.66V119.32M310.52 119.32H315.73" stroke="#333" stroke-width="1"/>
<rect x="307.62" y="131.66" width="11" height="2.74" fill="#6b6b6b" stroke="#111" stroke-width="0.9"/>
<rect x="318.62" y="131.28" width="11" height="3.12" fill="#000" stroke="#111" stroke-width="0.9"/>
<text transform="translate(344.19 146.90) scale(1 1.1)" font-size="9.3" font-weight="bold" fill="#111">CXCL12</text>
<path d="M351.57 56.40V39.45M348.97 39.45H354.18" stroke="#333" stroke-width="1"/>
<rect x="346.07" y="56.40" width="11" height="78.00" fill="#fff" stroke="#111" stroke-width="0.9"/>
<path d="M362.57 90.54V74.84M359.97 74.84H365.18" stroke="#333" stroke-width="1"/>
<rect x="357.07" y="90.54" width="11" height="43.86" fill="#6b6b6b" stroke="#111" stroke-width="0.9"/>
<path d="M373.57 96.52V84.31M370.97 84.31H376.18" stroke="#333" stroke-width="1"/>
<rect x="368.07" y="96.52" width="11" height="37.88" fill="#000" stroke="#111" stroke-width="0.9"/>
<text transform="translate(400.26 146.90) scale(1 1.1)" font-size="9.3" font-weight="bold" fill="#111">CCL3</text>
<path d="M401.02 86.55V78.33M398.42 78.33H403.62" stroke="#333" stroke-width="1"/>
<rect x="395.52" y="86.55" width="11" height="47.85" fill="#fff" stroke="#111" stroke-width="0.9"/>
<path d="M412.02 115.83V106.74M409.42 106.74H414.62" stroke="#333" stroke-width="1"/>
<rect x="406.52" y="115.83" width="11" height="18.57" fill="#6b6b6b" stroke="#111" stroke-width="0.9"/>
<path d="M423.02 111.97V102.63M420.42 102.63H425.62" stroke="#333" stroke-width="1"/>
<rect x="417.52" y="111.97" width="11" height="22.43" fill="#000" stroke="#111" stroke-width="0.9"/>
<text transform="translate(443.49 146.90) scale(1 1.1)" font-size="9.3" font-weight="bold" fill="#111">CXCL10</text>
<path d="M450.48 96.77V84.19M447.88 84.19H453.08" stroke="#333" stroke-width="1"/>
<rect x="444.98" y="96.77" width="11" height="37.63" fill="#fff" stroke="#111" stroke-width="0.9"/>
<path d="M461.48 124.06V112.22M458.88 112.22H464.08" stroke="#333" stroke-width="1"/>
<rect x="455.98" y="124.06" width="11" height="10.34" fill="#6b6b6b" stroke="#111" stroke-width="0.9"/>
<rect x="466.98" y="127.80" width="11" height="6.60" fill="#000" stroke="#111" stroke-width="0.9"/>
<path d="M288.4 34.72V134.4H486.2v1.6" stroke="#333" stroke-width="1" fill="none"/>
<path d="M286.2 134.40H288.4" stroke="#333" stroke-width="1"/>
<text x="274.97" y="137.00" font-size="9.2" font-weight="bold" fill="#111">0</text>
<path d="M286.2 109.48H288.4" stroke="#333" stroke-width="1"/>
<text x="272.44" y="112.08" font-size="9.2" font-weight="bold" fill="#111">20</text>
<path d="M286.2 84.56H288.4" stroke="#333" stroke-width="1"/>
<text x="272.49" y="87.16" font-size="9.2" font-weight="bold" fill="#111">40</text>
<path d="M286.2 59.64H288.4" stroke="#333" stroke-width="1"/>
<text x="272.39" y="62.24" font-size="9.2" font-weight="bold" fill="#111">60</text>
<path d="M286.2 34.72H288.4" stroke="#333" stroke-width="1"/>
<text x="272.44" y="37.32" font-size="9.2" font-weight="bold" fill="#111">80</text>
<text x="370.94" y="7.60" font-size="10.9" font-weight="bold" fill="#111">mNK</text>
<rect x="453.9" y="17.40" width="5.2" height="5" fill="#fff" stroke="#222" stroke-width="0.9"/>
<text x="462.58" y="22.60" font-size="8.9" font-weight="bold" fill="#111">Bone marrow</text>
<rect x="453.9" y="28.50" width="5.2" height="5" fill="#000" stroke="#222" stroke-width="0.9"/>
<text x="462.58" y="33.70" font-size="8.9" font-weight="bold" fill="#111">Blood</text>
<rect x="453.9" y="39.60" width="5.2" height="5" fill="#6b6b6b" stroke="#222" stroke-width="0.9"/>
<text x="462.93" y="44.80" font-size="8.9" font-weight="bold" fill="#111">Spleen</text>
<text x="250.81" y="12.20" font-size="17" font-weight="bold" fill="#111">B</text>
<text transform="translate(264.60 137.33) rotate(-90)" font-size="9.0" font-weight="bold" fill="#111">Migration (% of input cells)</text>
<text transform="translate(310.06 310.60) scale(1 1.1)" font-size="9.3" font-weight="bold" fill="#111">C</text>
<path d="M302.23 295.03V291.45M299.63 291.45H304.83" stroke="#333" stroke-width="1"/>
<rect x="296.43" y="295.03" width="11.6" height="4.57" fill="#fff" stroke="#111" stroke-width="0.9"/>
<path d="M313.83 295.43V291.45M311.23 291.45H316.43" stroke="#333" stroke-width="1"/>
<rect x="308.03" y="295.43" width="11.6" height="4.17" fill="#6b6b6b" stroke="#111" stroke-width="0.9"/>
<path d="M325.43 294.03V290.46M322.83 290.46H328.03" stroke="#333" stroke-width="1"/>
<rect x="319.63" y="294.03" width="11.6" height="5.57" fill="#000" stroke="#111" stroke-width="0.9"/>
<text transform="translate(345.54 310.60) scale(1 1.1)" font-size="9.3" font-weight="bold" fill="#111">CXCL12</text>
<path d="M352.68 263.82V247.91M350.07 247.91H355.28" stroke="#333" stroke-width="1"/>
<rect x="346.88" y="263.82" width="11.6" height="35.78" fill="#fff" stroke="#111" stroke-width="0.9"/>
<path d="M364.28 267.79V253.88M361.68 253.88H366.88" stroke="#333" stroke-width="1"/>
<rect x="358.48" y="267.79" width="11.6" height="31.81" fill="#6b6b6b" stroke="#111" stroke-width="0.9"/>
<path d="M375.88 271.77V261.83M373.27 261.83H378.48" stroke="#333" stroke-width="1"/>
<rect x="370.07" y="271.77" width="11.6" height="27.83" fill="#000" stroke="#111" stroke-width="0.9"/>
<text transform="translate(401.46 310.60) scale(1 1.1)" font-size="9.3" font-weight="bold" fill="#111">CCL3</text>
<path d="M403.13 295.62V289.66M400.53 289.66H405.73" stroke="#333" stroke-width="1"/>
<rect x="397.33" y="295.62" width="11.6" height="3.98" fill="#fff" stroke="#111" stroke-width="0.9"/>
<path d="M414.73 295.62V289.66M412.13 289.66H417.33" stroke="#333" stroke-width="1"/>
<rect x="408.93" y="295.62" width="11.6" height="3.98" fill="#6b6b6b" stroke="#111" stroke-width="0.9"/>
<path d="M426.33 291.65V285.68M423.73 285.68H428.93" stroke="#333" stroke-width="1"/>
<rect x="420.53" y="291.65" width="11.6" height="7.95" fill="#000" stroke="#111" stroke-width="0.9"/>
<text transform="translate(447.64 310.60) scale(1 1.1)" font-size="9.3" font-weight="bold" fill="#111">CXCL10</text>
<path d="M453.57 295.62V291.65M450.97 291.65H456.18" stroke="#333" stroke-width="1"/>
<rect x="447.77" y="295.62" width="11.6" height="3.98" fill="#fff" stroke="#111" stroke-width="0.9"/>
<path d="M465.18 291.65V287.67M462.57 287.67H467.78" stroke="#333" stroke-width="1"/>
<rect x="459.38" y="291.65" width="11.6" height="7.95" fill="#6b6b6b" stroke="#111" stroke-width="0.9"/>
<path d="M476.77 289.66V285.68M474.17 285.68H479.38" stroke="#333" stroke-width="1"/>
<rect x="470.97" y="289.66" width="11.6" height="9.94" fill="#000" stroke="#111" stroke-width="0.9"/>
<path d="M288.6 200.20V299.6H490.4v1.6" stroke="#333" stroke-width="1" fill="none"/>
<path d="M286.40000000000003 299.60H288.6" stroke="#333" stroke-width="1"/>
<text x="274.97" y="302.80" font-size="9.2" font-weight="bold" fill="#111">0</text>
<path d="M286.40000000000003 279.72H288.6" stroke="#333" stroke-width="1"/>
<text x="272.30" y="282.92" font-size="9.2" font-weight="bold" fill="#111">10</text>
<path d="M286.40000000000003 259.84H288.6" stroke="#333" stroke-width="1"/>
<text x="272.44" y="263.04" font-size="9.2" font-weight="bold" fill="#111">20</text>
<path d="M286.40000000000003 239.96H288.6" stroke="#333" stroke-width="1"/>
<text x="272.49" y="243.16" font-size="9.2" font-weight="bold" fill="#111">30</text>
<path d="M286.40000000000003 220.08H288.6" stroke="#333" stroke-width="1"/>
<text x="272.49" y="223.28" font-size="9.2" font-weight="bold" fill="#111">40</text>
<path d="M286.40000000000003 200.20H288.6" stroke="#333" stroke-width="1"/>
<text x="272.44" y="203.40" font-size="9.2" font-weight="bold" fill="#111">50</text>
<text x="368.34" y="183.60" font-size="10.9" font-weight="bold" fill="#111">iNK</text>
<rect x="453.9" y="191.60" width="5.2" height="5" fill="#fff" stroke="#222" stroke-width="0.9"/>
<text x="462.58" y="197.40" font-size="8.9" font-weight="bold" fill="#111">Bone marrow</text>
<rect x="453.9" y="202.70" width="5.2" height="5" fill="#000" stroke="#222" stroke-width="0.9"/>
<text x="462.58" y="208.50" font-size="8.9" font-weight="bold" fill="#111">Blood</text>
<rect x="453.9" y="213.80" width="5.2" height="5" fill="#6b6b6b" stroke="#222" stroke-width="0.9"/>
<text x="462.93" y="219.60" font-size="8.9" font-weight="bold" fill="#111">Spleen</text>
<text x="251.02" y="187.20" font-size="17" font-weight="bold" fill="#111">C</text>
<text transform="translate(264.60 301.03) rotate(-90)" font-size="9.0" font-weight="bold" fill="#111">Migration (% of input cells)</text>
<path d="M350.2 21.0Q350.2 18.2 352.2 18.2H370.1Q372.1 18.2 372.1 21.0" stroke="#222" stroke-width="1" fill="none"/>
<text x="359.05" y="17.20" font-size="9.5" font-weight="bold" fill="#111" stroke="#111" stroke-width="0.25">*</text>
<path d="M349.8 32.2Q349.8 29.6 351.8 29.6H359.7Q361.7 29.6 361.7 32.2" stroke="#222" stroke-width="1" fill="none"/>
<text x="353.85" y="27.90" font-size="9.5" font-weight="bold" fill="#111" stroke="#111" stroke-width="0.25">*</text>
<path d="M402.5 63.2Q402.5 60.6 404.5 60.6H421.5Q423.5 60.6 423.5 63.2" stroke="#222" stroke-width="1" fill="none"/>
<text x="410.05" y="57.80" font-size="9.5" font-weight="bold" fill="#111" stroke="#111" stroke-width="0.25">*</text>
<path d="M402.5 73.60000000000001Q402.5 71.2 404.5 71.2H411.2Q413.2 71.2 413.2 73.60000000000001" stroke="#222" stroke-width="1" fill="none"/>
<text x="405.75" y="69.20" font-size="9.5" font-weight="bold" fill="#111" stroke="#111" stroke-width="0.25">*</text>
<path d="M452.1 69.8Q452.1 67.0 454.1 67.0H471.9Q473.9 67.0 473.9 69.8" stroke="#222" stroke-width="1" fill="none"/>
<text x="460.15" y="64.80" font-size="9.5" font-weight="bold" fill="#111" stroke="#111" stroke-width="0.25">*</text>
<path d="M452.1 80.39999999999999Q452.1 77.6 454.1 77.6H461.4Q463.4 77.6 463.4 80.39999999999999" stroke="#222" stroke-width="1" fill="none"/>
<text x="455.65" y="76.60" font-size="9.5" font-weight="bold" fill="#111" stroke="#111" stroke-width="0.25">*</text>
</svg>
</body></html>
